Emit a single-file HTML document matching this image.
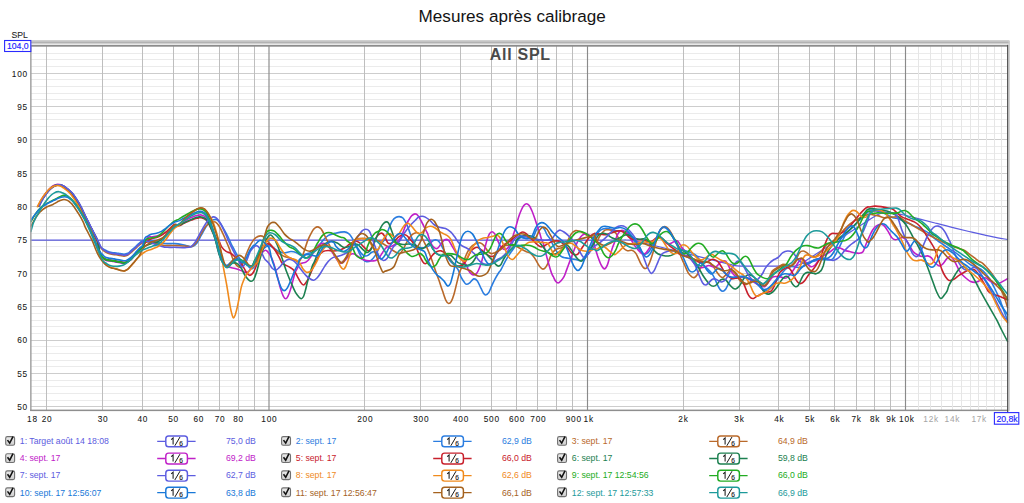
<!DOCTYPE html>
<html><head><meta charset="utf-8"><title>Mesures après calibrage</title>
<style>html,body{margin:0;padding:0;background:#fff;overflow:hidden}body{width:1024px;height:503px;position:relative;font-family:"Liberation Sans",sans-serif}</style></head><body>
<svg width="1024" height="503" viewBox="0 0 1024 503" style="position:absolute;left:0;top:0;font-family:'Liberation Sans',sans-serif">
<rect x="0" y="0" width="1024" height="503" fill="#ffffff"/>
<defs><linearGradient id="cbg" x1="0" y1="0" x2="0" y2="1"><stop offset="0" stop-color="#ececec"/><stop offset="1" stop-color="#cfcfcf"/></linearGradient></defs>
<g shape-rendering="auto" fill="none">
<line x1="30.7" y1="400.50" x2="1007.6" y2="400.50" stroke="#ebebeb" stroke-width="1"/>
<line x1="30.7" y1="393.50" x2="1007.6" y2="393.50" stroke="#ebebeb" stroke-width="1"/>
<line x1="30.7" y1="386.50" x2="1007.6" y2="386.50" stroke="#ebebeb" stroke-width="1"/>
<line x1="30.7" y1="380.50" x2="1007.6" y2="380.50" stroke="#ebebeb" stroke-width="1"/>
<line x1="30.7" y1="366.50" x2="1007.6" y2="366.50" stroke="#ebebeb" stroke-width="1"/>
<line x1="30.7" y1="360.50" x2="1007.6" y2="360.50" stroke="#ebebeb" stroke-width="1"/>
<line x1="30.7" y1="353.50" x2="1007.6" y2="353.50" stroke="#ebebeb" stroke-width="1"/>
<line x1="30.7" y1="346.50" x2="1007.6" y2="346.50" stroke="#ebebeb" stroke-width="1"/>
<line x1="30.7" y1="333.50" x2="1007.6" y2="333.50" stroke="#ebebeb" stroke-width="1"/>
<line x1="30.7" y1="326.50" x2="1007.6" y2="326.50" stroke="#ebebeb" stroke-width="1"/>
<line x1="30.7" y1="320.50" x2="1007.6" y2="320.50" stroke="#ebebeb" stroke-width="1"/>
<line x1="30.7" y1="313.50" x2="1007.6" y2="313.50" stroke="#ebebeb" stroke-width="1"/>
<line x1="30.7" y1="300.50" x2="1007.6" y2="300.50" stroke="#ebebeb" stroke-width="1"/>
<line x1="30.7" y1="293.50" x2="1007.6" y2="293.50" stroke="#ebebeb" stroke-width="1"/>
<line x1="30.7" y1="286.50" x2="1007.6" y2="286.50" stroke="#ebebeb" stroke-width="1"/>
<line x1="30.7" y1="280.50" x2="1007.6" y2="280.50" stroke="#ebebeb" stroke-width="1"/>
<line x1="30.7" y1="266.50" x2="1007.6" y2="266.50" stroke="#ebebeb" stroke-width="1"/>
<line x1="30.7" y1="260.50" x2="1007.6" y2="260.50" stroke="#ebebeb" stroke-width="1"/>
<line x1="30.7" y1="253.50" x2="1007.6" y2="253.50" stroke="#ebebeb" stroke-width="1"/>
<line x1="30.7" y1="246.50" x2="1007.6" y2="246.50" stroke="#ebebeb" stroke-width="1"/>
<line x1="30.7" y1="233.50" x2="1007.6" y2="233.50" stroke="#ebebeb" stroke-width="1"/>
<line x1="30.7" y1="226.50" x2="1007.6" y2="226.50" stroke="#ebebeb" stroke-width="1"/>
<line x1="30.7" y1="220.50" x2="1007.6" y2="220.50" stroke="#ebebeb" stroke-width="1"/>
<line x1="30.7" y1="213.50" x2="1007.6" y2="213.50" stroke="#ebebeb" stroke-width="1"/>
<line x1="30.7" y1="200.50" x2="1007.6" y2="200.50" stroke="#ebebeb" stroke-width="1"/>
<line x1="30.7" y1="193.50" x2="1007.6" y2="193.50" stroke="#ebebeb" stroke-width="1"/>
<line x1="30.7" y1="186.50" x2="1007.6" y2="186.50" stroke="#ebebeb" stroke-width="1"/>
<line x1="30.7" y1="180.50" x2="1007.6" y2="180.50" stroke="#ebebeb" stroke-width="1"/>
<line x1="30.7" y1="166.50" x2="1007.6" y2="166.50" stroke="#ebebeb" stroke-width="1"/>
<line x1="30.7" y1="159.50" x2="1007.6" y2="159.50" stroke="#ebebeb" stroke-width="1"/>
<line x1="30.7" y1="153.50" x2="1007.6" y2="153.50" stroke="#ebebeb" stroke-width="1"/>
<line x1="30.7" y1="146.50" x2="1007.6" y2="146.50" stroke="#ebebeb" stroke-width="1"/>
<line x1="30.7" y1="133.50" x2="1007.6" y2="133.50" stroke="#ebebeb" stroke-width="1"/>
<line x1="30.7" y1="126.50" x2="1007.6" y2="126.50" stroke="#ebebeb" stroke-width="1"/>
<line x1="30.7" y1="119.50" x2="1007.6" y2="119.50" stroke="#ebebeb" stroke-width="1"/>
<line x1="30.7" y1="113.50" x2="1007.6" y2="113.50" stroke="#ebebeb" stroke-width="1"/>
<line x1="30.7" y1="99.50" x2="1007.6" y2="99.50" stroke="#ebebeb" stroke-width="1"/>
<line x1="30.7" y1="93.50" x2="1007.6" y2="93.50" stroke="#ebebeb" stroke-width="1"/>
<line x1="30.7" y1="86.50" x2="1007.6" y2="86.50" stroke="#ebebeb" stroke-width="1"/>
<line x1="30.7" y1="79.50" x2="1007.6" y2="79.50" stroke="#ebebeb" stroke-width="1"/>
<line x1="30.7" y1="66.50" x2="1007.6" y2="66.50" stroke="#ebebeb" stroke-width="1"/>
<line x1="30.7" y1="59.50" x2="1007.6" y2="59.50" stroke="#ebebeb" stroke-width="1"/>
<line x1="30.7" y1="53.50" x2="1007.6" y2="53.50" stroke="#ebebeb" stroke-width="1"/>
<line x1="30.7" y1="406.50" x2="1007.6" y2="406.50" stroke="#cdcdcd" stroke-width="1"/>
<line x1="30.7" y1="373.50" x2="1007.6" y2="373.50" stroke="#cdcdcd" stroke-width="1"/>
<line x1="30.7" y1="340.50" x2="1007.6" y2="340.50" stroke="#cdcdcd" stroke-width="1"/>
<line x1="30.7" y1="306.50" x2="1007.6" y2="306.50" stroke="#cdcdcd" stroke-width="1"/>
<line x1="30.7" y1="273.50" x2="1007.6" y2="273.50" stroke="#cdcdcd" stroke-width="1"/>
<line x1="30.7" y1="240.50" x2="1007.6" y2="240.50" stroke="#cdcdcd" stroke-width="1"/>
<line x1="30.7" y1="206.50" x2="1007.6" y2="206.50" stroke="#cdcdcd" stroke-width="1"/>
<line x1="30.7" y1="173.50" x2="1007.6" y2="173.50" stroke="#cdcdcd" stroke-width="1"/>
<line x1="30.7" y1="139.50" x2="1007.6" y2="139.50" stroke="#cdcdcd" stroke-width="1"/>
<line x1="30.7" y1="106.50" x2="1007.6" y2="106.50" stroke="#cdcdcd" stroke-width="1"/>
<line x1="30.7" y1="73.50" x2="1007.6" y2="73.50" stroke="#cdcdcd" stroke-width="1"/>
<line x1="46.50" y1="45.7" x2="46.50" y2="410.2" stroke="#bebebe" stroke-width="1.00"/>
<line x1="102.50" y1="45.7" x2="102.50" y2="410.2" stroke="#bebebe" stroke-width="1.00"/>
<line x1="142.50" y1="45.7" x2="142.50" y2="410.2" stroke="#bebebe" stroke-width="1.00"/>
<line x1="173.50" y1="45.7" x2="173.50" y2="410.2" stroke="#bebebe" stroke-width="1.00"/>
<line x1="198.50" y1="45.7" x2="198.50" y2="410.2" stroke="#bebebe" stroke-width="1.00"/>
<line x1="219.50" y1="45.7" x2="219.50" y2="410.2" stroke="#bebebe" stroke-width="1.00"/>
<line x1="238.50" y1="45.7" x2="238.50" y2="410.2" stroke="#bebebe" stroke-width="1.00"/>
<line x1="254.50" y1="45.7" x2="254.50" y2="410.2" stroke="#bebebe" stroke-width="1.00"/>
<line x1="269.00" y1="45.7" x2="269.00" y2="410.2" stroke="#8a8a8a" stroke-width="1.15"/>
<line x1="364.50" y1="45.7" x2="364.50" y2="410.2" stroke="#bebebe" stroke-width="1.00"/>
<line x1="420.50" y1="45.7" x2="420.50" y2="410.2" stroke="#bebebe" stroke-width="1.00"/>
<line x1="460.50" y1="45.7" x2="460.50" y2="410.2" stroke="#bebebe" stroke-width="1.00"/>
<line x1="491.50" y1="45.7" x2="491.50" y2="410.2" stroke="#bebebe" stroke-width="1.00"/>
<line x1="516.50" y1="45.7" x2="516.50" y2="410.2" stroke="#bebebe" stroke-width="1.00"/>
<line x1="537.50" y1="45.7" x2="537.50" y2="410.2" stroke="#bebebe" stroke-width="1.00"/>
<line x1="556.50" y1="45.7" x2="556.50" y2="410.2" stroke="#bebebe" stroke-width="1.00"/>
<line x1="572.50" y1="45.7" x2="572.50" y2="410.2" stroke="#bebebe" stroke-width="1.00"/>
<line x1="587.50" y1="45.7" x2="587.50" y2="410.2" stroke="#8a8a8a" stroke-width="1.15"/>
<line x1="683.50" y1="45.7" x2="683.50" y2="410.2" stroke="#bebebe" stroke-width="1.00"/>
<line x1="739.50" y1="45.7" x2="739.50" y2="410.2" stroke="#bebebe" stroke-width="1.00"/>
<line x1="778.50" y1="45.7" x2="778.50" y2="410.2" stroke="#bebebe" stroke-width="1.00"/>
<line x1="809.50" y1="45.7" x2="809.50" y2="410.2" stroke="#bebebe" stroke-width="1.00"/>
<line x1="834.50" y1="45.7" x2="834.50" y2="410.2" stroke="#bebebe" stroke-width="1.00"/>
<line x1="856.50" y1="45.7" x2="856.50" y2="410.2" stroke="#bebebe" stroke-width="1.00"/>
<line x1="874.50" y1="45.7" x2="874.50" y2="410.2" stroke="#bebebe" stroke-width="1.00"/>
<line x1="890.50" y1="45.7" x2="890.50" y2="410.2" stroke="#bebebe" stroke-width="1.00"/>
<line x1="905.50" y1="45.7" x2="905.50" y2="410.2" stroke="#8a8a8a" stroke-width="1.15"/>
<line x1="918.50" y1="45.7" x2="918.50" y2="410.2" stroke="#e6e6e6" stroke-width="1.00"/>
<line x1="930.50" y1="45.7" x2="930.50" y2="410.2" stroke="#e6e6e6" stroke-width="1.00"/>
<line x1="941.50" y1="45.7" x2="941.50" y2="410.2" stroke="#e6e6e6" stroke-width="1.00"/>
<line x1="952.50" y1="45.7" x2="952.50" y2="410.2" stroke="#e6e6e6" stroke-width="1.00"/>
<line x1="961.50" y1="45.7" x2="961.50" y2="410.2" stroke="#e6e6e6" stroke-width="1.00"/>
<line x1="970.50" y1="45.7" x2="970.50" y2="410.2" stroke="#e6e6e6" stroke-width="1.00"/>
<line x1="978.50" y1="45.7" x2="978.50" y2="410.2" stroke="#e6e6e6" stroke-width="1.00"/>
<line x1="986.50" y1="45.7" x2="986.50" y2="410.2" stroke="#e6e6e6" stroke-width="1.00"/>
<line x1="994.50" y1="45.7" x2="994.50" y2="410.2" stroke="#e6e6e6" stroke-width="1.00"/>
<line x1="1001.50" y1="45.7" x2="1001.50" y2="410.2" stroke="#e6e6e6" stroke-width="1.00"/>
</g>
<g fill="none" stroke-linecap="round" stroke-linejoin="round" stroke-width="1.6">
<path d="M30.7 240.0C58.9 240.0 138.4 240.0 200.0 240.0C261.6 240.0 333.3 240.0 400.0 240.0C466.7 240.0 562.3 240.0 600.0 240.0C637.7 240.0 620.7 239.9 626.0 240.0C631.3 240.1 629.7 240.1 632.0 240.4C634.3 240.8 633.2 240.5 640.0 242.1C646.8 243.7 663.0 247.7 673.0 250.2C683.0 252.7 692.2 255.0 700.0 256.9C707.8 258.8 714.7 260.5 720.0 261.8C725.3 263.1 729.2 264.1 732.0 264.8C734.8 265.5 735.3 265.7 737.0 265.9C738.7 266.1 738.2 266.1 742.0 266.2C745.8 266.2 752.0 266.2 760.0 266.2C768.0 266.2 783.8 266.3 790.0 266.2C796.2 266.1 794.8 266.2 797.0 265.6C799.2 265.0 799.2 264.9 803.0 262.5C806.8 260.1 813.8 255.5 820.0 251.5C826.2 247.5 833.3 242.9 840.0 238.6C846.7 234.3 854.7 229.1 860.0 225.7C865.3 222.3 869.0 219.9 872.0 218.0C875.0 216.1 876.2 215.4 878.0 214.5C879.8 213.6 881.3 213.1 883.0 212.8C884.7 212.5 886.0 212.4 888.0 212.5C890.0 212.6 892.0 212.8 895.0 213.3C898.0 213.8 901.8 214.5 906.0 215.5C910.2 216.5 915.2 217.8 920.0 219.1C924.8 220.3 929.7 221.6 935.0 223.0C940.3 224.4 946.3 226.0 952.0 227.4C957.7 228.8 963.5 230.2 969.0 231.5C974.5 232.8 980.2 234.1 985.0 235.2C989.8 236.2 994.1 237.1 997.8 237.8C1001.5 238.5 1005.8 239.2 1007.4 239.5" stroke="#5c5ce0" stroke-width="1.25"/>
<path d="M39.0 206.1C39.5 205.2 40.8 202.2 41.8 200.5C42.8 198.8 43.8 197.2 44.8 195.8C45.8 194.3 46.8 193.0 47.8 191.8C48.8 190.6 49.8 189.5 50.8 188.6C51.8 187.7 52.8 187.0 53.8 186.4C54.8 185.8 56.0 185.4 56.8 185.2C57.6 184.9 58.0 184.8 58.8 184.9C59.6 184.9 60.8 185.1 61.8 185.5C62.8 185.9 63.8 186.4 64.8 187.1C65.8 187.8 66.5 188.3 67.8 189.4C69.1 190.5 71.0 192.0 72.5 193.8C74.0 195.6 75.3 197.7 76.8 200.0C78.3 202.3 79.9 205.0 81.3 207.7C82.7 210.4 83.9 213.3 85.3 216.2C86.7 219.1 88.4 222.4 89.8 225.2C91.2 228.0 92.5 230.4 93.8 233.1C95.1 235.8 96.6 238.8 97.8 241.2C99.0 243.6 99.8 246.0 100.9 247.4C102.0 248.8 103.4 249.0 104.5 249.6C105.6 250.2 106.2 250.7 107.4 251.2C108.6 251.7 110.3 252.2 111.8 252.5C113.3 252.8 114.9 252.8 116.3 253.0C117.7 253.2 118.7 253.4 120.0 253.6C121.3 253.8 122.7 254.3 124.0 254.3C125.3 254.2 126.7 253.9 127.9 253.3C129.1 252.7 129.8 251.7 131.0 250.7C132.2 249.7 133.8 248.2 135.1 247.1C136.3 246.0 137.3 244.9 138.5 243.9C139.7 242.9 140.8 241.7 142.2 241.1C143.6 240.5 145.5 240.4 147.0 240.3C148.5 240.2 149.6 240.3 151.2 240.6C152.8 240.8 154.8 241.4 156.6 241.8C158.4 242.2 160.1 242.7 161.9 243.0C163.7 243.3 165.2 243.5 167.3 243.6C169.4 243.7 172.6 243.5 174.4 243.6C176.2 243.7 176.4 243.7 178.0 243.9C179.6 244.1 182.2 244.6 184.0 245.0C185.8 245.4 187.6 246.0 189.0 246.3C190.4 246.6 191.1 247.1 192.4 246.6C193.7 246.1 195.3 245.1 196.8 243.2C198.3 241.3 199.8 237.9 201.3 235.2C202.8 232.5 204.5 229.3 205.8 227.1C207.2 224.9 208.2 223.4 209.4 222.2C210.6 221.0 211.7 220.4 212.9 220.0C214.1 219.6 215.3 219.0 216.5 219.5C217.7 220.0 218.9 221.5 220.1 223.1C221.3 224.7 222.4 226.6 223.7 228.9C225.0 231.2 226.9 234.6 228.1 237.0C229.3 239.4 230.0 241.4 231.0 243.5C232.0 245.6 233.1 247.5 234.2 249.6C235.3 251.7 236.4 253.9 237.7 255.9C239.0 257.9 240.5 259.7 242.2 261.3C243.8 262.9 246.0 264.4 247.6 265.7C249.2 266.9 250.7 269.1 252.0 268.8C253.3 268.5 254.6 265.7 255.6 264.0C256.6 262.3 257.2 260.2 258.0 258.5C258.8 256.8 259.4 255.5 260.4 253.8C261.4 252.1 262.6 249.8 263.9 248.4C265.2 247.1 266.9 245.8 268.4 245.7C269.9 245.5 271.2 246.6 272.9 247.5C274.5 248.4 276.5 250.2 278.3 251.1C280.1 252.0 281.5 252.8 283.6 252.9C285.7 253.0 288.7 251.6 290.8 251.5C292.9 251.4 294.3 251.7 296.1 252.4C297.9 253.1 299.7 255.4 301.5 255.6C303.3 255.8 305.1 254.4 306.9 253.8C308.7 253.2 310.4 253.1 312.2 252.0C314.0 250.9 315.8 249.4 317.6 247.5C319.4 245.6 321.2 242.4 323.0 240.4C324.8 238.4 326.3 236.6 328.4 235.4C330.5 234.2 332.8 233.8 335.5 233.2C338.2 232.6 342.2 231.8 344.4 231.9C346.6 232.0 347.4 232.6 348.7 233.6C350.0 234.6 351.0 236.1 352.2 238.1C353.4 240.1 354.6 242.8 355.8 245.3C357.0 247.8 358.2 250.9 359.4 253.3C360.6 255.7 361.8 258.2 363.0 259.6C364.2 261.0 365.3 261.7 366.6 261.8C367.9 261.9 369.5 261.6 371.0 260.5C372.5 259.4 374.1 257.2 375.5 255.1C376.9 253.0 378.1 249.8 379.1 247.9C380.1 246.0 380.5 245.0 381.5 243.5C382.5 242.0 383.8 241.4 385.0 239.0C386.2 236.6 387.4 232.2 388.6 229.2C389.8 226.2 391.0 223.0 392.2 221.1C393.4 219.2 394.5 218.2 395.7 217.5C396.9 216.8 398.1 216.5 399.3 216.6C400.5 216.7 401.7 216.8 402.9 218.0C404.1 219.2 405.4 221.7 406.5 223.8C407.6 226.0 408.3 228.5 409.2 230.9C410.1 233.3 410.9 236.0 411.8 238.1C412.7 240.2 413.4 242.0 414.5 243.5C415.6 245.0 416.9 246.3 418.1 247.0C419.3 247.7 420.6 247.8 421.7 247.9C422.8 248.0 423.8 247.8 425.0 247.5C426.2 247.2 427.6 247.0 428.8 246.0C430.0 245.0 430.9 242.5 432.0 241.5C433.1 240.5 434.5 239.7 435.7 239.8C436.9 239.9 438.1 240.6 439.3 242.0C440.5 243.4 441.7 246.1 442.9 248.3C444.1 250.5 445.3 253.3 446.5 255.4C447.7 257.5 448.7 259.2 450.0 260.8C451.3 262.4 453.1 263.8 454.5 265.3C455.9 266.8 457.0 267.7 458.1 269.7C459.2 271.7 460.2 275.2 461.1 277.2C462.1 279.2 462.9 280.4 463.8 281.6C464.7 282.8 465.4 284.2 466.5 284.3C467.6 284.4 468.9 283.4 470.1 282.5C471.3 281.6 472.5 279.2 473.7 278.9C474.9 278.6 476.0 279.2 477.2 280.7C478.4 282.2 479.8 285.8 480.8 287.9C481.9 290.0 482.7 292.1 483.5 293.3C484.3 294.5 484.8 295.1 485.7 295.0C486.6 294.9 487.9 293.9 488.9 292.4C489.9 290.9 490.6 288.4 491.6 286.1C492.6 283.9 493.9 281.1 495.1 278.9C496.3 276.7 497.7 274.2 498.7 272.7C499.7 271.2 499.9 271.7 501.0 269.7C502.1 267.7 504.0 263.5 505.5 260.8C507.0 258.1 508.5 255.8 510.0 253.6C511.5 251.4 513.2 249.3 514.4 247.4C515.6 245.5 516.2 243.5 517.0 242.0C517.8 240.5 518.5 239.2 519.3 238.5C520.1 237.8 520.9 237.5 522.0 237.5C523.1 237.5 524.8 238.3 526.0 238.5C527.2 238.7 528.4 238.5 529.5 238.5C530.6 238.5 531.6 239.7 532.7 238.3C533.8 236.9 535.3 232.0 536.3 230.2C537.3 228.4 537.8 227.9 538.5 227.3C539.2 226.7 539.8 226.3 540.8 226.6C541.8 226.9 543.4 228.0 544.4 229.3C545.4 230.7 546.1 233.2 547.0 234.7C547.9 236.2 548.8 236.8 549.7 238.3C550.6 239.8 551.5 241.8 552.4 243.6C553.3 245.4 554.0 247.2 555.1 249.0C556.2 250.8 557.5 253.1 558.7 254.4C559.9 255.7 561.0 256.4 562.2 257.0C563.4 257.6 564.3 257.6 565.8 257.9C567.3 258.2 569.4 258.5 571.2 258.8C573.0 259.1 575.0 259.4 576.6 259.7C578.2 260.0 579.8 260.9 581.0 260.6C582.2 260.3 582.8 258.9 583.7 257.9C584.6 256.9 585.4 255.9 586.4 254.4C587.4 252.9 589.0 250.8 590.0 249.0C591.0 247.2 592.0 245.2 592.7 243.6C593.4 241.9 593.8 240.4 594.4 239.1C595.0 237.8 595.1 237.1 596.1 235.6C597.1 234.1 598.9 231.4 600.5 230.2C602.1 229.0 604.1 228.6 605.9 228.4C607.7 228.2 609.5 228.9 611.3 229.3C613.1 229.7 614.8 230.4 616.6 230.7C618.4 231.0 620.2 230.7 622.0 231.1C623.8 231.5 625.6 231.7 627.4 232.9C629.2 234.1 631.2 236.4 632.7 238.3C634.2 240.2 635.1 242.6 636.3 244.5C637.5 246.4 638.9 248.6 639.9 250.0C640.9 251.4 641.6 252.1 642.5 252.8C643.4 253.5 644.2 254.3 645.2 254.2C646.2 254.0 647.8 253.0 648.8 251.9C649.8 250.8 650.6 249.0 651.5 247.5C652.4 246.0 653.2 244.2 654.0 243.0C654.8 241.8 655.2 241.7 656.0 240.0C656.8 238.3 657.8 234.8 658.7 232.9C659.6 231.0 660.4 229.7 661.3 228.8C662.2 227.9 663.1 227.4 664.0 227.4C664.9 227.4 665.7 227.7 666.7 228.6C667.8 229.5 669.1 231.1 670.3 232.9C671.5 234.7 672.7 237.1 673.9 239.2C675.1 241.3 676.2 243.8 677.4 245.4C678.6 247.0 679.6 248.1 681.0 249.0C682.4 249.9 684.4 250.4 686.0 251.0C687.6 251.6 689.3 251.8 690.9 252.5C692.5 253.2 694.2 254.1 695.4 255.0C696.6 255.9 696.8 256.2 698.0 257.7C699.2 259.2 701.0 262.1 702.5 263.9C704.0 265.7 705.5 266.9 707.0 268.4C708.5 269.9 710.2 271.1 711.5 272.9C712.8 274.7 714.0 277.1 715.0 279.2C716.0 281.3 716.8 283.6 717.7 285.4C718.6 287.2 719.5 288.9 720.4 289.9C721.3 290.9 722.2 291.3 723.1 291.2C724.0 291.1 724.9 290.3 725.8 289.0C726.7 287.7 727.6 285.2 728.5 283.6C729.4 282.0 730.1 280.2 731.1 279.2C732.1 278.2 733.4 277.7 734.7 277.4C736.0 277.1 737.5 277.2 739.0 277.2C740.5 277.2 742.4 277.2 744.0 277.5C745.6 277.8 746.9 278.3 748.5 279.0C750.1 279.7 751.9 280.5 753.5 281.5C755.1 282.5 756.5 283.7 758.0 285.0C759.5 286.3 761.5 288.5 762.4 289.5C763.3 290.5 762.3 290.7 763.4 290.8C764.5 290.9 767.1 290.8 768.7 289.9C770.3 289.0 771.7 287.2 773.2 285.4C774.7 283.6 776.2 281.3 777.7 279.2C779.2 277.1 780.7 274.7 782.2 272.9C783.7 271.1 785.1 269.4 786.6 268.4C788.1 267.3 789.6 266.8 791.1 266.6C792.6 266.4 794.1 267.0 795.6 267.1C797.1 267.2 798.5 267.7 800.0 267.5C801.5 267.3 803.0 266.4 804.5 265.7C806.0 264.9 807.5 263.7 809.0 263.0C810.5 262.3 811.9 261.8 813.5 261.3C815.1 260.8 817.0 260.1 818.8 259.8C820.6 259.5 822.7 259.6 824.2 259.6C825.8 259.6 826.7 260.0 828.1 259.9C829.5 259.8 831.3 260.3 832.9 258.7C834.5 257.1 836.3 253.0 837.7 250.4C839.1 247.8 840.1 245.6 841.3 243.2C842.5 240.8 843.4 238.2 844.8 236.0C846.2 233.8 848.0 231.9 849.6 230.1C851.2 228.3 852.8 226.9 854.4 225.3C856.0 223.7 857.6 222.1 859.2 220.5C860.8 218.9 862.4 217.1 863.9 215.7C865.4 214.3 867.0 213.0 868.0 212.2C869.0 211.4 869.0 211.2 870.0 210.8C871.0 210.4 872.1 209.9 873.7 209.9C875.3 209.9 877.5 210.3 879.7 211.1C881.9 211.9 884.7 213.6 886.9 214.7C889.1 215.8 890.8 217.0 892.8 217.7C894.8 218.4 896.8 218.2 898.8 218.9C900.8 219.6 902.8 221.0 904.8 221.9C906.8 222.8 908.8 223.5 910.7 224.3C912.6 225.1 914.0 225.9 916.0 226.8C918.0 227.7 920.4 228.4 922.7 229.6C925.0 230.8 927.8 232.3 929.8 233.8C931.8 235.3 932.6 236.8 934.8 238.6C937.0 240.4 940.5 242.7 943.1 244.5C945.7 246.3 947.9 247.7 950.3 249.3C952.7 250.9 955.1 252.3 957.5 254.1C959.9 255.9 962.4 258.3 964.6 260.1C966.8 261.9 968.6 263.6 970.6 264.8C972.6 266.0 974.5 266.2 976.6 267.2C978.7 268.2 980.9 269.0 983.0 270.8C985.1 272.6 987.0 275.0 989.0 278.0C991.0 281.0 993.2 285.3 995.0 289.0C996.8 292.7 998.5 296.3 1000.0 300.0C1001.5 303.7 1002.7 307.6 1004.0 311.0C1005.3 314.4 1007.0 319.1 1007.6 320.7" stroke="#2b7de0"/>
<path d="M38.8 206.3C39.3 205.4 40.6 202.4 41.6 200.7C42.6 199.0 43.6 197.4 44.6 196.0C45.6 194.6 46.6 193.2 47.6 192.0C48.6 190.8 49.6 189.7 50.6 188.8C51.6 187.9 52.6 187.2 53.6 186.6C54.6 186.0 55.8 185.7 56.6 185.4C57.4 185.2 57.8 185.0 58.6 185.1C59.4 185.2 60.6 185.3 61.6 185.7C62.6 186.1 63.6 186.7 64.6 187.3C65.6 188.0 66.3 188.5 67.6 189.6C68.9 190.7 70.8 192.2 72.3 194.0C73.8 195.8 75.1 197.9 76.6 200.2C78.1 202.5 79.7 205.2 81.1 207.9C82.5 210.6 83.7 213.5 85.1 216.4C86.5 219.3 88.2 222.6 89.6 225.4C91.0 228.2 92.3 230.6 93.6 233.3C94.9 236.0 96.4 239.0 97.6 241.4C98.8 243.8 99.5 245.9 100.7 247.6C101.8 249.3 103.4 250.5 104.5 251.4C105.6 252.3 106.2 252.5 107.4 253.0C108.6 253.5 110.3 254.0 111.8 254.3C113.3 254.6 114.9 254.6 116.3 254.8C117.7 255.0 118.7 255.2 120.0 255.4C121.3 255.6 122.7 256.1 124.0 256.1C125.3 256.0 126.7 255.7 127.9 255.1C129.1 254.5 129.8 253.5 131.0 252.5C132.2 251.5 133.8 250.0 135.1 248.9C136.3 247.8 137.3 246.7 138.5 245.7C139.7 244.7 140.8 243.5 142.2 242.9C143.6 242.3 145.5 242.3 147.0 242.1C148.5 241.9 149.6 241.7 151.2 241.9C152.8 242.1 154.8 243.0 156.6 243.5C158.4 244.0 160.1 244.7 161.9 245.0C163.7 245.3 165.2 245.5 167.3 245.6C169.4 245.7 172.6 245.5 174.4 245.5C176.2 245.5 176.2 245.5 178.0 245.6C179.8 245.7 182.8 245.8 185.0 246.0C187.2 246.2 189.5 247.3 191.5 246.6C193.5 245.8 195.2 243.7 196.8 241.5C198.4 239.3 199.8 235.9 201.3 233.4C202.8 230.9 204.5 228.0 205.8 226.3C207.2 224.6 208.2 223.8 209.4 223.1C210.6 222.3 211.9 222.0 212.9 221.8C213.9 221.7 214.6 221.4 215.6 222.2C216.6 222.9 218.0 224.4 219.2 226.3C220.4 228.2 221.6 230.9 222.8 233.4C224.0 235.9 225.2 238.8 226.3 241.5C227.5 244.2 228.7 246.9 229.7 249.6C230.7 252.3 231.4 255.2 232.4 257.7C233.4 260.2 234.7 262.9 235.9 264.5C237.1 266.1 238.5 267.2 239.5 267.3C240.5 267.4 241.2 266.1 242.0 265.0C242.8 263.9 243.2 262.6 244.0 260.5C244.8 258.4 245.9 255.1 247.0 252.5C248.1 249.9 249.3 247.1 250.3 245.2C251.3 243.2 252.1 242.1 253.0 240.8C253.9 239.5 254.7 238.4 255.9 237.6C257.1 236.8 259.1 236.0 260.4 235.9C261.7 235.8 262.6 236.2 263.9 237.2C265.2 238.2 266.9 240.4 268.4 242.1C269.9 243.8 271.2 245.7 272.9 247.5C274.5 249.3 276.4 251.4 278.3 252.9C280.2 254.4 282.4 255.6 284.5 256.5C286.6 257.4 288.9 257.5 290.8 258.2C292.7 258.9 294.8 260.2 296.1 260.9C297.4 261.6 298.0 262.7 298.8 262.3C299.6 261.9 300.2 259.9 301.0 258.5C301.8 257.1 302.2 256.8 303.3 253.8C304.4 250.8 306.3 244.1 307.8 240.4C309.3 236.7 311.0 233.5 312.2 231.4C313.4 229.3 314.1 228.8 315.0 228.0C315.9 227.2 316.8 226.9 317.6 226.9C318.4 226.9 319.2 227.4 320.0 228.0C320.8 228.6 321.0 228.6 322.1 230.5C323.2 232.4 325.1 236.5 326.6 239.5C328.1 242.5 329.5 245.4 331.0 248.4C332.5 251.4 334.1 255.2 335.5 257.4C336.9 259.6 338.1 260.9 339.1 261.8C340.1 262.7 340.4 263.4 341.5 262.8C342.6 262.2 344.4 259.9 345.6 258.0C346.8 256.1 347.6 254.1 348.7 251.5C349.8 248.9 351.0 244.6 352.2 242.6C353.4 240.6 354.3 240.1 355.8 239.4C357.3 238.7 359.4 238.7 361.2 238.5C363.0 238.3 365.1 238.3 366.6 238.5C368.1 238.7 369.0 239.7 370.1 239.9C371.2 240.1 371.7 239.4 373.1 239.6C374.5 239.8 376.9 240.4 378.5 241.1C380.1 241.8 381.3 242.9 382.9 243.8C384.5 244.8 386.6 245.7 388.3 246.8C390.0 247.9 391.5 249.5 393.0 250.5C394.5 251.5 396.0 252.4 397.2 252.8C398.4 253.2 399.2 253.7 400.2 253.2C401.1 252.7 402.0 251.2 402.9 249.8C403.8 248.4 404.6 246.4 405.6 244.5C406.7 242.6 408.0 239.8 409.2 238.1C410.4 236.4 411.5 235.0 412.7 234.1C413.9 233.2 415.2 232.8 416.3 232.7C417.4 232.6 418.1 232.8 419.0 233.6C419.9 234.3 420.8 235.7 421.7 237.2C422.6 238.7 423.5 240.8 424.4 242.6C425.3 244.4 426.1 245.9 427.0 247.9C427.9 249.9 428.6 251.6 429.7 254.3C430.8 257.0 432.4 261.6 433.3 264.2C434.2 266.8 434.3 267.4 435.2 270.0C436.1 272.6 437.6 276.4 438.8 279.8C440.0 283.2 441.2 287.2 442.4 290.6C443.6 294.0 444.9 298.2 445.9 300.4C446.9 302.5 447.7 303.4 448.6 303.5C449.5 303.6 450.4 302.9 451.3 301.3C452.2 299.8 453.1 297.2 454.0 294.2C454.9 291.2 455.8 287.0 456.7 283.4C457.6 279.8 458.5 275.5 459.4 272.7C460.3 269.9 460.9 269.4 461.9 266.8C462.9 264.2 464.1 259.8 465.3 257.0C466.5 254.2 467.6 251.7 468.8 249.8C470.0 247.9 471.0 246.7 472.4 245.6C473.8 244.5 475.5 243.8 476.9 243.3C478.2 242.9 479.3 242.5 480.5 242.9C481.7 243.3 482.8 244.3 484.0 245.6C485.2 246.9 486.4 249.6 487.6 250.9C488.8 252.2 490.0 253.3 491.2 253.6C492.4 253.9 493.6 253.1 494.8 252.7C496.0 252.2 497.3 251.6 498.4 250.9C499.5 250.2 500.4 249.4 501.5 248.5C502.6 247.6 503.5 246.0 505.0 245.5C506.5 245.0 508.6 245.3 510.4 245.4C512.2 245.5 513.9 245.7 515.7 246.3C517.5 246.9 519.3 248.1 521.1 249.0C522.9 249.9 524.9 250.9 526.5 251.7C528.1 252.4 529.6 252.5 530.9 253.5C532.2 254.5 533.3 256.1 534.5 257.9C535.7 259.7 537.1 262.5 538.1 264.2C539.1 265.9 540.0 267.0 540.8 267.8C541.6 268.6 542.2 269.1 543.0 269.1C543.8 269.1 544.5 268.8 545.3 267.8C546.1 266.8 547.0 265.2 547.9 263.3C548.8 261.4 549.7 258.1 550.6 256.2C551.5 254.3 552.2 252.9 553.3 251.7C554.3 250.5 555.7 249.6 556.9 249.0C558.1 248.4 559.3 248.5 560.5 248.1C561.7 247.7 562.8 247.5 564.0 246.3C565.2 245.1 566.6 242.7 567.6 240.9C568.6 239.1 569.5 237.0 570.3 235.6C571.1 234.2 571.6 233.3 572.5 232.5C573.4 231.7 574.4 230.8 575.7 230.6C577.0 230.4 578.6 231.0 580.1 231.5C581.6 232.0 583.1 233.0 584.6 233.8C586.1 234.6 587.5 235.8 589.1 236.5C590.7 237.2 593.1 237.5 594.4 238.3C595.7 239.1 596.1 241.6 596.9 241.5C597.7 241.4 598.2 238.8 599.0 237.5C599.8 236.2 600.4 235.0 601.4 233.8C602.4 232.6 604.0 230.9 605.0 230.2C606.0 229.5 606.7 229.8 607.7 229.8C608.8 229.8 610.0 229.7 611.3 230.2C612.6 230.7 614.5 231.6 615.7 232.9C616.9 234.2 617.5 236.4 618.4 238.3C619.3 240.2 620.2 242.8 621.1 244.5C622.0 246.2 622.8 247.5 623.8 248.5C624.8 249.5 626.1 250.4 627.4 250.7C628.7 251.0 630.5 250.0 631.8 250.3C633.1 250.6 634.3 251.4 635.4 252.7C636.5 253.9 637.2 256.0 638.1 257.8C639.0 259.6 639.9 262.0 640.8 263.6C641.7 265.2 642.7 266.8 643.5 267.6C644.3 268.4 645.0 268.7 645.7 268.5C646.4 268.3 647.1 267.7 647.9 266.3C648.7 264.9 649.7 262.5 650.6 260.0C651.5 257.5 652.4 254.5 653.3 251.5C654.2 248.5 655.1 245.0 656.0 242.0C656.9 239.0 657.8 235.7 658.7 233.5C659.6 231.3 660.3 229.8 661.3 228.6C662.3 227.4 663.5 226.7 664.5 226.6C665.5 226.5 666.5 226.9 667.6 228.0C668.7 229.1 670.0 230.9 671.2 232.9C672.4 234.9 673.8 237.9 674.8 240.0C675.8 242.1 676.7 243.7 677.4 245.4C678.1 247.2 678.4 248.6 679.0 250.5C679.6 252.4 680.1 254.4 681.0 256.8C681.9 259.2 683.4 262.1 684.6 264.8C685.8 267.5 687.0 270.9 688.2 272.9C689.4 274.9 690.8 276.1 691.8 276.9C692.8 277.6 693.6 277.8 694.5 277.4C695.4 277.0 696.3 276.0 697.2 274.7C698.1 273.4 698.9 270.9 699.8 269.3C700.7 267.7 701.5 266.0 702.5 264.8C703.5 263.6 704.9 262.5 706.1 262.2C707.3 261.9 708.5 262.3 709.7 263.0C710.9 263.7 712.1 265.1 713.3 266.6C714.5 268.1 715.6 270.4 716.8 272.0C718.0 273.6 719.3 275.6 720.4 276.5C721.5 277.4 722.2 277.7 723.1 277.4C724.0 277.1 724.9 275.6 725.8 274.7C726.7 273.8 727.6 272.8 728.5 272.0C729.4 271.2 730.1 270.1 731.1 270.2C732.1 270.3 733.5 271.5 734.7 272.9C735.9 274.2 737.1 276.7 738.3 278.3C739.5 279.9 740.7 281.7 741.9 282.7C743.1 283.7 744.3 284.5 745.5 284.5C746.7 284.5 747.7 283.4 749.0 282.7C750.3 281.9 752.0 280.3 753.5 280.0C755.0 279.7 756.5 280.3 758.0 280.9C759.5 281.5 761.4 282.9 762.4 283.6C763.4 284.4 763.5 285.5 764.3 285.4C765.0 285.2 766.0 284.2 766.9 282.7C767.8 281.2 768.7 278.4 769.6 276.5C770.5 274.6 771.2 272.5 772.3 271.1C773.3 269.8 774.7 269.2 775.9 268.4C777.1 267.6 778.3 266.9 779.5 266.2C780.7 265.5 781.8 264.6 783.0 264.4C784.2 264.2 785.4 264.6 786.6 264.8C787.8 265.0 789.0 266.0 790.2 265.7C791.4 265.4 792.8 264.2 793.8 263.0C794.8 261.8 795.5 260.3 796.5 258.6C797.5 256.9 798.4 254.0 799.5 252.7C800.6 251.4 801.9 251.0 803.1 251.0C804.3 251.0 805.2 251.8 806.6 252.7C808.0 253.6 809.8 255.7 811.4 256.3C813.0 256.9 814.6 257.1 816.2 256.3C817.8 255.5 819.4 253.3 821.0 251.5C822.6 249.7 824.3 247.0 825.7 245.6C827.1 244.2 827.9 244.0 829.3 243.2C830.7 242.4 832.5 242.0 834.1 240.8C835.7 239.6 837.3 237.8 838.9 236.0C840.5 234.2 842.0 231.9 843.6 230.1C845.2 228.3 846.8 226.7 848.4 225.3C850.0 223.9 851.6 222.8 853.2 221.7C854.8 220.6 856.4 219.9 858.0 219.0C859.6 218.1 861.3 217.2 863.0 216.5C864.7 215.8 866.4 214.8 868.0 214.5C869.6 214.2 870.8 214.5 872.5 214.7C874.2 214.9 876.5 215.4 878.5 215.9C880.5 216.4 882.3 217.5 884.5 217.7C886.7 217.9 889.2 217.2 891.6 217.1C894.0 217.0 896.6 216.5 898.8 217.1C901.0 217.7 902.8 219.5 904.8 220.7C906.8 221.9 908.7 223.1 910.7 224.3C912.7 225.5 914.7 226.6 916.7 227.8C918.7 229.0 920.7 230.2 922.7 231.4C924.7 232.6 926.2 233.6 928.8 235.0C931.4 236.4 935.2 238.2 938.4 239.8C941.6 241.4 944.7 243.1 947.9 244.5C951.1 245.9 954.7 247.1 957.5 248.1C960.3 249.1 962.6 249.5 964.6 250.5C966.6 251.5 967.8 252.9 969.4 254.1C971.0 255.3 972.6 256.5 974.2 257.7C975.8 258.9 977.4 260.3 978.9 261.3C980.4 262.3 981.0 261.8 983.0 263.6C985.0 265.4 988.4 269.3 990.6 272.0C992.8 274.7 994.4 277.2 996.0 280.0C997.6 282.8 999.1 285.5 1000.5 288.5C1001.9 291.5 1003.3 294.9 1004.5 298.0C1005.7 301.1 1007.1 305.8 1007.6 307.4" stroke="#b9692a"/>
<path d="M38.6 205.5C39.1 204.6 40.4 201.6 41.4 199.9C42.4 198.2 43.4 196.6 44.4 195.2C45.4 193.8 46.4 192.4 47.4 191.2C48.4 190.0 49.4 188.9 50.4 188.0C51.4 187.1 52.4 186.4 53.4 185.8C54.4 185.2 55.6 184.8 56.4 184.6C57.2 184.3 57.6 184.2 58.4 184.3C59.2 184.3 60.4 184.5 61.4 184.9C62.4 185.3 63.4 185.8 64.4 186.5C65.4 187.2 66.1 187.7 67.4 188.8C68.7 189.9 70.6 191.4 72.1 193.2C73.6 195.0 74.9 197.1 76.4 199.4C77.9 201.7 79.5 204.4 80.9 207.1C82.3 209.8 83.5 212.7 84.9 215.6C86.3 218.5 88.0 221.8 89.4 224.6C90.8 227.4 92.1 229.8 93.4 232.5C94.7 235.2 96.3 236.7 97.4 240.6C98.5 244.5 99.3 252.7 100.2 255.7C101.1 258.7 102.1 257.6 103.0 258.4C103.9 259.1 104.5 259.8 105.6 260.2C106.7 260.6 108.2 260.8 109.5 261.0C110.8 261.2 112.3 261.3 113.6 261.5C114.8 261.7 115.8 262.0 117.0 262.2C118.2 262.4 119.4 262.7 120.8 262.9C122.2 263.1 123.7 263.7 125.2 263.3C126.7 262.9 128.4 261.6 129.7 260.6C131.0 259.6 131.9 258.5 133.0 257.4C134.1 256.3 135.0 255.0 136.0 253.9C137.0 252.8 138.0 251.7 139.0 250.7C140.0 249.7 140.8 249.9 142.2 247.7C143.6 245.6 146.0 239.6 147.6 237.8C149.2 236.0 150.5 237.2 152.0 236.9C153.5 236.6 155.1 236.4 156.6 236.0C158.1 235.6 159.5 235.2 161.0 234.6C162.5 234.0 164.0 233.5 165.5 232.6C167.0 231.7 168.5 230.5 170.0 229.2C171.5 227.9 172.9 225.8 174.4 225.0C175.9 224.2 177.4 225.1 178.9 224.5C180.4 223.9 182.0 222.5 183.5 221.6C185.0 220.7 186.4 219.9 187.9 219.1C189.4 218.3 191.0 217.6 192.5 217.0C194.0 216.4 195.7 215.8 196.8 215.5C197.9 215.2 198.2 215.2 199.0 215.1C199.8 215.0 200.2 214.7 201.3 215.1C202.4 215.5 204.5 216.0 205.8 217.3C207.2 218.6 208.2 220.3 209.4 222.7C210.6 225.1 211.9 228.7 212.9 231.6C213.9 234.5 214.7 237.3 215.5 240.0C216.3 242.7 216.8 245.5 217.5 248.0C218.2 250.5 218.8 253.0 219.5 255.0C220.2 257.0 220.8 258.5 221.5 260.0C222.2 261.5 223.2 263.0 224.0 264.0C224.8 265.0 225.4 265.6 226.5 266.2C227.6 266.8 228.9 267.1 230.6 267.5C232.3 267.9 234.9 268.3 236.8 268.9C238.7 269.5 240.7 270.5 242.2 271.1C243.7 271.7 244.9 272.5 246.0 272.5C247.1 272.5 248.0 272.0 249.0 271.0C250.0 270.0 251.0 268.2 252.0 266.5C253.0 264.8 253.9 262.2 255.0 260.5C256.1 258.8 257.3 257.3 258.5 256.0C259.7 254.7 261.0 253.4 262.2 252.5C263.4 251.6 264.5 250.1 265.7 250.3C266.9 250.5 268.1 252.0 269.3 253.8C270.5 255.6 271.7 257.7 272.9 261.0C274.1 264.3 275.5 269.1 276.7 273.6C277.9 278.1 279.2 284.1 280.3 287.9C281.4 291.7 282.5 294.6 283.4 296.4C284.3 298.2 284.9 298.7 285.7 298.7C286.4 298.7 287.0 298.2 287.9 296.4C288.8 294.6 289.9 291.7 291.0 287.9C292.1 284.1 293.8 277.0 294.8 273.8C295.9 270.6 296.5 270.1 297.3 268.5C298.1 266.9 298.6 265.2 299.5 264.3C300.4 263.4 301.4 263.4 302.5 263.0C303.6 262.6 304.6 263.1 305.9 262.2C307.2 261.3 308.9 259.7 310.5 257.4C312.1 255.1 314.2 250.7 315.8 248.4C317.4 246.2 318.7 244.7 320.3 243.9C321.9 243.2 323.9 242.9 325.7 243.9C327.5 244.9 329.4 247.9 331.0 250.2C332.6 252.4 334.1 255.3 335.5 257.4C336.9 259.5 338.2 261.8 339.1 262.7C340.0 263.6 339.8 263.3 340.6 263.1C341.5 262.9 342.9 262.6 344.2 261.4C345.5 260.2 347.4 257.3 348.7 256.0C350.0 254.7 351.0 254.0 352.2 253.8C353.4 253.6 354.3 253.8 355.8 254.6C357.3 255.4 359.4 257.7 361.2 258.7C363.0 259.7 364.5 260.1 366.6 260.5C368.7 260.9 371.9 261.0 373.7 260.9C375.5 260.8 376.1 260.6 377.3 259.6C378.5 258.6 379.7 256.8 380.9 255.1C382.1 253.4 383.3 251.1 384.4 249.7C385.5 248.3 386.6 247.0 387.7 246.5C388.8 246.0 389.7 246.9 391.0 246.5C392.3 246.1 393.9 245.3 395.5 243.8C397.1 242.3 399.1 240.5 400.8 237.5C402.5 234.5 404.2 228.6 405.6 225.6C407.0 222.6 408.2 221.0 409.2 219.3C410.2 217.7 410.8 216.6 411.8 215.7C412.8 214.8 413.9 213.9 415.0 213.9C416.1 213.9 417.0 214.3 418.1 215.7C419.2 217.0 420.5 219.8 421.7 222.0C422.9 224.2 424.3 227.2 425.3 229.2C426.3 231.2 426.9 231.8 427.7 233.9C428.5 236.0 429.4 239.8 430.4 242.0C431.4 244.2 432.7 246.3 433.9 247.4C435.1 248.5 436.3 248.9 437.5 248.3C438.7 247.7 439.9 245.2 441.1 243.8C442.3 242.4 443.5 240.4 444.7 239.8C445.9 239.2 447.1 239.2 448.3 240.2C449.5 241.2 450.6 243.7 451.8 245.6C453.0 247.5 454.2 250.0 455.4 251.8C456.6 253.6 457.8 254.8 459.0 256.3C460.2 257.8 461.3 259.2 462.6 260.8C463.9 262.4 466.1 264.6 467.0 266.1C467.9 267.6 467.6 268.8 468.3 270.0C469.0 271.2 470.1 272.8 471.0 273.6C471.9 274.4 472.8 274.9 473.7 274.9C474.6 274.9 475.6 274.5 476.4 273.6C477.2 272.7 477.9 271.5 478.7 269.7C479.5 267.9 480.5 265.6 481.4 262.6C482.3 259.6 483.1 255.4 484.0 251.8C484.9 248.2 485.8 244.1 486.7 241.1C487.6 238.1 488.5 235.5 489.4 233.9C490.3 232.3 491.2 231.7 492.1 231.7C493.0 231.7 493.9 232.5 494.8 233.9C495.7 235.3 496.6 238.2 497.5 240.2C498.4 242.1 499.1 244.1 500.1 245.6C501.1 247.1 502.5 248.8 503.7 249.2C504.9 249.6 506.1 249.4 507.3 248.3C508.5 247.2 509.8 245.3 510.9 242.9C511.9 240.5 512.8 236.5 513.6 233.9C514.4 231.3 514.9 230.2 515.7 227.5C516.5 224.8 517.5 220.5 518.4 217.7C519.3 214.9 520.2 212.5 521.1 210.5C522.0 208.5 522.9 206.7 523.8 205.6C524.7 204.5 525.6 203.8 526.5 203.8C527.4 203.8 528.3 204.5 529.2 205.6C530.1 206.7 530.9 208.5 531.8 210.5C532.7 212.5 533.6 215.2 534.5 217.7C535.4 220.2 536.3 223.0 537.2 225.7C538.1 228.4 539.1 231.4 539.9 233.8C540.6 236.2 541.1 238.3 541.7 240.0C542.3 241.7 542.8 241.6 543.5 244.0C544.2 246.4 545.2 251.0 546.1 254.4C547.0 257.8 547.9 261.1 548.8 264.2C549.7 267.3 550.8 271.0 551.5 273.1C552.2 275.2 552.6 275.4 553.3 276.7C554.0 278.0 554.7 279.9 555.5 281.0C556.3 282.1 557.2 283.0 558.1 283.0C559.0 283.0 559.8 282.1 560.8 281.0C561.8 279.9 563.0 278.6 564.0 276.7C565.0 274.8 565.8 272.0 566.7 269.6C567.6 267.2 568.5 264.8 569.4 262.4C570.3 260.0 571.2 257.7 572.1 255.3C573.0 252.9 573.9 250.3 574.8 248.1C575.7 245.8 576.5 243.7 577.5 241.8C578.5 239.9 579.9 237.8 581.0 236.5C582.1 235.2 583.1 234.6 584.0 234.2C584.9 233.8 585.4 233.6 586.4 233.8C587.4 234.0 588.9 234.7 590.0 235.6C591.1 236.5 592.3 237.9 593.0 239.5C593.7 241.1 593.5 242.2 594.3 245.0C595.1 247.8 596.6 253.0 597.8 256.4C599.0 259.8 600.3 263.3 601.4 265.4C602.5 267.5 603.5 268.9 604.5 268.9C605.5 268.9 606.4 267.2 607.2 265.4C608.0 263.5 608.7 260.6 609.5 257.8C610.3 255.0 611.3 251.2 612.2 248.5C613.1 245.8 613.9 244.1 614.8 241.8C615.7 239.5 616.6 236.5 617.5 234.7C618.4 232.9 619.2 231.8 620.2 231.1C621.2 230.4 622.6 230.2 623.8 230.7C625.0 231.1 626.2 232.4 627.4 233.8C628.6 235.2 629.7 237.3 630.9 239.2C632.1 241.1 633.3 243.6 634.5 245.4C635.7 247.2 636.9 248.6 638.1 249.9C639.3 251.2 640.5 252.9 641.7 253.5C642.9 254.1 644.0 254.2 645.2 253.5C646.4 252.8 647.6 250.8 648.8 249.0C650.0 247.2 651.2 244.5 652.4 242.7C653.6 240.9 654.8 239.2 656.0 238.3C657.2 237.4 658.4 237.1 659.6 237.4C660.8 237.7 661.9 239.0 663.1 240.0C664.3 241.0 665.5 243.0 666.7 243.6C667.9 244.2 669.1 243.9 670.3 243.6C671.5 243.3 672.7 242.2 673.9 241.8C675.1 241.4 676.1 240.0 677.4 240.9C678.7 241.8 680.4 245.4 681.9 247.4C683.4 249.4 684.9 250.8 686.4 252.7C687.9 254.6 689.5 257.2 690.9 259.0C692.2 260.8 693.3 262.4 694.5 263.7C695.7 265.0 696.6 266.4 698.0 267.0C699.4 267.6 701.2 267.8 703.0 267.5C704.8 267.2 707.1 265.6 708.8 265.5C710.5 265.4 712.0 266.7 713.3 266.8C714.6 266.9 715.8 266.8 716.8 266.2C717.8 265.6 718.5 264.1 719.5 263.2C720.5 262.3 722.1 261.2 723.1 260.9C724.1 260.6 724.9 260.5 725.8 261.3C726.7 262.1 727.6 264.1 728.5 265.7C729.4 267.3 730.1 269.5 731.1 271.1C732.1 272.8 733.4 274.6 734.7 275.6C736.1 276.6 737.7 276.8 739.2 276.9C740.7 277.0 742.2 276.3 743.7 276.5C745.2 276.7 746.5 277.4 748.1 278.3C749.7 279.2 751.9 280.8 753.5 281.8C755.1 282.8 756.5 283.8 758.0 284.5C759.5 285.2 761.2 286.0 762.4 286.3C763.6 286.6 764.2 287.1 765.2 286.3C766.2 285.6 767.5 283.3 768.7 281.8C769.9 280.3 771.1 278.3 772.3 277.4C773.5 276.5 774.5 276.6 775.9 276.5C777.2 276.4 778.9 276.6 780.4 276.9C781.9 277.2 783.5 278.4 784.8 278.3C786.1 278.2 787.2 277.6 788.4 276.5C789.6 275.4 790.8 273.6 792.0 272.0C793.2 270.4 794.4 268.4 795.6 266.6C796.8 264.8 798.1 262.6 799.1 261.3C800.1 260.0 800.9 259.1 801.8 259.0C802.7 258.9 803.6 259.6 804.5 260.4C805.4 261.2 806.2 262.9 807.2 263.9C808.2 264.9 809.6 266.3 810.8 266.6C812.0 266.9 813.1 266.6 814.3 265.7C815.5 264.8 816.8 262.6 817.9 261.3C819.0 260.0 819.5 258.7 820.6 257.7C821.7 256.7 822.9 256.1 824.5 255.1C826.1 254.1 828.7 252.7 830.5 251.5C832.3 250.3 833.7 248.6 835.3 248.0C836.9 247.4 838.5 247.6 840.1 248.0C841.7 248.4 843.2 249.8 844.8 250.4C846.4 251.0 848.0 251.1 849.6 251.5C851.2 251.9 852.8 252.4 854.4 252.7C856.0 253.0 857.8 253.5 859.2 253.3C860.6 253.1 862.0 253.0 863.0 251.7C864.0 250.4 864.4 248.1 865.4 245.7C866.4 243.3 867.8 240.0 869.0 237.4C870.2 234.8 871.3 232.1 872.5 230.2C873.7 228.3 874.7 227.1 876.1 226.1C877.5 225.1 879.5 224.3 880.9 224.3C882.3 224.3 883.3 224.9 884.5 226.1C885.7 227.3 886.9 229.5 888.1 231.4C889.3 233.3 890.4 236.0 891.6 237.4C892.8 238.8 894.0 239.6 895.2 239.8C896.4 240.0 897.6 239.0 898.8 238.6C900.0 238.2 901.2 237.2 902.4 237.4C903.6 237.6 904.8 238.4 906.0 239.8C907.2 241.2 908.4 243.7 909.6 245.7C910.8 247.7 911.9 250.1 913.3 251.7C914.7 253.3 916.5 254.5 918.1 255.3C919.7 256.1 921.2 256.4 922.8 256.5C924.4 256.6 926.2 255.7 927.6 255.9C929.0 256.1 930.0 256.6 931.2 257.7C932.4 258.8 933.4 261.1 934.8 262.5C936.2 263.9 938.1 265.8 939.5 266.0C940.9 266.2 941.9 264.8 943.1 263.6C944.3 262.4 945.5 260.1 946.7 258.9C947.9 257.7 949.1 256.3 950.3 256.5C951.5 256.7 952.7 258.3 953.9 260.1C955.1 261.9 956.3 265.0 957.5 267.2C958.7 269.4 959.6 271.4 961.0 273.2C962.4 275.0 964.2 276.6 965.8 278.0C967.4 279.4 969.0 280.8 970.6 281.5C972.2 282.2 974.0 282.4 975.4 282.3C976.8 282.2 977.7 281.6 979.3 280.8C980.9 280.1 983.0 277.7 984.9 277.8C986.8 277.9 988.7 280.3 990.6 281.4C992.5 282.5 994.6 284.0 996.3 284.2C998.0 284.4 999.1 283.3 1001.0 282.4C1002.9 281.5 1006.5 279.3 1007.6 278.7" stroke="#c020c8"/>
<path d="M38.3 206.2C38.8 205.3 40.1 202.3 41.1 200.6C42.1 198.9 43.1 197.4 44.1 195.9C45.1 194.4 46.1 193.1 47.1 191.9C48.1 190.7 49.1 189.6 50.1 188.7C51.1 187.8 52.1 187.1 53.1 186.5C54.1 185.9 55.3 185.6 56.1 185.3C56.9 185.1 57.3 184.9 58.1 185.0C58.9 185.1 60.1 185.2 61.1 185.6C62.1 186.0 63.1 186.6 64.1 187.2C65.1 187.9 65.8 188.4 67.1 189.5C68.4 190.6 70.3 192.1 71.8 193.9C73.3 195.7 74.6 197.8 76.1 200.1C77.6 202.4 79.2 205.1 80.6 207.8C82.0 210.5 83.2 213.4 84.6 216.3C86.0 219.2 87.7 222.5 89.1 225.3C90.5 228.1 91.8 230.5 93.1 233.2C94.4 235.9 95.9 237.7 97.1 241.3C98.3 244.9 99.2 252.0 100.2 254.7C101.2 257.4 102.1 256.6 103.0 257.4C103.9 258.1 104.5 258.8 105.6 259.2C106.7 259.6 108.2 259.8 109.5 260.0C110.8 260.2 112.3 260.3 113.6 260.5C114.8 260.7 115.8 261.0 117.0 261.2C118.2 261.4 119.4 261.7 120.8 261.9C122.2 262.1 123.7 262.7 125.2 262.3C126.7 261.9 128.4 260.6 129.7 259.6C131.0 258.6 131.9 257.5 133.0 256.4C134.1 255.3 135.0 254.0 136.0 252.9C137.0 251.8 138.0 250.7 139.0 249.7C140.0 248.7 140.8 248.2 142.2 246.7C143.6 245.2 146.0 241.8 147.6 240.5C149.2 239.2 150.5 239.1 152.0 238.6C153.5 238.1 155.1 237.9 156.6 237.4C158.1 236.9 159.5 236.4 161.0 235.6C162.5 234.8 164.0 233.6 165.5 232.4C167.0 231.2 168.5 229.7 170.0 228.4C171.5 227.1 172.9 224.8 174.4 224.4C175.9 224.0 177.4 225.9 178.9 225.8C180.4 225.7 182.0 224.3 183.5 223.6C185.0 222.9 186.4 222.2 187.9 221.6C189.4 220.9 191.0 220.3 192.5 219.7C194.0 219.1 195.7 218.5 196.8 218.2C197.9 217.9 198.2 217.9 199.0 217.8C199.8 217.7 200.2 217.5 201.3 217.8C202.4 218.1 204.5 218.4 205.8 219.6C207.2 220.8 208.2 222.8 209.4 225.0C210.6 227.2 211.8 230.6 212.9 232.8C214.0 235.0 215.0 236.7 216.0 238.0C217.0 239.3 218.0 239.2 218.9 240.7C219.8 242.2 220.4 245.1 221.6 246.9C222.8 248.7 224.6 250.4 226.1 251.4C227.6 252.4 229.1 252.3 230.6 253.2C232.1 254.1 233.5 255.5 235.0 256.8C236.5 258.2 238.1 259.5 239.5 261.3C240.9 263.1 242.3 265.3 243.6 267.4C244.9 269.4 246.1 272.3 247.2 273.6C248.2 274.9 249.0 275.4 249.9 275.4C250.8 275.4 251.7 274.8 252.6 273.6C253.5 272.4 254.5 270.1 255.3 268.3C256.1 266.5 256.4 265.7 257.4 263.0C258.3 260.3 259.9 255.1 261.0 252.3C262.1 249.6 263.0 247.9 264.0 246.5C265.0 245.1 266.0 244.3 267.0 244.0C268.0 243.7 269.0 243.9 270.0 244.5C271.0 245.1 272.1 246.4 273.0 247.5C273.9 248.6 274.6 249.4 275.6 251.1C276.6 252.8 278.2 255.5 279.2 257.4C280.2 259.3 280.9 261.5 281.8 262.7C282.7 263.9 283.6 264.0 284.8 264.7C286.0 265.4 287.7 266.0 289.2 266.9C290.7 267.8 292.3 268.5 293.7 270.1C295.1 271.7 296.1 274.2 297.3 276.3C298.5 278.4 299.9 281.2 300.9 282.6C301.9 284.1 302.6 285.0 303.5 285.0C304.4 285.0 305.1 283.8 306.0 282.5C306.9 281.2 307.8 279.8 309.1 277.0C310.4 274.2 312.1 269.6 313.8 265.9C315.5 262.2 317.9 257.2 319.4 254.8C320.9 252.4 321.6 252.2 323.0 251.5C324.4 250.8 326.3 250.6 328.0 250.5C329.7 250.4 331.1 251.1 333.0 251.0C334.9 250.9 337.2 250.7 339.1 250.2C341.0 249.7 342.5 249.1 344.4 248.0C346.3 246.9 348.6 244.6 350.5 243.5C352.4 242.4 354.3 241.3 355.8 241.2C357.3 241.0 358.2 241.8 359.4 242.6C360.6 243.4 361.8 244.9 363.0 246.1C364.2 247.3 365.6 248.9 366.6 249.7C367.6 250.4 368.2 251.3 369.2 250.6C370.2 249.9 371.6 247.5 372.8 245.3C374.0 243.1 375.2 239.1 376.4 237.2C377.6 235.2 379.0 234.2 380.0 233.6C381.0 233.0 381.7 233.0 382.5 233.5C383.3 234.0 383.8 235.1 384.7 236.6C385.6 238.1 386.8 241.5 387.7 242.7C388.6 243.9 389.4 243.8 390.4 243.6C391.4 243.4 392.6 242.8 393.9 241.7C395.2 240.6 396.9 238.4 398.4 237.2C399.9 236.0 401.5 234.8 402.9 234.5C404.2 234.2 405.3 234.7 406.5 235.4C407.7 236.2 408.8 237.7 410.0 239.0C411.2 240.3 412.7 242.4 413.6 243.5C414.5 244.6 414.5 243.6 415.4 245.4C416.3 247.2 417.8 251.6 419.0 254.3C420.2 257.0 421.6 259.9 422.6 261.5C423.7 263.1 424.3 263.8 425.3 263.7C426.3 263.6 427.5 262.2 428.6 260.8C429.8 259.4 430.9 256.9 432.2 255.4C433.5 253.9 435.1 252.6 436.6 251.8C438.1 251.1 439.6 250.6 441.1 250.9C442.6 251.2 444.1 252.2 445.6 253.6C447.1 254.9 448.5 257.2 450.0 259.0C451.5 260.8 453.0 263.2 454.5 264.4C456.0 265.6 457.5 266.1 459.0 266.1C460.5 266.1 462.2 265.6 463.5 264.4C464.8 263.2 465.8 261.1 467.0 259.0C468.2 256.9 469.4 253.6 470.6 251.8C471.8 250.0 473.0 249.0 474.2 248.3C475.4 247.6 476.6 247.1 477.8 247.4C479.0 247.7 480.1 249.0 481.4 250.0C482.7 251.0 484.3 252.5 485.8 253.6C487.3 254.7 488.8 256.0 490.3 256.3C491.8 256.6 493.5 256.3 494.8 255.4C496.1 254.5 497.2 252.4 498.4 250.9C499.6 249.4 500.7 247.7 501.9 246.5C503.1 245.3 504.1 244.7 505.5 243.8C506.9 242.9 508.5 242.2 510.0 241.1C511.5 240.0 512.9 238.7 514.4 237.5C515.9 236.3 517.9 234.7 519.3 233.8C520.7 232.9 521.7 232.0 522.9 232.0C524.1 232.0 525.3 232.9 526.5 233.8C527.7 234.7 528.8 236.2 530.0 237.4C531.2 238.6 532.4 239.7 533.6 240.9C534.8 242.1 536.0 243.5 537.2 244.5C538.4 245.5 539.6 246.6 540.8 246.8C542.0 247.0 543.2 246.4 544.4 245.9C545.6 245.4 546.6 244.3 547.9 243.6C549.2 242.8 550.9 241.8 552.4 241.4C553.9 241.0 555.5 240.8 556.9 240.9C558.2 241.0 559.3 241.2 560.5 241.8C561.7 242.4 562.8 243.4 564.0 244.5C565.2 245.6 566.4 246.8 567.6 248.1C568.8 249.4 570.0 251.5 571.2 252.6C572.4 253.7 573.8 254.5 574.8 254.8C575.8 255.1 576.6 255.1 577.5 254.4C578.4 253.7 579.1 252.3 580.1 250.8C581.1 249.3 582.5 247.2 583.7 245.4C584.9 243.6 586.1 241.6 587.3 240.0C588.5 238.4 589.7 236.7 590.9 235.6C592.1 234.5 593.5 233.8 594.4 233.5C595.3 233.2 595.1 233.7 596.1 233.8C597.1 233.9 598.9 234.0 600.5 234.2C602.1 234.3 604.1 234.9 605.9 234.7C607.7 234.5 609.5 233.5 611.3 232.9C613.1 232.3 615.0 231.4 616.6 231.1C618.2 230.8 619.6 230.6 621.1 231.1C622.6 231.6 624.3 232.8 625.6 233.8C626.9 234.9 627.9 236.5 629.1 237.4C630.3 238.3 631.2 238.8 632.7 239.2C634.2 239.6 636.3 239.5 638.1 239.6C639.9 239.7 641.7 239.6 643.5 240.0C645.3 240.4 647.3 241.7 648.8 241.8C650.3 242.0 651.2 241.5 652.4 240.9C653.6 240.3 654.8 238.9 656.0 238.3C657.2 237.7 658.4 237.2 659.6 237.4C660.8 237.6 661.9 238.3 663.1 239.2C664.3 240.1 665.5 241.5 666.7 242.7C667.9 243.9 669.1 245.2 670.3 246.3C671.5 247.4 672.7 248.1 673.9 249.0C675.1 249.9 676.6 250.9 677.4 251.7C678.1 252.5 677.3 253.0 678.4 253.6C679.5 254.2 681.9 254.9 683.7 255.4C685.5 255.9 687.5 255.7 689.1 256.3C690.8 256.9 692.1 258.1 693.6 259.0C695.1 259.9 696.7 261.1 698.0 261.7C699.3 262.3 700.1 262.6 701.6 262.6C703.1 262.6 705.5 262.1 707.0 261.7C708.5 261.2 709.6 260.3 710.6 259.9C711.6 259.5 712.1 259.0 713.3 259.3C714.5 259.6 716.4 260.3 717.7 261.5C719.0 262.7 720.1 264.6 721.3 266.5C722.5 268.4 723.7 271.2 724.9 272.9C726.1 274.6 727.3 275.5 728.5 276.5C729.7 277.5 730.8 278.4 732.0 278.7C733.2 279.0 734.4 278.4 735.6 278.3C736.8 278.2 738.0 277.7 739.2 278.3C740.4 278.9 741.8 280.2 742.8 281.8C743.8 283.4 744.6 286.0 745.5 288.1C746.4 290.2 747.2 292.8 748.1 294.4C749.0 296.0 749.9 297.2 750.8 297.9C751.7 298.6 752.5 298.7 753.5 298.4C754.5 298.1 755.6 296.9 757.1 296.1C758.6 295.3 760.6 294.2 762.4 293.5C764.2 292.8 766.3 292.6 767.8 292.1C769.3 291.7 770.3 291.8 771.4 290.8C772.5 289.8 773.2 288.2 774.1 286.3C775.0 284.4 775.9 281.4 776.8 279.2C777.7 277.0 778.6 274.4 779.5 272.9C780.4 271.4 781.3 270.9 782.2 270.2C783.1 269.4 783.9 268.8 784.8 268.4C785.7 267.9 786.6 267.4 787.5 267.5C788.4 267.6 789.3 268.2 790.2 269.3C791.1 270.4 792.0 272.2 792.9 273.8C793.8 275.4 794.7 277.7 795.6 279.2C796.5 280.7 797.3 282.0 798.2 282.7C799.1 283.4 799.9 283.9 800.9 283.6C801.9 283.3 803.3 282.2 804.5 280.9C805.7 279.6 806.9 277.2 808.1 275.6C809.3 274.0 810.5 272.6 811.7 271.1C812.9 269.6 814.2 268.1 815.2 266.6C816.2 265.1 816.9 263.9 817.9 262.2C818.9 260.5 819.9 259.1 821.0 256.3C822.1 253.5 823.3 248.8 824.5 245.6C825.7 242.4 826.9 239.2 828.1 237.2C829.3 235.2 830.3 234.2 831.7 233.6C833.1 233.0 834.9 233.7 836.5 233.6C838.1 233.5 839.7 233.6 841.3 233.0C842.9 232.4 844.4 231.4 846.0 230.1C847.6 228.8 849.2 227.1 850.8 225.3C852.4 223.5 854.0 221.3 855.6 219.3C857.2 217.3 858.8 215.2 860.4 213.4C862.0 211.6 863.8 209.7 865.1 208.6C866.4 207.5 867.4 207.1 868.0 206.8C868.6 206.5 867.9 207.1 869.0 207.0C870.1 206.9 872.9 206.2 874.9 206.1C876.9 206.0 878.9 206.3 880.9 206.6C882.9 206.9 884.9 207.4 886.9 207.8C888.9 208.2 891.0 208.4 892.8 209.3C894.6 210.2 896.0 212.2 897.6 213.5C899.2 214.8 900.6 216.1 902.4 217.1C904.2 218.1 906.4 218.7 908.4 219.5C910.4 220.3 912.5 220.9 914.3 221.9C916.1 222.9 917.5 223.9 919.1 225.5C920.7 227.1 922.5 229.4 923.9 231.4C925.3 233.4 926.5 235.8 927.5 237.4C928.5 239.0 928.8 239.0 930.0 241.0C931.2 243.0 933.4 246.3 934.8 249.3C936.2 252.3 937.2 255.5 938.4 258.9C939.6 262.3 940.7 266.6 941.9 269.6C943.1 272.6 944.3 275.0 945.5 276.8C946.7 278.6 947.7 280.0 949.1 280.4C950.5 280.8 952.3 280.0 953.9 279.2C955.5 278.4 956.8 276.8 958.6 275.6C960.4 274.4 962.8 273.0 964.6 272.0C966.4 271.0 967.8 270.0 969.4 269.6C971.0 269.2 972.8 269.0 974.2 269.6C975.6 270.2 976.5 271.6 977.7 273.2C978.9 274.8 980.2 277.5 981.3 279.2C982.3 280.9 982.8 281.2 984.0 283.3C985.2 285.4 987.0 289.9 988.7 291.8C990.4 293.7 992.5 293.8 994.4 294.6C996.3 295.4 997.8 295.6 1000.0 296.5C1002.2 297.4 1006.3 299.4 1007.6 300.0" stroke="#c8202c"/>
<path d="M38.9 205.9C39.4 205.0 40.7 202.0 41.7 200.3C42.7 198.6 43.7 197.1 44.7 195.6C45.7 194.1 46.7 192.8 47.7 191.6C48.7 190.4 49.7 189.3 50.7 188.4C51.7 187.5 52.7 186.8 53.7 186.2C54.7 185.6 55.9 185.2 56.7 185.0C57.5 184.8 57.9 184.6 58.7 184.7C59.5 184.8 60.7 184.9 61.7 185.3C62.7 185.7 63.7 186.2 64.7 186.9C65.7 187.6 66.4 188.1 67.7 189.2C69.0 190.3 70.9 191.8 72.4 193.6C73.9 195.4 75.2 197.5 76.7 199.8C78.2 202.1 79.8 204.8 81.2 207.5C82.6 210.2 83.8 213.1 85.2 216.0C86.6 218.9 88.3 222.2 89.7 225.0C91.1 227.8 92.4 230.2 93.7 232.9C95.0 235.6 96.6 237.3 97.7 241.0C98.8 244.7 99.6 252.4 100.5 255.2C101.4 258.0 102.4 257.1 103.3 257.9C104.2 258.6 104.8 259.3 105.9 259.7C107.0 260.1 108.5 260.3 109.8 260.5C111.1 260.7 112.6 260.8 113.9 261.0C115.1 261.2 116.1 261.5 117.3 261.7C118.5 261.9 119.7 262.2 121.1 262.4C122.5 262.6 124.0 263.2 125.5 262.8C127.0 262.4 128.7 261.1 130.0 260.1C131.3 259.1 132.2 258.0 133.3 256.9C134.4 255.8 135.3 254.5 136.3 253.4C137.3 252.3 138.3 251.2 139.3 250.2C140.3 249.2 141.1 248.1 142.5 247.2C143.9 246.3 146.0 245.6 147.6 245.0C149.2 244.4 150.5 244.0 152.0 243.6C153.5 243.2 154.9 243.2 156.6 242.4C158.2 241.7 160.4 240.2 161.9 239.1C163.4 238.0 164.3 237.0 165.5 235.8C166.7 234.6 167.6 233.5 169.1 232.0C170.6 230.5 172.8 227.7 174.4 226.6C176.0 225.5 177.4 226.0 178.9 225.4C180.4 224.8 182.0 223.8 183.5 223.0C185.0 222.2 186.4 221.6 187.9 220.9C189.4 220.2 191.0 219.5 192.5 218.9C194.0 218.3 195.7 217.6 196.8 217.3C197.9 217.0 198.2 217.0 199.0 216.9C199.8 216.8 200.2 216.5 201.3 216.9C202.4 217.3 204.5 217.8 205.8 219.1C207.2 220.4 208.2 222.3 209.4 224.5C210.6 226.7 211.9 229.8 212.9 232.5C213.9 235.2 214.7 237.8 215.5 240.5C216.3 243.2 216.8 246.0 217.5 248.5C218.2 251.0 218.8 253.5 219.5 255.5C220.2 257.5 220.8 259.0 221.5 260.5C222.2 262.0 223.1 263.6 224.0 264.5C224.9 265.4 226.0 266.0 227.0 266.0C228.0 266.0 228.9 265.0 230.0 264.5C231.1 264.0 232.3 263.2 233.3 263.0C234.3 262.8 235.1 262.7 236.0 263.0C236.9 263.3 237.7 263.9 238.6 264.8C239.5 265.7 240.5 266.9 241.5 268.5C242.5 270.1 243.4 272.7 244.5 274.5C245.6 276.3 247.0 278.3 248.1 279.4C249.2 280.5 249.9 281.1 250.8 281.2C251.7 281.3 252.6 281.2 253.5 279.9C254.4 278.6 255.2 276.3 256.1 273.6C257.0 270.9 258.1 266.5 258.8 263.8C259.5 261.1 259.4 260.7 260.4 257.4C261.4 254.1 263.6 247.2 264.8 243.9C266.0 240.6 266.5 239.0 267.5 237.5C268.5 236.0 269.5 234.7 270.7 235.0C271.9 235.3 273.4 237.4 274.7 239.5C276.0 241.6 277.1 244.5 278.3 247.5C279.5 250.5 280.9 254.7 281.8 257.4C282.7 260.1 283.1 261.4 283.9 263.8C284.7 266.2 285.4 268.7 286.6 271.8C287.8 274.9 289.5 279.2 291.0 282.6C292.5 286.0 294.1 289.9 295.5 292.4C296.9 294.8 298.1 296.2 299.1 297.3C300.1 298.4 300.6 298.8 301.3 298.7C302.0 298.6 302.8 297.9 303.5 296.5C304.2 295.1 304.8 292.4 305.5 290.0C306.2 287.6 306.4 285.8 307.5 281.8C308.6 277.8 311.2 269.1 312.3 265.9C313.4 262.7 313.1 264.7 314.0 262.7C314.9 260.7 316.4 256.5 317.6 253.8C318.8 251.1 319.7 248.4 321.2 246.6C322.7 244.8 324.8 243.9 326.6 243.0C328.4 242.1 330.1 241.3 331.9 241.3C333.7 241.3 335.8 242.3 337.3 243.0C338.8 243.7 339.7 244.9 340.9 245.7C342.1 246.4 343.0 247.4 344.4 247.5C345.8 247.6 347.6 247.0 349.0 246.5C350.4 246.0 351.6 244.8 353.0 244.5C354.4 244.2 355.9 243.5 357.6 244.4C359.3 245.3 361.5 248.4 363.0 249.7C364.5 251.0 365.4 252.2 366.6 252.4C367.8 252.6 368.9 251.9 370.1 250.6C371.3 249.3 372.5 246.9 373.7 244.4C374.9 241.9 376.1 238.2 377.3 235.4C378.5 232.6 379.9 229.4 380.9 227.4C381.9 225.4 382.6 224.4 383.5 223.5C384.4 222.6 385.3 222.0 386.1 221.9C386.9 221.8 387.8 222.0 388.5 222.9C389.2 223.8 389.6 225.5 390.4 227.4C391.1 229.3 392.3 232.4 393.0 234.5C393.7 236.6 394.2 238.5 394.8 239.9C395.4 241.3 395.2 241.9 396.6 242.7C398.0 243.5 400.9 244.3 402.9 244.5C404.8 244.7 406.5 244.0 408.3 244.0C410.1 244.0 412.0 244.0 413.6 244.5C415.2 245.0 416.8 246.5 418.1 247.2C419.5 247.9 420.5 249.0 421.7 248.9C422.9 248.8 424.1 247.7 425.3 246.8C426.5 246.0 427.7 244.2 428.6 243.8C429.5 243.4 429.9 243.6 430.6 244.5C431.3 245.4 432.0 247.7 433.0 249.2C434.0 250.7 435.1 252.5 436.6 253.6C438.1 254.7 440.4 255.6 442.0 255.9C443.6 256.2 444.5 255.3 446.0 255.2C447.5 255.1 449.5 254.8 450.9 255.4C452.3 256.0 453.3 257.8 454.5 259.0C455.7 260.2 456.8 261.7 458.1 262.6C459.5 263.5 461.0 263.9 462.6 264.4C464.2 264.8 466.3 265.6 467.9 265.3C469.5 265.0 471.0 264.0 472.4 262.6C473.8 261.2 474.8 258.9 476.0 257.2C477.2 255.5 478.4 253.6 479.6 252.7C480.8 251.8 481.9 251.5 483.1 251.8C484.3 252.1 485.5 253.4 486.7 254.5C487.9 255.6 489.2 257.1 490.3 258.1C491.4 259.2 492.1 259.8 493.0 260.8C493.9 261.9 494.8 263.5 495.7 264.4C496.6 265.3 497.5 266.1 498.4 266.1C499.3 266.1 500.1 265.6 501.0 264.4C501.9 263.2 502.6 260.8 503.7 259.0C504.8 257.2 506.1 255.2 507.3 253.6C508.5 252.0 509.7 250.5 510.9 249.2C512.1 247.9 513.4 247.1 514.4 245.6C515.4 244.1 515.5 241.5 516.6 240.0C517.7 238.5 519.5 237.2 521.1 236.5C522.8 235.8 524.9 235.7 526.5 235.6C528.1 235.5 529.4 235.6 530.9 236.0C532.4 236.4 534.0 237.3 535.4 238.3C536.8 239.3 537.8 240.5 539.0 241.8C540.2 243.1 541.4 244.8 542.6 246.3C543.8 247.8 544.9 249.6 546.1 250.8C547.3 252.0 548.5 252.9 549.7 253.5C550.9 254.1 552.1 254.4 553.3 254.4C554.5 254.4 555.7 254.1 556.9 253.5C558.1 252.9 559.3 251.9 560.5 250.8C561.7 249.8 562.8 248.1 564.0 247.2C565.2 246.3 566.4 244.9 567.6 245.4C568.8 245.9 570.0 248.2 571.2 249.9C572.4 251.6 573.8 253.8 574.8 255.3C575.8 256.8 576.5 257.8 577.5 258.8C578.5 259.8 580.0 261.0 581.0 261.1C582.0 261.2 582.8 260.5 583.7 259.7C584.6 258.9 585.5 257.5 586.4 256.2C587.3 254.9 588.2 253.2 589.1 251.7C590.0 250.2 590.9 248.7 591.8 247.2C592.7 245.7 593.4 244.6 594.4 242.7C595.4 240.8 596.5 237.6 597.8 236.0C599.1 234.4 600.8 233.6 602.3 233.3C603.8 233.0 605.3 233.5 606.8 234.2C608.3 234.9 609.7 236.6 611.3 237.4C612.9 238.2 614.8 239.3 616.6 239.2C618.4 239.0 620.4 237.2 622.0 236.5C623.6 235.8 625.2 234.8 626.5 234.7C627.8 234.5 628.7 235.0 630.0 235.6C631.3 236.2 633.0 237.7 634.5 238.3C636.0 238.9 637.5 239.1 639.0 239.2C640.5 239.3 642.2 238.6 643.5 238.7C644.8 238.8 645.8 239.0 647.0 240.0C648.2 241.0 649.6 242.9 650.6 244.5C651.6 246.1 652.1 248.0 653.3 249.5C654.5 251.0 656.2 252.7 657.8 253.7C659.4 254.7 661.3 255.1 663.1 255.5C664.9 255.9 666.9 256.1 668.5 256.0C670.1 255.8 671.5 255.3 673.0 254.6C674.5 253.8 675.9 252.2 677.4 251.5C678.9 250.8 680.5 250.3 681.9 250.5C683.3 250.7 684.5 251.4 686.0 252.5C687.5 253.6 689.3 255.5 690.9 257.2C692.5 258.8 694.1 260.5 695.4 262.4C696.7 264.3 697.7 266.3 698.9 268.4C700.1 270.4 701.3 272.8 702.5 274.7C703.7 276.6 704.9 278.4 706.1 280.0C707.3 281.6 708.5 283.4 709.7 284.5C710.9 285.6 712.1 286.3 713.3 286.3C714.5 286.3 715.8 285.4 716.8 284.5C717.8 283.6 718.6 281.8 719.5 280.9C720.4 280.0 721.2 279.3 722.2 279.2C723.2 279.1 724.6 279.1 725.8 280.0C727.0 280.9 728.2 283.1 729.4 284.5C730.6 285.9 732.0 287.4 733.0 288.1C734.0 288.9 734.6 289.3 735.6 289.0C736.6 288.7 738.2 287.5 739.2 286.3C740.2 285.1 741.0 283.3 741.9 281.8C742.8 280.3 743.6 278.6 744.6 277.4C745.6 276.2 746.9 275.0 748.1 274.7C749.3 274.4 750.4 274.9 751.7 275.6C753.1 276.4 754.9 277.9 756.2 279.2C757.6 280.5 758.8 282.0 759.8 283.6C760.8 285.2 761.4 287.4 762.4 289.0C763.4 290.6 764.8 292.7 766.0 293.5C767.2 294.3 768.4 294.2 769.6 293.9C770.8 293.6 772.0 292.8 773.2 291.7C774.4 290.6 775.6 288.8 776.8 287.2C778.0 285.6 779.2 283.4 780.4 281.8C781.6 280.2 782.7 278.3 783.9 277.4C785.1 276.5 786.5 276.1 787.5 276.5C788.5 276.9 789.3 278.7 790.2 280.0C791.1 281.3 792.0 283.4 792.9 284.5C793.8 285.6 794.7 286.7 795.6 286.8C796.5 286.9 797.3 286.5 798.2 285.4C799.1 284.3 800.0 281.8 800.9 280.0C801.8 278.2 802.5 276.0 803.6 274.7C804.7 273.4 805.9 272.7 807.2 272.4C808.6 272.1 810.2 272.7 811.7 272.9C813.2 273.1 814.6 274.1 816.1 273.8C817.6 273.5 819.4 272.5 820.6 271.1C821.8 269.8 822.4 268.2 823.3 265.7C824.1 263.2 824.7 259.1 825.7 256.3C826.7 253.6 827.9 251.4 829.3 249.2C830.7 247.0 832.5 245.0 834.1 243.2C835.7 241.4 837.1 240.0 838.9 238.4C840.7 236.8 842.8 235.2 844.8 233.6C846.8 232.0 849.0 230.5 850.8 228.9C852.6 227.3 854.0 225.9 855.6 224.1C857.2 222.3 858.8 220.1 860.4 218.1C862.0 216.1 863.8 213.7 865.1 212.2C866.4 210.7 866.6 209.8 868.0 209.2C869.4 208.6 871.6 208.6 873.7 208.7C875.9 208.8 878.7 209.5 880.9 209.9C883.1 210.3 884.9 210.5 886.9 211.1C888.9 211.7 890.8 212.5 892.8 213.5C894.8 214.5 897.0 215.7 898.8 217.1C900.6 218.5 902.2 220.3 903.6 221.9C905.0 223.5 906.0 224.8 907.2 226.6C908.4 228.4 909.5 230.4 910.7 232.6C911.9 234.8 913.1 237.6 914.3 239.8C915.5 242.0 916.7 243.4 918.1 246.0C919.5 248.6 921.2 251.8 922.8 255.3C924.4 258.8 926.0 263.0 927.6 267.2C929.2 271.4 930.9 276.3 932.4 280.4C933.9 284.4 935.1 288.5 936.5 291.5C937.9 294.5 939.3 297.8 940.6 298.4C941.9 299.0 943.2 296.3 944.3 295.0C945.4 293.7 946.4 292.4 947.2 290.8C948.0 289.2 948.0 287.4 949.1 285.1C950.2 282.8 952.3 279.4 953.9 276.8C955.5 274.2 957.2 271.3 958.6 269.6C960.0 267.9 961.0 267.1 962.2 266.8C963.4 266.5 964.4 266.7 965.8 267.8C967.2 268.9 969.0 270.9 970.6 273.2C972.2 275.5 973.6 278.2 975.4 281.5C977.2 284.8 979.0 288.6 981.2 292.7C983.4 296.8 986.2 301.5 988.7 305.9C991.2 310.3 994.1 315.1 996.3 319.2C998.5 323.3 1000.0 326.8 1001.9 330.5C1003.8 334.2 1006.6 339.6 1007.6 341.4" stroke="#1c8050"/>
<path d="M39.2 205.9C39.7 205.0 41.0 202.0 42.0 200.3C43.0 198.6 44.0 197.1 45.0 195.6C46.0 194.1 47.0 192.8 48.0 191.6C49.0 190.4 50.0 189.3 51.0 188.4C52.0 187.5 53.0 186.8 54.0 186.2C55.0 185.6 56.2 185.2 57.0 185.0C57.8 184.8 58.2 184.6 59.0 184.7C59.8 184.8 61.0 184.9 62.0 185.3C63.0 185.7 64.0 186.2 65.0 186.9C66.0 187.6 66.7 188.1 68.0 189.2C69.3 190.3 71.2 191.8 72.7 193.6C74.2 195.4 75.5 197.5 77.0 199.8C78.5 202.1 80.1 204.8 81.5 207.5C82.9 210.2 84.1 213.1 85.5 216.0C86.9 218.9 88.6 222.2 90.0 225.0C91.4 227.8 92.7 230.2 94.0 232.9C95.3 235.6 96.8 238.6 98.0 241.0C99.2 243.4 100.0 245.6 101.1 247.2C102.2 248.8 103.5 249.7 104.5 250.5C105.5 251.3 106.2 251.6 107.4 252.1C108.6 252.6 110.3 253.1 111.8 253.4C113.3 253.7 114.9 253.7 116.3 253.9C117.7 254.1 118.7 254.3 120.0 254.5C121.3 254.7 122.7 255.2 124.0 255.2C125.3 255.1 126.7 254.8 127.9 254.2C129.1 253.6 129.8 252.6 131.0 251.6C132.2 250.6 133.8 249.1 135.1 248.0C136.3 246.9 137.3 245.8 138.5 244.8C139.7 243.8 140.8 242.6 142.2 242.0C143.6 241.4 145.5 241.1 147.0 241.2C148.5 241.3 149.6 242.0 151.2 242.6C152.8 243.2 154.8 244.0 156.6 244.6C158.4 245.2 160.1 245.9 161.9 246.4C163.7 246.9 165.2 247.2 167.3 247.3C169.4 247.5 172.6 247.3 174.4 247.3C176.2 247.3 176.2 247.4 178.0 247.5C179.8 247.6 182.9 247.7 185.0 247.6C187.1 247.5 188.9 247.7 190.6 246.8C192.3 245.9 193.5 244.5 195.0 242.4C196.5 240.3 198.0 237.0 199.5 234.3C201.0 231.6 202.7 228.5 204.0 226.3C205.3 224.1 206.4 222.3 207.6 220.9C208.8 219.5 210.1 218.5 211.1 217.8C212.1 217.1 212.9 216.8 213.8 216.9C214.7 217.0 215.4 217.2 216.5 218.2C217.6 219.2 218.9 220.8 220.1 222.7C221.3 224.6 222.5 227.3 223.7 229.8C224.9 232.3 226.0 235.2 227.2 237.9C228.4 240.6 229.5 243.2 230.8 245.9C232.1 248.6 233.7 251.7 235.0 254.1C236.3 256.5 237.5 258.4 238.6 260.5C239.7 262.6 240.5 265.6 241.3 266.5C242.1 267.4 242.6 267.0 243.5 266.0C244.4 265.0 245.6 262.8 246.7 260.4C247.8 258.0 249.0 253.8 250.3 251.4C251.6 249.1 253.5 247.2 254.7 246.3C255.9 245.4 256.5 245.6 257.4 246.0C258.3 246.4 259.2 247.7 260.0 249.0C260.8 250.3 261.4 252.1 262.2 253.8C263.0 255.5 263.7 257.6 264.8 259.1C265.9 260.6 267.5 261.4 268.7 262.9C269.9 264.4 271.0 267.1 272.2 268.3C273.4 269.5 274.6 270.2 275.8 270.1C277.0 270.0 278.0 268.7 279.4 267.4C280.8 266.1 282.3 263.6 283.9 262.2C285.5 260.8 287.4 259.3 289.0 259.1C290.6 258.9 292.2 260.2 293.5 260.9C294.8 261.6 295.5 262.4 296.5 263.5C297.5 264.6 297.9 265.5 299.5 267.5C301.1 269.5 304.1 273.5 305.9 275.4C307.6 277.3 308.7 278.0 310.0 278.8C311.3 279.6 312.6 280.3 313.8 280.2C315.0 280.1 315.9 279.1 317.0 278.0C318.1 276.9 318.9 275.8 320.2 273.8C321.5 271.8 323.6 268.0 325.0 265.9C326.4 263.8 327.1 262.6 328.4 261.2C329.7 259.8 331.2 258.4 332.8 257.6C334.4 256.8 336.3 256.9 338.2 256.3C340.1 255.7 342.6 254.8 344.4 254.0C346.1 253.2 347.2 252.9 348.7 251.5C350.1 250.1 351.6 247.7 353.1 245.3C354.6 242.9 356.1 239.6 357.6 237.2C359.1 234.8 360.8 232.2 362.1 230.9C363.5 229.6 364.5 229.2 365.7 229.2C366.9 229.2 368.2 229.6 369.2 230.9C370.2 232.2 371.0 234.8 371.9 237.2C372.8 239.6 373.7 242.8 374.6 245.3C375.5 247.8 376.4 250.3 377.3 252.4C378.2 254.5 379.0 256.4 380.0 257.8C381.0 259.2 382.3 260.4 383.5 260.5C384.7 260.6 385.8 259.9 387.0 258.5C388.2 257.1 389.4 254.0 390.5 252.0C391.6 250.0 392.3 248.2 393.7 246.5C395.1 244.8 397.2 244.2 399.0 242.0C400.8 239.8 402.6 235.7 404.4 233.0C406.2 230.3 408.0 228.0 409.8 225.9C411.6 223.8 413.6 222.0 415.1 220.5C416.6 219.0 417.5 217.6 418.7 216.9C419.9 216.2 421.0 216.2 422.1 216.2C423.2 216.2 424.0 216.4 425.3 217.1C426.6 217.8 428.3 219.0 429.7 220.2C431.1 221.4 432.3 223.3 433.9 224.5C435.5 225.7 437.4 226.5 439.3 227.2C441.2 227.9 443.7 227.8 445.6 228.6C447.5 229.4 449.4 230.9 450.9 232.2C452.4 233.5 453.3 235.0 454.5 236.6C455.7 238.2 456.9 240.5 458.1 242.0C459.3 243.5 460.4 244.6 461.7 245.6C463.0 246.6 464.6 247.0 466.1 247.8C467.6 248.6 469.2 249.5 470.6 250.5C472.0 251.5 473.0 252.2 474.2 253.6C475.4 255.0 476.6 257.5 477.8 259.0C479.0 260.5 480.1 261.7 481.4 262.6C482.7 263.5 484.2 264.2 485.8 264.4C487.4 264.5 489.4 264.2 491.2 263.5C493.0 262.8 494.8 260.9 496.6 259.9C498.4 258.8 500.1 258.5 501.9 257.2C503.7 255.8 505.8 253.7 507.3 251.8C508.8 249.9 509.7 247.7 510.9 245.6C512.1 243.5 513.2 240.8 514.4 239.3C515.6 237.8 516.6 237.3 518.0 236.8C519.4 236.3 521.0 236.0 523.0 236.2C525.0 236.4 527.5 237.2 530.0 237.8C532.5 238.4 535.5 239.2 538.0 239.6C540.5 240.0 543.1 240.3 545.0 240.3C546.9 240.3 548.3 240.1 549.5 239.8C550.7 239.5 551.3 239.5 552.4 238.3C553.5 237.2 555.0 234.2 556.0 232.9C557.0 231.6 557.8 231.1 558.5 230.7C559.2 230.2 559.6 230.0 560.5 230.2C561.4 230.4 562.8 231.2 564.0 232.0C565.2 232.8 566.4 233.8 567.6 234.9C568.8 236.0 570.0 237.3 571.2 238.6C572.4 239.9 573.6 241.0 574.8 242.7C576.0 244.4 577.1 246.9 578.3 249.0C579.5 251.1 580.8 253.8 581.9 255.3C583.0 256.8 583.7 257.9 584.6 257.9C585.5 257.9 586.4 256.3 587.3 255.3C588.2 254.3 589.1 252.9 590.0 251.7C590.9 250.5 592.0 249.0 592.7 248.1C593.4 247.2 593.4 246.8 594.4 246.0C595.4 245.2 597.1 244.7 598.7 243.6C600.3 242.5 602.3 240.8 604.1 239.2C605.9 237.6 607.7 235.6 609.5 233.8C611.3 232.0 613.3 229.7 614.8 228.4C616.3 227.1 617.3 226.6 618.4 226.2C619.5 225.8 620.0 225.6 621.1 225.7C622.2 225.8 623.4 225.8 624.7 226.6C626.0 227.3 627.6 228.7 629.1 230.2C630.6 231.7 632.2 233.7 633.6 235.6C635.0 237.5 636.2 239.8 637.2 241.8C638.2 243.8 638.8 245.8 639.5 247.5C640.2 249.2 640.9 250.0 641.7 251.9C642.5 253.8 643.4 256.7 644.3 259.1C645.2 261.5 646.1 264.2 647.0 266.3C647.9 268.4 649.0 270.4 649.7 271.6C650.5 272.8 650.8 273.5 651.5 273.4C652.2 273.2 653.3 272.2 654.2 270.7C655.1 269.2 656.0 266.6 656.9 264.5C657.8 262.4 658.7 260.0 659.6 258.2C660.5 256.4 661.2 254.8 662.2 253.7C663.2 252.6 664.4 252.3 665.8 251.9C667.1 251.5 668.4 251.2 670.3 251.0C672.2 250.8 675.4 250.6 677.4 251.0C679.4 251.4 680.4 252.6 682.0 253.5C683.6 254.4 685.4 255.4 687.0 256.5C688.6 257.6 690.1 258.5 691.5 260.0C692.9 261.5 694.2 263.2 695.4 265.7C696.6 268.1 697.7 271.9 698.9 274.7C700.1 277.5 701.4 281.0 702.5 282.7C703.6 284.4 704.6 285.0 705.6 285.0C706.6 285.0 707.7 283.7 708.8 282.7C709.9 281.7 711.2 279.8 712.4 279.2C713.6 278.6 714.7 278.8 715.9 279.2C717.1 279.6 718.5 281.0 719.5 281.4C720.5 281.8 721.2 282.2 722.2 281.8C723.2 281.4 724.8 280.4 725.8 279.2C726.8 278.0 727.6 276.3 728.5 274.7C729.4 273.1 730.1 271.1 731.1 269.3C732.1 267.5 733.7 265.2 734.7 263.9C735.8 262.6 736.5 261.7 737.4 261.3C738.3 260.9 739.0 260.8 740.1 261.7C741.2 262.6 742.5 264.7 743.7 266.6C744.9 268.5 746.0 270.9 747.2 272.9C748.4 274.8 749.6 277.0 750.8 278.3C752.0 279.6 753.2 280.8 754.4 280.9C755.6 281.0 756.7 280.4 758.0 279.2C759.3 278.0 761.2 275.6 762.4 273.8C763.6 272.0 764.0 270.2 765.2 268.4C766.4 266.6 768.1 264.5 769.6 263.0C771.1 261.5 772.7 260.4 774.1 259.5C775.5 258.6 776.5 258.6 778.0 257.5C779.5 256.4 781.2 253.8 782.8 252.7C784.4 251.6 785.9 251.1 787.5 251.0C789.1 250.9 790.9 251.2 792.3 252.1C793.7 253.0 795.0 255.2 795.9 256.3C796.8 257.4 796.6 257.6 797.4 258.6C798.2 259.6 799.7 261.3 800.9 262.2C802.1 263.1 803.3 263.8 804.5 263.9C805.7 264.0 806.6 263.2 808.1 262.6C809.6 262.0 811.7 261.1 813.5 260.4C815.3 259.7 817.0 259.0 818.8 258.6C820.6 258.2 822.4 258.0 824.2 258.1C826.0 258.2 828.1 259.1 829.6 259.5C831.1 259.9 831.9 260.5 833.1 260.4C834.3 260.3 835.5 259.7 836.7 259.0C837.9 258.3 838.8 257.7 840.1 256.3C841.5 254.9 843.2 252.2 844.8 250.4C846.4 248.6 848.0 247.0 849.6 245.6C851.2 244.2 852.8 243.2 854.4 242.0C856.0 240.8 857.8 240.0 859.2 238.4C860.6 236.8 861.5 234.9 862.7 232.5C863.9 230.1 865.4 226.2 866.3 224.1C867.2 222.0 867.4 221.8 868.0 220.0C868.6 218.2 869.1 214.5 870.2 213.0C871.4 211.5 872.9 211.3 874.9 211.1C876.9 210.9 879.7 211.4 882.1 211.7C884.5 212.0 887.3 212.6 889.3 212.9C891.3 213.2 892.6 212.8 894.0 213.5C895.4 214.2 896.6 215.3 897.6 217.1C898.6 218.9 899.2 221.9 900.0 224.3C900.8 226.7 901.4 228.8 902.4 231.4C903.4 234.0 905.0 237.6 906.0 239.8C907.0 242.0 907.5 242.3 908.5 244.5C909.5 246.7 910.9 250.9 912.1 252.9C913.3 254.9 914.6 256.1 915.7 256.5C916.8 256.9 917.7 256.5 918.7 255.3C919.7 254.1 920.5 251.7 921.6 249.3C922.7 246.9 924.2 243.2 925.2 241.0C926.2 238.8 926.5 238.0 927.5 236.2C928.5 234.4 929.8 231.8 931.0 230.2C932.2 228.6 933.4 227.3 934.6 226.6C935.8 225.9 937.0 225.9 938.2 226.1C939.4 226.3 940.6 226.7 941.8 227.8C943.0 228.9 944.2 230.6 945.4 232.6C946.6 234.6 948.1 238.2 948.9 239.8C949.7 241.4 949.5 240.2 950.3 242.2C951.1 244.2 952.7 248.7 953.9 251.7C955.1 254.7 956.3 257.7 957.5 260.1C958.7 262.5 959.8 264.4 961.0 266.0C962.2 267.6 963.2 269.0 964.6 269.6C966.0 270.2 967.8 270.0 969.4 269.6C971.0 269.2 972.8 267.2 974.2 267.2C975.6 267.2 976.5 268.4 977.7 269.6C978.9 270.8 979.9 272.3 981.3 274.4C982.7 276.5 984.2 278.9 986.0 282.0C987.8 285.1 990.0 289.2 992.0 293.0C994.0 296.8 996.2 301.3 998.0 305.0C999.8 308.7 1001.4 312.1 1003.0 315.0C1004.6 317.9 1006.8 320.9 1007.6 322.1" stroke="#5c5ce0"/>
<path d="M37.4 206.7C37.9 205.8 39.2 202.8 40.2 201.1C41.2 199.4 42.2 197.9 43.2 196.4C44.2 194.9 45.2 193.6 46.2 192.4C47.2 191.2 48.2 190.1 49.2 189.2C50.2 188.3 51.2 187.6 52.2 187.0C53.2 186.4 54.4 186.1 55.2 185.8C56.0 185.6 56.4 185.4 57.2 185.5C58.0 185.6 59.2 185.7 60.2 186.1C61.2 186.5 62.2 187.1 63.2 187.7C64.2 188.4 64.9 188.9 66.2 190.0C67.5 191.1 69.4 192.6 70.9 194.4C72.4 196.2 73.7 198.3 75.2 200.6C76.7 202.9 78.3 205.6 79.7 208.3C81.1 211.0 82.3 213.9 83.7 216.8C85.1 219.7 86.8 223.0 88.2 225.8C89.6 228.6 90.8 230.3 92.2 233.7C93.6 237.2 95.5 243.2 96.6 246.5C97.7 249.8 98.1 251.2 99.0 253.4C99.9 255.6 101.0 257.8 102.0 259.5C103.0 261.2 104.0 262.4 105.0 263.5C106.0 264.6 107.2 265.7 108.3 266.4C109.4 267.1 110.3 267.3 111.5 267.7C112.7 268.1 113.9 268.2 115.4 268.6C117.0 269.1 119.3 270.0 120.8 270.4C122.3 270.8 123.2 271.1 124.4 270.9C125.6 270.7 126.9 269.9 127.9 269.1C128.9 268.4 129.6 267.4 130.5 266.4C131.4 265.4 132.4 264.4 133.3 263.3C134.2 262.2 135.1 261.2 136.0 260.1C136.9 259.1 137.8 257.9 138.7 257.0C139.6 256.1 140.3 255.3 141.2 254.6C142.1 253.8 142.9 253.2 144.0 252.5C145.1 251.8 146.4 251.1 147.6 250.6C148.8 250.1 149.7 250.0 151.2 249.4C152.7 248.8 155.2 247.8 156.6 247.2C158.0 246.5 158.6 246.1 159.5 245.5C160.4 244.9 160.9 244.5 161.9 243.6C162.9 242.7 164.6 241.0 165.5 240.0C166.4 239.0 166.5 238.7 167.3 237.5C168.1 236.3 169.3 234.5 170.5 233.0C171.7 231.5 173.0 229.7 174.4 228.4C175.8 227.1 177.4 226.7 178.9 225.4C180.4 224.1 182.0 222.1 183.5 220.6C185.0 219.1 186.6 217.6 187.9 216.4C189.2 215.2 190.3 214.2 191.5 213.2C192.7 212.2 193.9 211.3 195.0 210.6C196.1 209.9 197.0 209.2 198.0 208.8C199.0 208.4 200.0 208.0 200.9 208.0C201.8 208.0 202.7 208.2 203.5 208.6C204.3 209.0 205.1 209.6 205.8 210.4C206.6 211.2 207.2 212.2 208.0 213.4C208.8 214.6 209.6 216.3 210.3 217.3C211.0 218.3 211.3 218.1 212.0 219.5C212.7 220.9 213.8 223.8 214.5 226.0C215.2 228.2 215.7 229.8 216.5 232.5C217.3 235.2 218.4 239.2 219.2 242.4C219.9 245.7 220.3 248.1 221.0 252.0C221.7 255.9 222.2 260.2 223.1 265.6C224.0 271.0 225.4 277.5 226.6 284.4C227.8 291.2 229.3 301.7 230.2 306.7C231.1 311.7 231.4 312.6 232.0 314.5C232.6 316.4 233.0 317.9 233.5 318.0C234.0 318.1 234.5 316.9 235.2 315.0C235.8 313.1 236.4 311.1 237.4 306.7C238.4 302.3 240.0 292.9 240.9 288.8C241.8 284.7 242.2 284.1 243.0 282.0C243.8 279.9 244.5 278.0 245.4 276.3C246.3 274.6 247.6 273.2 248.5 272.0C249.4 270.8 249.8 270.4 250.8 269.2C251.8 268.0 253.5 266.0 254.7 264.8C255.8 263.6 256.8 263.7 257.7 262.0C258.6 260.3 259.4 256.6 260.1 254.5C260.9 252.4 261.3 251.2 262.2 249.3C263.1 247.4 264.5 244.6 265.5 243.0C266.5 241.4 267.1 240.3 268.0 239.5C268.9 238.7 269.8 237.9 271.1 238.1C272.4 238.2 274.1 238.8 275.6 240.4C277.1 242.0 278.4 245.1 280.0 247.5C281.6 249.9 283.6 252.9 285.4 254.7C287.2 256.5 289.0 257.3 290.8 258.2C292.6 259.1 294.6 259.2 296.1 260.0C297.6 260.8 298.6 261.6 299.7 263.0C300.8 264.4 301.7 267.1 302.7 268.5C303.7 269.9 304.7 271.0 305.5 271.6C306.3 272.2 306.8 272.3 307.5 272.3C308.2 272.3 309.2 272.0 310.0 271.5C310.8 271.0 311.1 270.8 312.3 269.1C313.5 267.4 315.6 263.9 317.0 261.1C318.4 258.3 319.7 254.8 321.0 252.5C322.3 250.2 323.7 248.6 324.8 247.5C325.9 246.4 326.5 245.5 327.5 245.7C328.5 245.8 329.8 246.9 331.0 248.4C332.2 249.9 333.5 252.8 334.6 254.7C335.7 256.6 336.5 258.0 337.5 260.0C338.5 262.0 339.5 265.0 340.5 266.5C341.5 268.0 342.5 269.1 343.3 269.2C344.1 269.3 344.9 268.1 345.5 267.0C346.1 265.9 346.4 265.0 347.2 262.7C348.0 260.4 349.4 256.7 350.4 253.2C351.4 249.7 351.9 244.1 353.1 241.7C354.3 239.3 356.0 239.5 357.6 239.0C359.2 238.5 361.2 238.3 363.0 238.6C364.8 238.8 367.1 239.2 368.6 240.5C370.1 241.8 371.0 244.8 372.2 246.3C373.4 247.9 374.8 249.4 375.8 249.8C376.9 250.2 377.8 249.6 378.5 248.9C379.2 248.2 379.7 246.6 380.3 245.4C380.9 244.2 381.0 243.3 382.0 241.5C383.0 239.7 385.1 236.1 386.5 234.8C387.9 233.5 388.9 233.6 390.1 233.9C391.3 234.2 392.5 236.7 393.9 236.8C395.3 236.9 396.9 236.1 398.4 234.5C399.9 232.9 401.7 229.1 402.9 227.4C404.1 225.7 404.7 224.9 405.6 224.2C406.5 223.5 407.3 222.9 408.3 223.3C409.3 223.7 410.6 225.2 411.8 226.5C413.0 227.8 414.2 229.7 415.4 230.9C416.6 232.1 417.8 233.4 419.0 233.6C420.2 233.8 421.4 232.8 422.6 231.8C423.8 230.8 424.8 228.7 426.1 227.8C427.4 226.9 428.9 226.3 430.4 226.3C431.8 226.3 433.3 226.9 434.8 227.7C436.3 228.5 437.8 230.3 439.3 231.3C440.8 232.3 442.5 233.2 443.8 233.9C445.1 234.6 446.2 234.8 447.4 235.7C448.6 236.6 449.9 237.7 450.9 239.3C451.9 241.0 452.7 243.5 453.6 245.6C454.5 247.7 455.4 249.9 456.3 251.8C457.2 253.7 457.9 255.7 459.0 257.2C460.1 258.7 461.6 260.2 462.6 260.8C463.7 261.4 464.4 261.6 465.3 260.8C466.2 260.1 466.9 258.2 467.9 256.3C468.9 254.4 470.3 251.3 471.5 249.2C472.7 247.1 473.9 245.3 475.1 243.8C476.3 242.3 477.5 241.1 478.7 240.2C479.9 239.3 480.7 238.8 482.2 238.4C483.7 238.0 486.0 237.8 487.6 237.5C489.2 237.2 490.6 237.0 492.1 236.6C493.6 236.2 495.4 235.3 496.6 235.3C497.8 235.3 498.3 235.6 499.2 236.6C500.1 237.6 501.0 239.3 501.9 241.1C502.8 242.9 503.7 245.2 504.6 247.4C505.5 249.6 506.4 252.7 507.3 254.5C508.2 256.4 509.1 257.7 510.0 258.5C510.9 259.3 512.0 259.5 512.7 259.4C513.4 259.3 513.5 259.1 514.4 258.1C515.3 257.1 517.1 255.0 518.4 253.5C519.7 252.0 520.8 250.5 522.0 249.0C523.2 247.5 524.4 245.6 525.6 244.5C526.8 243.4 527.7 242.8 529.2 242.3C530.7 241.9 532.6 241.8 534.5 241.8C536.4 241.8 539.0 242.2 540.8 242.3C542.6 242.5 544.1 242.5 545.3 242.7C546.5 242.9 547.0 242.7 547.9 243.6C548.8 244.5 549.7 246.4 550.6 248.1C551.5 249.8 552.5 252.3 553.3 253.5C554.0 254.7 554.4 255.3 555.1 255.3C555.9 255.3 556.8 254.4 557.8 253.5C558.8 252.6 560.2 251.1 561.4 249.9C562.6 248.7 563.7 247.4 564.9 246.3C566.1 245.2 567.3 244.1 568.5 243.6C569.7 243.1 570.9 243.1 572.1 243.6C573.3 244.1 574.5 245.4 575.7 246.3C576.9 247.2 578.0 248.2 579.2 249.0C580.4 249.8 581.6 250.4 582.8 250.8C584.0 251.2 585.2 251.2 586.4 251.2C587.6 251.2 588.7 251.2 590.0 250.8C591.3 250.4 593.2 249.3 594.4 249.0C595.5 248.7 595.7 249.4 596.9 249.0C598.1 248.6 600.0 246.6 601.4 246.3C602.8 246.0 603.8 246.5 605.0 247.2C606.2 247.9 607.5 249.4 608.6 250.3C609.7 251.2 610.5 252.1 611.5 252.8C612.5 253.5 613.6 254.8 614.8 254.6C615.9 254.4 617.2 252.9 618.4 251.9C619.6 250.9 621.0 249.4 622.0 248.4C623.0 247.4 623.8 246.6 624.7 245.9C625.6 245.2 626.1 244.9 627.4 244.5C628.7 244.1 630.9 243.9 632.7 243.6C634.5 243.3 636.3 243.0 638.1 242.7C639.9 242.4 641.7 241.8 643.5 241.8C645.3 241.8 647.3 242.7 648.8 242.7C650.3 242.7 651.2 242.4 652.4 241.8C653.6 241.2 654.8 239.8 656.0 239.2C657.2 238.6 658.6 238.2 659.6 238.3C660.6 238.4 661.2 238.8 662.2 240.0C663.2 241.2 664.6 243.6 665.8 245.4C667.0 247.2 668.2 249.5 669.4 250.8C670.6 252.2 671.7 253.2 673.0 253.5C674.3 253.8 676.2 253.8 677.4 252.6C678.6 251.4 679.2 247.8 680.2 246.5C681.2 245.2 682.5 244.7 683.7 244.7C684.9 244.7 686.1 245.5 687.3 246.5C688.5 247.5 689.7 249.4 690.9 250.9C692.1 252.4 693.3 254.1 694.5 255.4C695.7 256.8 696.8 258.2 698.0 259.0C699.2 259.8 700.4 260.0 701.6 259.9C702.8 259.8 704.0 258.9 705.2 258.1C706.4 257.4 707.6 256.0 708.8 255.4C710.0 254.8 711.2 254.2 712.4 254.5C713.6 254.8 714.6 256.3 715.9 257.2C717.2 258.1 718.9 259.1 720.4 259.9C721.9 260.7 723.4 260.9 724.9 261.8C726.4 262.7 727.9 263.9 729.4 265.0C730.9 266.1 732.3 267.0 733.8 268.2C735.3 269.4 736.8 270.9 738.3 272.0C739.8 273.1 741.5 273.6 742.8 274.7C744.1 275.8 745.1 276.7 746.3 278.3C747.5 279.9 748.8 282.4 749.9 284.5C751.0 286.6 751.7 289.0 752.6 290.8C753.5 292.6 754.4 294.4 755.3 295.3C756.2 296.2 756.8 296.4 758.0 296.1C759.2 295.8 760.9 294.2 762.4 293.5C763.9 292.8 765.4 292.8 766.9 291.7C768.4 290.6 769.9 288.5 771.4 287.2C772.9 285.9 774.4 284.4 775.9 283.6C777.4 282.9 778.9 282.8 780.4 282.7C781.9 282.6 783.3 283.4 784.8 283.2C786.3 283.0 787.8 282.4 789.3 281.4C790.8 280.4 792.4 279.1 793.8 277.4C795.1 275.7 796.2 273.2 797.4 271.1C798.6 269.0 799.9 266.9 800.9 264.8C801.9 262.7 802.3 260.1 803.1 258.5C803.9 256.9 804.5 255.9 805.5 255.3C806.5 254.8 807.6 254.8 809.0 255.2C810.4 255.6 812.0 257.5 813.8 257.5C815.6 257.5 817.8 256.1 819.8 255.1C821.8 254.1 823.7 253.1 825.7 251.5C827.7 249.9 829.9 247.6 831.7 245.6C833.5 243.6 835.1 241.8 836.5 239.6C837.9 237.4 838.9 235.3 840.1 232.5C841.3 229.7 842.4 225.7 843.6 222.9C844.8 220.1 846.0 217.6 847.2 215.7C848.4 213.8 849.8 212.5 850.8 211.6C851.8 210.7 852.2 210.4 853.2 210.4C854.2 210.4 855.6 210.7 856.8 211.6C858.0 212.5 859.2 214.7 860.4 215.7C861.6 216.7 862.7 217.4 864.0 217.5C865.3 217.6 867.0 216.8 868.0 216.0C869.0 215.2 868.9 213.9 870.0 213.0C871.1 212.1 873.1 210.9 874.9 210.5C876.7 210.1 879.1 210.0 880.9 210.5C882.7 211.0 884.3 212.2 885.7 213.5C887.1 214.8 888.1 216.5 889.3 218.3C890.5 220.1 891.6 222.3 892.8 224.3C894.0 226.3 895.4 228.4 896.4 230.2C897.4 232.0 898.0 233.0 899.0 235.0C900.0 237.0 901.3 239.6 902.5 242.2C903.7 244.8 904.9 248.1 906.1 250.5C907.3 252.9 908.5 254.9 909.7 256.5C910.9 258.1 912.1 259.4 913.3 260.1C914.5 260.8 915.5 260.7 916.9 260.7C918.3 260.7 920.0 259.8 921.6 260.1C923.2 260.4 925.0 261.8 926.4 262.5C927.8 263.2 928.9 264.2 930.0 264.2C931.1 264.2 932.0 264.0 933.0 262.5C934.0 261.0 935.1 257.7 936.0 255.3C936.9 252.9 937.6 249.7 938.4 248.1C939.2 246.5 939.7 245.7 940.7 245.7C941.7 245.7 943.1 246.9 944.3 248.1C945.5 249.3 946.5 251.3 947.9 252.9C949.3 254.5 951.1 256.5 952.7 257.7C954.3 258.9 955.9 259.1 957.5 260.1C959.1 261.1 960.6 262.0 962.2 263.6C963.8 265.2 965.4 268.0 967.0 269.6C968.6 271.2 969.8 271.4 971.8 273.0C973.8 274.6 977.1 277.5 979.3 279.5C981.5 281.5 983.0 283.0 984.9 285.2C986.8 287.4 988.7 289.5 990.6 292.7C992.5 295.9 994.4 300.3 996.3 304.1C998.2 307.9 1000.0 312.3 1001.9 315.4C1003.8 318.5 1006.6 321.5 1007.6 322.7" stroke="#f08a1c"/>
<path d="M30.9 221.6C31.2 221.0 32.0 219.6 33.0 218.0C34.0 216.4 35.7 213.6 36.9 212.0C38.1 210.4 39.0 209.5 40.0 208.4C41.0 207.3 42.0 206.5 43.2 205.7C44.4 204.9 45.8 204.1 47.0 203.4C48.2 202.7 49.2 202.2 50.4 201.6C51.6 201.0 52.8 200.4 54.0 199.8C55.2 199.2 56.3 198.5 57.5 197.9C58.7 197.3 60.0 196.6 61.0 196.2C62.0 195.8 62.9 195.5 63.8 195.4C64.7 195.3 65.6 195.4 66.5 195.7C67.4 196.0 68.1 196.5 69.0 197.2C69.9 197.8 70.8 198.6 71.8 199.6C72.8 200.6 74.0 202.0 75.0 203.3C76.0 204.6 77.0 206.0 78.1 207.6C79.1 209.2 80.2 211.0 81.3 212.8C82.3 214.6 83.3 216.3 84.4 218.4C85.5 220.5 86.7 222.9 88.0 225.5C89.3 228.1 90.8 231.2 92.0 234.0C93.2 236.8 94.4 239.4 95.5 242.0C96.6 244.6 97.2 247.0 98.5 249.6C99.8 252.2 102.1 256.1 103.3 257.8C104.5 259.5 104.8 259.2 105.9 259.6C107.0 260.0 108.5 260.2 109.8 260.4C111.1 260.6 112.6 260.7 113.9 260.9C115.1 261.1 116.1 261.4 117.3 261.6C118.5 261.8 119.7 262.1 121.1 262.3C122.5 262.5 124.0 263.1 125.5 262.7C127.0 262.3 128.7 261.0 130.0 260.0C131.3 259.0 132.2 257.9 133.3 256.8C134.4 255.7 135.3 254.4 136.3 253.3C137.3 252.2 138.3 251.1 139.3 250.1C140.3 249.1 141.6 248.6 142.5 247.1C143.4 245.6 144.2 242.4 145.0 241.0C145.8 239.6 146.4 239.2 147.6 238.7C148.8 238.2 150.5 238.1 152.0 237.8C153.5 237.5 155.1 237.6 156.6 236.9C158.1 236.2 159.8 234.8 161.0 233.8C162.2 232.8 162.9 232.1 164.0 231.0C165.1 229.9 166.1 228.7 167.3 227.5C168.5 226.3 169.8 225.0 171.0 224.0C172.2 223.0 173.1 222.1 174.4 221.3C175.7 220.5 177.4 219.9 178.9 219.1C180.4 218.2 182.0 217.1 183.5 216.2C185.0 215.3 186.4 214.5 187.9 213.7C189.4 212.9 191.0 212.0 192.5 211.3C194.0 210.6 195.6 209.7 196.8 209.3C198.0 208.9 198.6 208.9 199.5 208.9C200.4 208.9 201.1 208.8 202.2 209.3C203.2 209.8 204.9 211.0 205.8 211.9C206.7 212.8 207.0 213.8 207.6 215.0C208.2 216.2 208.5 216.8 209.4 219.1C210.3 221.4 211.7 225.3 212.9 228.9C214.1 232.5 215.6 237.4 216.5 240.6C217.4 243.8 217.8 245.6 218.5 248.0C219.2 250.4 219.8 252.9 220.5 255.0C221.2 257.1 221.8 258.9 222.5 260.5C223.2 262.1 223.8 263.4 224.5 264.5C225.2 265.6 226.2 267.1 227.0 267.3C227.8 267.5 228.6 266.3 229.5 265.5C230.4 264.7 231.5 263.1 232.4 262.3C233.3 261.5 234.1 261.0 235.0 260.5C235.9 260.0 236.9 259.6 237.7 259.5C238.5 259.4 239.2 259.5 240.0 259.6C240.8 259.8 241.4 259.9 242.2 260.4C243.0 260.9 244.1 261.8 245.0 262.5C245.9 263.2 246.6 264.2 247.6 264.8C248.6 265.4 250.2 266.4 251.1 266.4C252.0 266.3 252.4 265.5 253.0 264.5C253.6 263.5 253.8 262.2 254.7 260.4C255.6 258.6 257.2 257.1 258.6 253.8C260.0 250.5 261.7 244.0 263.0 240.4C264.3 236.8 265.6 234.0 266.6 232.3C267.6 230.7 268.2 230.8 269.0 230.5C269.8 230.2 270.2 230.2 271.1 230.3C272.1 230.5 273.4 230.5 274.7 231.4C276.0 232.3 277.7 234.2 279.2 235.9C280.7 237.6 282.0 239.5 283.6 241.3C285.2 243.1 287.2 245.3 289.0 246.6C290.8 247.9 292.6 248.1 294.4 249.3C296.2 250.5 297.9 252.5 299.7 253.8C301.5 255.2 303.6 256.8 305.1 257.4C306.6 258.0 307.4 258.4 308.7 257.4C310.0 256.3 311.6 253.5 313.1 251.1C314.6 248.7 316.1 245.5 317.6 243.0C319.1 240.5 320.6 237.6 322.1 235.9C323.6 234.2 325.1 233.3 326.6 232.8C328.1 232.3 329.5 232.4 331.0 232.8C332.5 233.2 333.9 234.3 335.5 235.0C337.1 235.7 339.4 236.7 340.9 237.2C342.4 237.7 343.4 237.5 344.4 238.1C345.4 238.7 345.9 239.9 346.9 240.8C347.9 241.7 349.5 242.2 350.5 243.5C351.5 244.8 352.2 246.9 353.1 248.8C354.0 250.7 354.8 253.6 355.8 255.1C356.9 256.6 358.2 257.4 359.4 257.8C360.6 258.2 361.9 258.9 363.0 257.8C364.1 256.8 364.8 253.7 365.7 251.5C366.6 249.3 367.3 246.8 368.3 244.4C369.3 242.0 370.7 239.1 371.9 237.2C373.1 235.2 374.1 233.8 375.5 232.7C376.9 231.6 378.9 231.0 380.0 230.5C381.1 230.0 380.9 229.4 382.0 229.5C383.1 229.6 385.1 230.3 386.5 231.3C387.9 232.3 388.9 234.1 390.1 235.7C391.3 237.3 392.3 239.6 393.7 241.1C395.1 242.6 396.9 243.3 398.4 244.5C399.9 245.7 401.4 246.5 402.9 248.0C404.4 249.5 405.9 252.0 407.4 253.4C408.9 254.8 410.3 256.2 411.8 256.5C413.3 256.8 415.0 255.7 416.3 255.2C417.6 254.7 418.7 253.2 419.9 253.4C421.1 253.6 422.6 255.2 423.5 256.1C424.4 257.0 424.1 257.6 425.0 259.0C425.9 260.4 427.4 263.1 428.6 264.4C429.8 265.7 431.0 266.9 432.2 267.0C433.4 267.1 434.5 266.6 435.7 265.3C436.9 264.0 438.1 260.8 439.3 259.0C440.5 257.2 441.4 255.4 442.9 254.5C444.4 253.6 446.2 253.6 448.3 253.6C450.4 253.6 453.3 253.9 455.4 254.5C457.5 255.1 459.1 256.4 460.8 257.2C462.5 258.0 463.8 259.1 465.3 259.4C466.8 259.7 468.4 259.5 469.7 259.0C471.0 258.5 472.1 257.1 473.3 256.3C474.5 255.6 475.4 254.9 476.9 254.5C478.4 254.1 480.6 254.4 482.2 254.1C483.8 253.8 485.3 253.7 486.7 252.7C488.1 251.7 489.1 250.4 490.3 248.3C491.5 246.2 492.8 242.4 493.9 240.2C494.9 237.9 495.6 235.9 496.6 234.8C497.6 233.7 499.1 233.3 500.1 233.5C501.1 233.7 501.9 234.6 502.8 235.7C503.7 236.8 504.6 238.8 505.5 240.2C506.4 241.5 507.3 243.0 508.2 243.8C509.1 244.6 509.9 244.9 510.9 245.1C511.9 245.2 513.4 244.5 514.4 244.7C515.4 244.9 515.5 246.2 516.6 246.3C517.7 246.4 519.6 245.6 521.1 245.4C522.6 245.2 524.1 245.0 525.6 245.0C527.1 245.0 528.5 245.0 530.0 245.4C531.5 245.8 533.0 246.4 534.5 247.2C536.0 247.9 537.5 249.2 539.0 249.9C540.5 250.6 542.2 250.9 543.5 251.2C544.8 251.5 545.8 251.2 547.0 251.7C548.2 252.2 549.6 253.7 550.6 254.4C551.6 255.2 552.4 255.8 553.3 256.2C554.2 256.6 555.1 257.1 556.0 257.0C556.9 256.9 557.7 256.7 558.7 255.7C559.7 254.7 561.0 252.5 562.2 250.8C563.4 249.1 564.6 247.2 565.8 245.4C567.0 243.6 568.2 241.6 569.4 240.0C570.6 238.4 571.9 236.8 573.0 235.6C574.1 234.4 574.7 233.5 576.0 232.8C577.3 232.1 579.4 231.4 581.0 231.5C582.6 231.6 584.0 232.5 585.5 233.3C587.0 234.1 588.5 235.3 590.0 236.5C591.5 237.7 593.2 239.5 594.4 240.5C595.5 241.5 596.0 241.8 596.9 242.7C597.8 243.6 598.5 244.0 599.6 245.7C600.7 247.4 602.2 251.0 603.2 252.8C604.2 254.6 605.0 255.6 605.9 256.4C606.8 257.2 607.5 257.9 608.6 257.8C609.7 257.7 611.0 256.8 612.2 255.5C613.4 254.2 614.7 252.2 615.7 250.2C616.7 248.2 617.2 246.1 618.4 243.7C619.6 241.3 621.4 238.0 622.9 235.6C624.4 233.2 626.1 231.0 627.4 229.3C628.7 227.6 629.6 226.2 630.9 225.3C632.2 224.4 633.6 223.9 635.0 223.9C636.4 223.9 637.7 224.2 639.0 225.3C640.3 226.4 641.4 228.3 642.6 230.2C643.8 232.1 644.9 234.6 646.1 236.5C647.3 238.4 648.7 240.6 649.7 241.8C650.8 243.0 651.4 243.8 652.4 243.6C653.4 243.4 654.8 242.2 656.0 240.9C657.2 239.6 658.4 237.0 659.6 235.6C660.8 234.2 661.9 233.1 663.1 232.4C664.3 231.7 665.5 231.3 666.7 231.5C667.9 231.7 669.1 232.7 670.3 233.8C671.5 234.9 672.7 236.7 673.9 238.3C675.1 239.9 676.3 241.5 677.4 243.6C678.5 245.7 679.2 249.2 680.2 250.9C681.2 252.6 682.5 253.3 683.7 253.6C684.9 253.9 686.1 253.6 687.3 252.7C688.5 251.8 689.5 249.7 690.9 248.3C692.2 246.9 694.1 245.0 695.4 244.2C696.7 243.4 697.7 243.2 698.9 243.3C700.1 243.4 701.3 243.7 702.5 244.7C703.7 245.7 704.9 247.6 706.1 249.2C707.3 250.8 708.5 253.2 709.7 254.5C710.9 255.8 712.1 257.2 713.3 257.2C714.5 257.2 715.6 255.5 716.8 254.5C718.0 253.5 719.3 252.0 720.4 251.4C721.5 250.8 722.2 250.5 723.1 250.9C724.0 251.3 724.9 252.4 725.8 253.6C726.7 254.8 727.5 256.6 728.5 258.1C729.5 259.6 730.8 261.6 732.0 262.6C733.2 263.6 734.4 264.0 735.6 263.9C736.8 263.8 738.0 262.8 739.2 261.7C740.4 260.6 741.8 258.5 742.8 257.6C743.8 256.7 744.6 256.3 745.5 256.3C746.4 256.3 747.2 256.8 748.1 257.8C749.0 258.9 749.9 260.8 750.8 262.6C751.7 264.4 752.6 266.8 753.5 268.4C754.4 270.0 755.2 271.4 756.0 272.5C756.8 273.6 756.9 273.9 758.0 274.7C759.1 275.5 760.9 276.7 762.4 277.4C763.9 278.1 765.5 278.7 766.9 278.7C768.2 278.7 769.3 278.2 770.5 277.4C771.7 276.6 772.8 275.0 774.1 273.8C775.5 272.6 777.1 271.4 778.6 270.2C780.1 269.0 781.7 267.6 783.0 266.6C784.3 265.6 785.0 266.0 786.4 264.3C787.8 262.6 789.5 258.6 791.1 256.3C792.7 254.0 794.1 252.1 795.9 250.4C797.7 248.7 799.9 247.0 801.9 246.2C803.9 245.4 805.8 245.4 807.8 245.6C809.8 245.8 812.0 247.0 813.8 247.4C815.6 247.8 817.0 248.3 818.6 248.0C820.2 247.7 821.8 246.4 823.4 245.6C825.0 244.8 826.3 243.7 828.1 243.2C829.9 242.7 832.1 242.9 834.1 242.6C836.1 242.3 838.1 241.8 840.1 241.4C842.1 241.0 844.2 240.9 846.0 240.2C847.8 239.5 849.2 238.7 850.8 237.2C852.4 235.7 854.0 233.7 855.6 231.3C857.2 228.9 859.0 225.5 860.4 222.9C861.8 220.3 862.6 217.7 863.9 215.7C865.2 213.7 866.6 211.4 868.0 211.0C869.4 210.6 871.0 213.2 872.5 213.5C874.0 213.8 875.4 213.0 877.3 212.9C879.2 212.8 881.9 213.1 884.0 213.2C886.1 213.3 887.7 213.4 890.0 213.4C892.3 213.4 895.7 213.3 897.6 212.9C899.5 212.5 900.0 211.5 901.2 211.1C902.4 210.7 903.6 210.3 904.8 210.5C906.0 210.7 907.0 211.2 908.4 212.3C909.8 213.4 911.5 215.7 913.1 217.1C914.7 218.5 916.3 219.5 917.9 220.7C919.5 221.9 921.1 222.9 922.7 224.3C924.3 225.7 925.9 227.4 927.5 229.0C929.1 230.6 930.6 232.5 932.2 233.8C933.8 235.1 934.8 235.6 937.0 237.0C939.2 238.4 942.9 240.8 945.5 242.2C948.1 243.6 950.5 244.7 952.7 245.7C954.9 246.7 956.8 247.3 958.6 248.1C960.4 248.9 961.8 249.3 963.4 250.5C965.0 251.7 966.6 253.7 968.2 255.3C969.8 256.9 971.4 258.7 973.0 260.1C974.6 261.5 976.0 262.4 977.7 263.6C979.4 264.8 980.9 265.4 983.0 267.2C985.1 269.0 988.1 271.7 990.6 274.5C993.1 277.3 996.0 280.9 998.2 284.0C1000.4 287.1 1002.2 290.3 1003.8 293.0C1005.4 295.7 1007.0 298.8 1007.6 300.0" stroke="#22ac22"/>
<path d="M30.9 220.6C31.2 220.0 32.0 218.6 33.0 217.2C34.0 215.8 35.7 213.6 36.9 212.2C38.1 210.8 39.0 209.9 40.0 208.9C41.0 207.9 42.0 207.0 43.2 206.2C44.4 205.3 45.8 204.5 47.0 203.8C48.2 203.1 49.2 202.6 50.4 202.0C51.6 201.4 52.8 201.0 54.0 200.4C55.2 199.8 56.3 199.1 57.5 198.6C58.7 198.1 59.8 197.6 61.0 197.3C62.2 197.0 63.6 196.8 64.7 196.8C65.8 196.8 66.6 197.0 67.4 197.3C68.2 197.6 68.8 198.1 69.5 198.6C70.2 199.1 70.9 199.4 71.8 200.3C72.7 201.2 74.0 202.6 75.0 203.9C76.0 205.2 77.0 206.7 78.1 208.3C79.1 209.9 80.2 211.7 81.3 213.5C82.3 215.3 83.3 216.9 84.4 219.0C85.5 221.1 86.7 223.4 88.0 226.0C89.3 228.6 90.8 231.8 92.0 234.5C93.2 237.2 94.4 239.9 95.5 242.5C96.6 245.1 97.2 247.8 98.5 250.0C99.8 252.2 102.3 254.5 103.6 255.8C104.9 257.1 105.1 257.2 106.2 257.6C107.3 258.0 108.8 258.2 110.1 258.4C111.4 258.6 112.9 258.7 114.2 258.9C115.4 259.1 116.4 259.4 117.6 259.6C118.8 259.8 120.0 260.1 121.4 260.3C122.8 260.5 124.3 261.1 125.8 260.7C127.3 260.3 129.0 259.0 130.3 258.0C131.6 257.0 132.5 255.9 133.6 254.8C134.7 253.7 135.6 252.4 136.6 251.3C137.6 250.2 138.6 249.1 139.6 248.1C140.6 247.1 141.9 246.8 142.8 245.1C143.7 243.5 144.2 239.7 145.0 238.2C145.8 236.7 146.6 236.8 147.6 236.2C148.6 235.5 149.7 234.8 151.2 234.3C152.7 233.8 154.8 233.8 156.6 233.3C158.4 232.8 160.4 231.9 161.9 231.1C163.4 230.3 164.3 229.5 165.5 228.6C166.7 227.7 167.6 226.8 169.1 225.7C170.6 224.6 172.8 223.0 174.4 222.2C176.0 221.4 177.4 221.6 178.9 220.9C180.4 220.2 182.0 219.1 183.5 218.3C185.0 217.5 186.4 216.8 187.9 216.0C189.4 215.2 191.0 214.5 192.5 213.8C194.0 213.1 195.6 212.3 196.8 211.9C198.0 211.5 198.6 211.4 199.5 211.3C200.4 211.2 201.1 211.0 202.2 211.5C203.2 212.0 204.6 212.6 205.8 214.2C207.0 215.8 208.2 218.3 209.4 220.9C210.6 223.5 211.7 226.4 212.9 229.8C214.1 233.2 215.6 238.3 216.5 241.5C217.4 244.7 217.8 246.6 218.5 249.0C219.2 251.4 219.8 254.0 220.5 256.0C221.2 258.0 221.8 259.6 222.5 261.0C223.2 262.4 224.2 263.8 225.0 264.5C225.8 265.2 226.5 265.7 227.5 265.3C228.5 264.9 229.8 263.0 231.0 262.0C232.2 261.0 233.7 259.9 235.0 259.5C236.3 259.1 237.5 259.0 238.6 259.5C239.7 260.0 240.6 262.1 241.5 262.5C242.4 262.9 243.1 263.0 244.0 262.0C244.9 261.0 246.0 258.5 247.0 256.5C248.0 254.5 249.0 251.8 250.0 250.0C251.0 248.2 252.2 246.9 253.0 246.0C253.8 245.1 253.9 245.7 255.0 244.8C256.1 243.9 258.0 240.9 259.5 240.4C261.0 239.9 262.9 241.5 263.9 242.1C264.9 242.7 264.8 242.8 265.7 243.9C266.6 245.0 268.4 246.3 269.3 248.4C270.2 250.5 270.5 254.1 271.1 256.5C271.7 258.9 272.4 261.2 272.9 262.7C273.4 264.2 273.2 263.0 274.0 265.6C274.8 268.2 276.4 274.4 277.6 278.1C278.8 281.8 280.1 285.8 281.2 287.9C282.3 290.0 283.3 290.6 284.3 290.6C285.3 290.6 286.3 289.7 287.4 287.9C288.5 286.1 289.8 282.7 291.0 279.9C292.2 277.1 293.4 273.6 294.6 270.9C295.8 268.2 297.4 265.7 298.2 263.8C299.0 261.9 298.6 260.7 299.5 259.5C300.4 258.3 302.2 257.3 303.3 256.5C304.4 255.7 304.8 255.1 305.9 254.8C307.0 254.5 308.8 254.4 310.0 254.5C311.2 254.6 311.7 255.3 313.0 255.5C314.3 255.7 315.9 256.9 317.6 255.6C319.3 254.3 321.4 249.5 323.0 247.5C324.6 245.5 325.8 244.4 327.0 243.5C328.2 242.6 328.9 242.0 330.0 241.8C331.1 241.6 332.7 241.7 333.7 242.5C334.7 243.3 335.1 245.4 336.1 246.6C337.1 247.8 338.5 248.9 339.7 249.7C340.9 250.5 342.1 251.4 343.3 251.5C344.5 251.6 345.8 250.8 347.0 250.0C348.2 249.2 349.3 247.4 350.5 246.5C351.7 245.6 352.8 244.2 354.0 244.4C355.2 244.6 356.4 246.4 357.6 247.9C358.8 249.4 360.0 252.0 361.2 253.3C362.4 254.7 363.6 255.7 364.8 256.0C366.0 256.3 367.1 255.8 368.3 255.1C369.5 254.4 370.9 252.4 372.2 252.0C373.4 251.6 374.6 251.5 375.8 252.5C377.0 253.5 378.4 256.8 379.4 257.9C380.4 258.9 381.0 259.4 382.0 258.8C383.0 258.2 384.4 256.2 385.6 254.3C386.8 252.4 388.1 249.1 389.2 247.2C390.2 245.3 391.1 244.4 391.9 243.0C392.7 241.6 393.0 240.4 393.9 239.0C394.8 237.6 396.3 235.4 397.5 234.5C398.7 233.6 399.9 233.2 401.1 233.6C402.3 234.0 403.5 235.8 404.7 237.2C405.9 238.5 407.1 240.3 408.3 241.7C409.5 243.0 410.5 244.2 411.8 245.3C413.1 246.4 414.6 247.3 416.0 248.0C417.4 248.7 418.6 248.9 420.0 249.5C421.4 250.1 423.2 250.2 424.4 251.6C425.6 253.0 426.1 255.8 427.0 257.9C427.9 260.0 428.6 262.1 429.7 264.2C430.8 266.3 432.1 268.6 433.3 270.4C434.5 272.2 435.7 273.7 436.9 274.9C438.1 276.1 439.3 276.6 440.5 277.6C441.7 278.6 442.8 279.7 444.0 281.1C445.2 282.5 446.6 285.7 447.7 286.1C448.8 286.5 449.6 284.9 450.4 283.4C451.1 281.9 451.6 279.4 452.2 277.2C452.8 275.0 453.4 272.8 454.0 270.0C454.6 267.2 455.3 263.5 456.0 260.5C456.7 257.5 457.3 255.2 458.1 251.8C458.9 248.4 459.9 243.2 460.8 240.2C461.7 237.2 462.3 235.4 463.5 233.9C464.7 232.4 466.4 231.3 467.9 231.3C469.4 231.3 471.0 232.4 472.4 233.9C473.8 235.4 474.9 238.1 476.0 240.2C477.1 242.3 477.7 244.3 478.7 246.5C479.7 248.7 481.0 251.2 482.2 253.6C483.4 256.0 484.6 259.0 485.8 260.8C487.0 262.6 488.2 264.4 489.4 264.4C490.6 264.4 491.8 262.9 493.0 261.0C494.2 259.1 495.4 255.7 496.6 252.7C497.8 249.7 498.9 246.2 500.1 242.9C501.3 239.6 502.6 235.4 503.7 233.0C504.8 230.6 505.3 229.6 506.4 228.6C507.4 227.6 508.7 226.8 510.0 226.8C511.3 226.8 513.1 227.6 514.4 228.6C515.6 229.6 516.4 231.6 517.5 232.9C518.6 234.2 519.9 235.6 521.1 236.5C522.3 237.4 523.6 238.0 524.7 238.3C525.9 238.6 526.8 238.5 528.0 238.2C529.2 237.9 530.6 238.1 531.8 236.5C533.0 234.9 534.3 230.4 535.4 228.4C536.5 226.4 537.0 225.4 538.1 224.4C539.2 223.4 540.5 222.7 541.7 222.6C542.9 222.5 544.1 223.1 545.3 223.9C546.5 224.7 547.6 226.2 548.8 227.5C550.0 228.8 551.2 230.7 552.4 232.0C553.6 233.3 554.8 234.4 556.0 235.5C557.2 236.6 558.3 237.5 559.5 238.5C560.7 239.5 561.9 239.9 563.1 241.5C564.3 243.1 565.7 245.8 566.7 248.1C567.8 250.4 568.5 252.9 569.4 255.3C570.3 257.7 571.2 260.3 572.1 262.4C573.0 264.5 573.8 266.4 574.8 267.8C575.8 269.2 576.9 270.5 577.9 270.5C578.9 270.5 580.0 269.3 581.0 267.8C582.0 266.3 583.0 263.4 583.7 261.5C584.5 259.6 584.8 258.1 585.5 256.2C586.2 254.3 587.3 252.0 588.2 249.9C589.1 247.8 590.0 245.7 590.9 243.6C591.8 241.5 592.7 239.2 593.6 237.4C594.5 235.6 595.6 234.2 596.5 233.0C597.4 231.8 597.9 231.2 598.7 230.2C599.5 229.2 600.4 227.8 601.4 227.1C602.4 226.4 603.6 226.2 605.0 226.2C606.4 226.2 607.9 226.7 609.5 227.1C611.1 227.5 613.0 228.3 614.8 228.4C616.6 228.5 618.4 227.3 620.2 227.5C622.0 227.7 624.0 228.2 625.6 229.3C627.2 230.4 628.5 232.2 630.0 233.8C631.5 235.5 633.1 237.3 634.5 239.2C635.9 241.1 637.2 244.0 638.1 245.4C639.0 246.8 639.1 246.3 639.9 247.5C640.6 248.7 641.6 251.2 642.6 252.8C643.6 254.4 644.9 256.6 646.1 256.9C647.3 257.2 648.7 255.9 649.7 254.6C650.8 253.3 651.6 251.2 652.4 249.3C653.2 247.5 653.8 245.5 654.5 243.5C655.2 241.5 655.8 239.3 656.5 237.5C657.2 235.7 657.9 234.1 658.7 232.5C659.5 230.9 660.4 229.1 661.3 228.2C662.2 227.2 663.1 226.8 664.0 226.8C664.9 226.8 665.7 227.2 666.7 228.2C667.8 229.1 669.1 230.7 670.3 232.5C671.5 234.3 672.7 236.7 673.9 238.8C675.1 240.9 676.6 243.6 677.4 245.0C678.1 246.4 677.8 246.1 678.4 247.4C679.0 248.7 680.2 250.8 681.1 252.7C682.0 254.5 682.8 256.5 683.7 258.5C684.6 260.5 685.5 262.7 686.4 264.6C687.3 266.6 688.1 269.0 689.1 270.2C690.1 271.4 691.2 272.0 692.2 272.0C693.2 272.0 694.4 271.2 695.4 270.2C696.4 269.1 697.1 266.9 698.0 265.7C698.9 264.5 699.8 263.1 700.7 263.0C701.6 262.9 702.4 263.6 703.4 264.8C704.4 266.0 705.8 268.7 707.0 270.2C708.2 271.7 709.6 273.4 710.6 273.8C711.6 274.2 712.4 273.5 713.3 272.9C714.2 272.3 715.0 270.9 715.9 270.2C716.8 269.4 717.5 268.4 718.6 268.4C719.7 268.4 721.0 269.3 722.2 270.2C723.4 271.1 724.6 272.8 725.8 273.8C727.0 274.9 728.1 275.9 729.4 276.5C730.7 277.1 732.3 277.4 733.8 277.4C735.3 277.4 736.6 276.6 738.3 276.5C739.9 276.4 742.1 276.2 743.7 276.5C745.3 276.8 746.5 277.6 748.1 278.3C749.7 279.0 751.9 279.9 753.5 280.9C755.1 281.9 756.5 283.1 758.0 284.5C759.5 285.9 760.9 288.2 762.4 289.0C763.9 289.8 765.4 289.6 766.9 289.0C768.4 288.4 769.9 286.9 771.4 285.4C772.9 283.9 774.4 281.6 775.9 280.0C777.4 278.4 778.9 276.6 780.4 275.6C781.9 274.6 783.3 274.0 784.8 273.8C786.3 273.6 787.8 273.9 789.3 274.2C790.8 274.5 792.4 275.8 793.8 275.6C795.1 275.4 796.2 274.1 797.4 272.9C798.6 271.7 799.6 269.8 800.9 268.4C802.2 267.0 803.9 265.7 805.4 264.8C806.9 263.9 808.5 263.8 809.9 263.0C811.3 262.2 812.1 260.6 813.8 259.9C815.4 259.2 817.8 258.9 819.8 258.7C821.8 258.5 823.9 259.1 825.7 258.7C827.5 258.3 829.1 257.5 830.5 256.3C831.9 255.1 832.9 253.5 834.1 251.5C835.3 249.5 836.5 246.6 837.7 244.4C838.9 242.2 840.1 240.4 841.3 238.4C842.5 236.4 843.6 234.3 844.8 232.5C846.0 230.7 847.2 228.8 848.4 227.7C849.6 226.6 851.0 225.9 852.0 225.9C853.0 225.9 853.6 226.6 854.4 227.7C855.2 228.8 856.0 230.7 856.8 232.5C857.6 234.3 858.4 236.4 859.2 238.4C860.0 240.4 860.6 242.8 861.6 244.4C862.6 246.0 864.0 247.8 865.1 248.0C866.2 248.2 867.0 247.4 868.0 245.6C869.0 243.8 870.2 240.0 871.4 237.4C872.5 234.8 873.7 232.2 874.9 230.2C876.1 228.2 877.3 226.6 878.5 225.5C879.7 224.4 880.9 223.8 882.1 223.7C883.3 223.6 884.5 224.0 885.7 224.9C886.9 225.8 887.9 227.5 889.3 229.0C890.7 230.5 892.6 232.4 894.0 233.8C895.4 235.2 896.4 235.8 897.6 237.4C898.8 239.0 900.1 241.6 901.2 243.4C902.3 245.2 903.1 247.2 904.0 248.5C904.9 249.8 905.8 251.4 906.7 251.3C907.7 251.2 908.6 249.6 909.7 248.1C910.8 246.6 912.3 243.4 913.3 242.2C914.3 241.0 914.7 240.6 915.7 241.0C916.7 241.4 918.1 242.5 919.3 244.5C920.5 246.5 921.6 249.9 922.8 252.9C924.0 255.9 925.2 260.2 926.4 262.5C927.6 264.8 928.8 265.9 930.0 266.6C931.2 267.3 932.4 267.5 933.6 266.6C934.8 265.7 936.0 263.4 937.2 261.3C938.4 259.2 939.5 255.9 940.7 254.1C941.9 252.3 943.1 251.2 944.3 250.5C945.5 249.8 946.5 249.5 947.9 249.9C949.3 250.3 951.1 251.6 952.7 252.9C954.3 254.2 955.9 256.1 957.5 257.7C959.1 259.3 960.6 261.1 962.2 262.5C963.8 263.9 965.4 264.8 967.0 266.0C968.6 267.2 970.2 268.4 971.8 269.6C973.4 270.8 975.0 272.2 976.6 273.2C978.2 274.2 979.7 274.3 981.3 275.6C982.9 276.9 984.2 278.6 986.0 281.0C987.8 283.4 990.0 286.8 992.0 290.0C994.0 293.2 996.2 297.0 998.0 300.0C999.8 303.0 1001.4 305.6 1003.0 308.0C1004.6 310.4 1006.8 313.6 1007.6 314.7" stroke="#1878d8"/>
<path d="M30.9 226.5C31.3 225.7 32.6 223.2 33.4 221.8C34.2 220.4 34.9 219.1 35.6 217.9C36.3 216.7 37.1 215.7 37.8 214.7C38.5 213.7 39.2 212.8 40.0 212.0C40.8 211.2 41.5 210.5 42.3 209.8C43.1 209.1 44.1 208.5 45.0 208.0C45.9 207.5 46.8 207.0 47.7 206.6C48.6 206.2 49.5 205.9 50.4 205.5C51.3 205.1 52.1 204.8 53.0 204.4C53.9 204.0 54.8 203.4 55.7 202.9C56.6 202.4 57.5 201.8 58.4 201.3C59.3 200.9 60.1 200.5 61.0 200.2C61.9 199.9 63.0 199.6 63.8 199.5C64.6 199.4 65.0 199.5 65.6 199.7C66.2 199.8 66.7 200.0 67.4 200.4C68.1 200.8 68.9 201.3 69.6 201.9C70.3 202.5 71.1 203.1 71.8 203.9C72.5 204.7 73.2 205.8 74.0 206.8C74.8 207.9 75.5 209.1 76.3 210.2C77.0 211.3 77.8 212.4 78.5 213.6C79.2 214.8 80.0 215.9 80.8 217.4C81.6 218.9 82.8 221.2 83.5 222.7C84.2 224.2 84.2 224.8 85.0 226.6C85.8 228.4 87.3 231.2 88.5 233.5C89.7 235.8 91.2 238.5 92.2 240.6C93.2 242.7 93.7 244.2 94.4 246.0C95.1 247.8 95.8 249.8 96.6 251.5C97.4 253.2 98.1 254.8 99.0 256.4C99.9 257.9 101.0 259.5 102.0 260.8C103.0 262.1 104.0 263.2 105.0 264.2C106.0 265.2 107.2 266.0 108.3 266.6C109.4 267.2 110.3 267.5 111.5 267.9C112.7 268.3 113.9 268.4 115.4 268.9C117.0 269.3 119.3 270.2 120.8 270.6C122.3 271.0 123.2 271.2 124.4 271.0C125.6 270.8 126.9 270.0 127.9 269.2C128.9 268.4 129.6 267.2 130.5 266.2C131.4 265.2 132.4 264.1 133.3 263.0C134.2 261.9 135.1 260.9 136.0 259.8C136.9 258.7 137.9 257.7 138.7 256.6C139.4 255.6 139.9 254.6 140.5 253.5C141.1 252.4 141.4 251.0 142.2 249.8C142.9 248.6 144.1 247.4 145.0 246.5C145.9 245.6 146.8 245.1 147.6 244.5C148.4 243.9 149.2 243.1 150.0 242.7C150.8 242.2 151.0 242.2 152.1 241.8C153.2 241.4 155.0 241.1 156.6 240.5C158.2 239.9 160.4 239.2 161.9 238.3C163.4 237.4 164.3 236.2 165.5 235.0C166.7 233.8 167.6 232.8 169.1 231.1C170.6 229.4 172.8 225.9 174.4 224.8C176.0 223.8 177.4 225.6 178.9 224.8C180.4 224.0 182.0 221.3 183.5 219.8C185.0 218.3 186.6 216.8 187.9 215.6C189.2 214.4 190.3 213.5 191.5 212.6C192.7 211.7 193.9 210.9 195.0 210.2C196.1 209.5 197.0 209.0 198.0 208.6C199.0 208.2 200.0 207.9 200.9 207.9C201.8 207.9 202.7 208.0 203.5 208.4C204.3 208.8 205.1 209.4 205.8 210.2C206.6 211.0 207.2 212.0 208.0 213.2C208.8 214.4 209.6 215.8 210.3 217.3C211.1 218.9 211.8 220.6 212.5 222.5C213.2 224.4 214.0 226.9 214.7 228.9C215.4 230.9 215.9 232.6 216.5 234.5C217.1 236.4 217.7 238.4 218.3 240.6C218.9 242.8 219.5 245.3 220.1 247.7C220.7 250.1 221.3 252.6 222.0 255.0C222.7 257.4 223.3 260.1 224.0 262.0C224.7 263.9 225.2 265.8 226.0 266.5C226.8 267.2 227.7 266.7 228.5 266.0C229.3 265.3 230.2 263.6 231.0 262.5C231.8 261.4 232.4 260.4 233.3 259.5C234.2 258.6 235.5 257.5 236.5 256.8C237.5 256.1 238.6 255.4 239.5 255.4C240.4 255.4 241.2 256.1 242.0 256.6C242.8 257.1 243.3 257.7 244.0 258.6C244.7 259.5 245.6 260.8 246.3 261.8C247.1 262.8 247.6 264.1 248.5 264.8C249.4 265.5 250.5 266.2 251.5 266.0C252.5 265.8 253.5 264.8 254.5 263.5C255.5 262.2 256.5 259.9 257.5 258.0C258.5 256.1 259.3 255.2 260.4 252.0C261.5 248.8 262.7 242.8 263.9 238.6C265.1 234.4 266.3 229.5 267.5 226.9C268.7 224.3 270.1 223.7 271.1 222.9C272.1 222.2 272.6 222.4 273.3 222.4C274.1 222.4 274.5 222.0 275.6 222.9C276.7 223.8 278.5 225.9 280.0 227.8C281.5 229.7 283.0 232.4 284.5 234.1C286.0 235.8 287.4 236.9 289.0 238.1C290.6 239.3 292.6 240.0 294.4 241.3C296.2 242.6 297.9 244.3 299.7 245.7C301.5 247.1 303.3 248.9 305.1 249.8C306.9 250.7 308.4 251.5 310.5 251.1C312.6 250.7 315.8 248.5 317.6 247.5C319.4 246.5 320.3 245.8 321.5 245.3C322.7 244.9 323.7 244.6 324.8 244.8C325.9 245.0 327.0 245.6 328.0 246.3C329.0 247.1 329.4 247.3 331.0 249.3C332.6 251.3 335.7 256.0 337.3 258.2C338.9 260.4 339.9 261.8 340.9 262.5C341.8 263.2 342.1 263.2 343.0 262.5C343.9 261.8 345.4 258.9 346.0 258.0C346.6 257.1 346.1 258.4 346.9 256.9C347.6 255.4 349.3 251.3 350.5 248.8C351.7 246.3 352.8 243.8 354.0 241.7C355.2 239.6 356.4 237.7 357.6 236.3C358.8 235.0 360.0 233.9 361.2 233.6C362.4 233.3 363.6 233.8 364.8 234.5C366.0 235.2 367.1 236.4 368.3 238.1C369.5 239.8 370.7 241.9 371.9 244.4C373.1 246.9 374.4 250.5 375.5 253.3C376.6 256.1 377.4 259.0 378.2 261.4C379.0 263.8 379.7 265.7 380.5 267.5C381.3 269.3 382.1 271.6 382.9 272.2C383.6 272.8 383.8 271.8 385.0 271.3C386.2 270.9 388.9 270.2 390.4 269.5C391.9 268.8 392.9 268.3 393.9 266.8C394.9 265.3 395.7 262.7 396.6 260.6C397.5 258.5 398.2 255.7 399.3 254.3C400.4 253.0 401.4 253.0 402.9 252.5C404.4 252.0 406.5 251.6 408.3 251.2C410.1 250.8 412.1 250.5 413.6 249.8C415.1 249.1 416.1 248.4 417.2 247.2C418.2 246.0 419.1 244.1 419.9 242.7C420.6 241.3 420.9 241.1 421.7 239.0C422.4 236.9 423.5 232.7 424.4 230.0C425.3 227.3 425.9 224.7 427.0 222.9C428.1 221.1 429.9 219.6 431.1 219.3C432.3 219.0 433.2 220.1 434.2 221.1C435.2 222.1 436.0 223.9 436.9 225.6C437.8 227.3 438.4 228.7 439.3 231.3C440.2 233.9 441.1 237.5 442.0 241.1C442.9 244.7 443.8 249.4 444.7 252.7C445.6 256.0 446.5 258.7 447.4 260.8C448.3 262.9 449.1 264.4 450.0 265.3C450.9 266.2 451.7 266.1 452.7 266.3C453.7 266.5 454.8 266.1 456.0 266.3C457.2 266.5 458.5 266.9 460.0 267.3C461.5 267.7 463.3 268.3 465.0 268.8C466.7 269.3 468.7 269.7 470.1 270.5C471.6 271.3 472.2 272.6 473.7 273.6C475.2 274.6 477.2 276.1 479.0 276.3C480.8 276.5 482.9 275.6 484.4 274.9C485.9 274.1 486.9 273.6 488.0 271.8C489.1 270.1 490.2 266.9 491.2 264.4C492.2 261.9 493.1 259.1 494.0 257.0C494.9 254.9 495.4 253.1 496.6 251.8C497.8 250.5 499.5 250.4 501.0 249.2C502.5 248.0 504.0 246.3 505.5 244.7C507.0 243.0 508.5 240.8 510.0 239.3C511.5 237.8 513.1 236.4 514.4 235.7C515.6 234.9 516.4 235.1 517.5 234.8C518.6 234.5 519.8 233.8 521.1 233.8C522.5 233.8 524.2 234.1 525.6 234.7C527.0 235.3 528.1 236.7 529.2 237.4C530.4 238.1 531.5 238.7 532.5 238.8C533.5 239.0 534.3 239.6 535.4 238.3C536.5 237.0 538.0 232.8 539.0 231.1C540.0 229.4 540.8 228.7 541.5 228.0C542.2 227.3 542.6 226.9 543.5 227.1C544.4 227.3 546.0 228.2 547.0 229.3C548.0 230.4 548.8 232.3 549.7 233.8C550.6 235.3 551.7 236.9 552.4 238.3C553.1 239.7 553.1 240.6 554.0 242.0C554.9 243.4 556.4 245.9 557.8 246.5C559.2 247.1 560.8 245.9 562.2 245.4C563.6 244.9 564.5 244.2 566.0 243.5C567.5 242.8 569.0 242.2 571.0 241.5C573.0 240.8 575.9 240.2 578.3 239.5C580.7 238.8 583.4 238.1 585.5 237.6C587.6 237.1 589.4 236.9 590.9 236.5C592.4 236.1 593.4 234.2 594.4 235.0C595.4 235.8 595.7 239.6 596.9 241.2C598.1 242.8 599.9 243.8 601.4 244.5C602.9 245.2 604.2 245.7 605.9 245.4C607.5 245.1 609.5 243.5 611.3 242.7C613.1 241.9 614.8 240.7 616.6 240.5C618.4 240.3 620.2 240.9 622.0 241.4C623.8 241.9 625.6 243.1 627.4 243.6C629.2 244.1 630.9 244.4 632.7 244.5C634.5 244.6 636.3 244.2 638.1 244.1C639.9 243.9 641.7 243.4 643.5 243.6C645.3 243.8 647.0 244.8 648.8 245.4C650.6 246.0 652.4 246.7 654.2 247.2C656.0 247.7 657.8 248.1 659.6 248.5C661.4 248.9 663.1 249.1 664.9 249.4C666.7 249.7 668.2 249.9 670.3 250.3C672.4 250.7 675.5 250.8 677.4 251.7C679.3 252.5 679.6 254.3 681.9 255.4C684.1 256.5 688.2 257.2 690.9 258.1C693.6 259.0 695.9 260.0 698.0 260.6C700.1 261.2 701.6 261.3 703.4 261.5C705.2 261.7 707.3 261.4 708.8 262.0C710.3 262.6 711.0 263.8 712.4 264.8C713.8 265.8 715.4 267.1 717.0 268.0C718.6 268.9 720.3 270.1 722.0 270.5C723.7 270.9 725.5 270.7 727.0 270.5C728.5 270.3 729.7 269.1 731.0 269.3C732.3 269.6 733.8 270.8 735.0 272.0C736.2 273.2 737.1 274.9 738.3 276.5C739.5 278.1 740.7 280.1 742.0 281.3C743.3 282.5 744.7 283.3 746.0 283.6C747.3 283.9 748.7 283.4 750.0 283.0C751.3 282.6 752.7 281.5 754.0 281.3C755.3 281.1 756.6 281.4 758.0 282.0C759.4 282.6 761.4 284.1 762.4 284.8C763.4 285.5 763.4 286.2 764.3 286.0C765.1 285.8 766.5 284.9 767.5 283.5C768.5 282.1 769.3 279.4 770.2 277.5C771.1 275.6 772.0 273.4 773.0 272.0C774.0 270.6 775.3 270.1 776.5 269.3C777.7 268.5 778.8 267.7 780.0 267.0C781.2 266.3 782.3 265.5 783.5 265.3C784.7 265.1 785.8 265.4 787.0 265.6C788.2 265.8 789.3 266.6 790.5 266.3C791.7 266.0 792.9 265.1 794.0 264.0C795.1 262.9 796.0 260.9 797.0 260.0C798.0 259.1 799.0 258.7 800.0 258.5C801.0 258.3 801.7 257.6 802.7 258.8C803.8 260.0 805.2 263.9 806.3 265.7C807.3 267.4 808.1 268.5 809.0 269.3C809.9 270.1 810.7 270.3 811.7 270.7C812.7 271.1 814.2 271.9 815.2 271.5C816.2 271.1 817.0 269.9 817.9 268.4C818.8 266.8 819.8 264.3 820.6 262.2C821.5 260.1 822.1 258.1 823.0 256.0C823.9 253.9 824.8 251.5 826.0 249.5C827.2 247.5 828.6 245.7 830.0 244.0C831.4 242.3 833.2 241.1 834.5 239.5C835.8 237.9 837.1 235.9 838.0 234.5C838.9 233.1 839.0 233.4 840.1 231.3C841.2 229.2 843.4 224.3 844.8 221.7C846.2 219.1 847.2 217.0 848.4 215.7C849.6 214.4 850.6 213.4 852.0 214.0C853.4 214.6 855.4 216.8 856.8 219.3C858.2 221.8 859.2 225.9 860.4 228.9C861.6 231.9 862.6 235.0 863.9 237.2C865.2 239.4 867.1 241.3 868.0 242.0C868.9 242.7 868.2 242.2 869.0 241.6C869.8 241.0 871.3 240.1 872.5 238.6C873.7 237.1 874.9 234.8 876.1 232.6C877.3 230.4 878.5 227.7 879.7 225.5C880.9 223.3 882.1 220.9 883.3 219.5C884.5 218.1 885.8 217.3 886.9 217.1C888.0 216.9 889.0 217.6 890.0 218.5C891.0 219.4 891.9 220.9 893.0 222.5C894.1 224.1 895.2 226.0 896.4 227.8C897.6 229.6 898.9 232.0 900.0 233.5C901.1 235.0 901.8 236.3 903.0 237.0C904.2 237.7 905.6 237.4 907.3 237.6C909.0 237.8 911.7 237.4 913.3 238.0C914.9 238.6 915.5 239.7 916.9 241.0C918.3 242.3 920.0 244.4 921.6 245.7C923.2 247.0 924.6 248.0 926.4 248.7C928.2 249.4 930.4 249.7 932.4 249.9C934.4 250.1 936.6 249.5 938.4 249.9C940.2 250.3 941.5 251.0 943.1 252.3C944.7 253.6 946.3 256.2 947.9 257.7C949.5 259.2 951.1 260.7 952.7 261.3C954.3 261.9 956.0 261.6 957.5 261.3C959.0 261.0 960.4 259.7 962.0 259.5C963.6 259.3 965.3 259.4 967.0 260.0C968.7 260.6 970.2 261.7 972.0 263.0C973.8 264.3 976.0 266.2 978.0 268.0C980.0 269.8 981.9 272.0 984.0 274.0C986.1 276.0 988.6 278.2 990.6 280.0C992.6 281.8 994.3 283.3 996.0 285.0C997.7 286.7 999.6 288.4 1001.0 290.0C1002.4 291.6 1003.4 292.9 1004.5 294.5C1005.6 296.1 1007.1 298.6 1007.6 299.4" stroke="#a5621e"/>
<path d="M30.9 231.5C31.3 230.0 32.5 225.2 33.4 222.7C34.3 220.2 35.5 218.3 36.5 216.4C37.5 214.5 38.6 212.9 39.6 211.1C40.6 209.3 41.8 207.4 42.8 205.8C43.8 204.2 44.9 202.6 45.9 201.3C46.9 200.0 47.7 198.9 48.6 197.8C49.5 196.8 50.4 195.8 51.3 195.0C52.2 194.2 53.1 193.6 54.0 193.1C54.9 192.6 55.8 192.1 56.6 191.9C57.4 191.7 58.2 191.6 59.0 191.7C59.8 191.8 60.4 192.1 61.1 192.3C61.8 192.6 62.6 192.8 63.4 193.2C64.1 193.6 64.9 194.0 65.6 194.5C66.3 195.0 67.1 195.5 67.8 196.1C68.5 196.7 69.1 197.2 70.0 198.1C70.9 199.0 72.0 200.2 73.0 201.5C74.0 202.8 75.1 204.1 76.3 205.7C77.5 207.3 78.8 209.4 80.0 211.3C81.2 213.2 82.3 215.2 83.5 217.4C84.7 219.6 85.8 221.8 87.0 224.5C88.2 227.2 89.7 230.4 91.0 233.5C92.3 236.6 93.7 239.8 95.0 243.0C96.3 246.2 97.7 249.6 99.0 252.5C100.3 255.4 101.7 258.8 102.9 260.6C104.2 262.4 105.3 262.7 106.5 263.5C107.7 264.3 108.8 265.1 110.0 265.5C111.2 265.9 112.3 266.1 113.5 266.2C114.7 266.3 116.0 266.5 117.2 266.4C118.5 266.3 119.8 266.1 121.0 265.8C122.2 265.5 123.2 265.2 124.4 264.6C125.6 264.0 126.8 263.0 128.0 262.0C129.2 261.0 130.3 259.9 131.5 258.8C132.7 257.7 133.8 256.6 135.0 255.6C136.2 254.5 137.4 253.4 138.7 252.5C140.0 251.6 141.5 250.7 143.0 249.9C144.5 249.2 146.1 248.6 147.6 248.0C149.1 247.4 150.5 246.9 152.0 246.4C153.5 245.9 155.4 245.4 156.6 244.9C157.8 244.4 158.1 244.2 159.0 243.5C159.9 242.8 160.8 242.1 161.9 241.0C163.0 239.9 164.3 238.2 165.5 236.8C166.7 235.4 167.6 234.2 169.1 232.6C170.6 230.9 172.8 228.3 174.4 226.9C176.0 225.5 177.4 225.0 178.9 224.0C180.4 223.0 182.0 221.8 183.5 220.8C185.0 219.8 186.4 218.7 187.9 217.8C189.4 216.9 191.0 215.9 192.5 215.2C194.0 214.4 195.6 213.7 196.8 213.3C198.0 212.9 198.6 212.8 199.5 212.7C200.4 212.6 201.1 212.3 202.2 212.8C203.2 213.3 204.6 214.0 205.8 215.5C207.0 217.0 208.2 219.1 209.4 221.8C210.6 224.5 211.8 228.3 212.9 231.6C214.0 234.9 215.2 238.6 216.1 241.5C216.9 244.4 217.3 246.6 218.0 249.0C218.7 251.4 219.3 253.9 220.0 256.0C220.7 258.1 221.2 259.9 222.0 261.5C222.8 263.1 223.7 264.4 224.5 265.5C225.3 266.6 226.2 267.7 227.0 267.8C227.8 267.9 228.6 267.0 229.5 266.2C230.4 265.4 231.5 263.7 232.4 262.8C233.3 261.9 234.1 261.5 235.0 261.0C235.9 260.5 236.9 260.1 237.7 260.0C238.5 259.9 239.2 260.0 240.0 260.2C240.8 260.4 241.4 260.5 242.2 261.0C243.0 261.5 244.1 262.3 245.0 263.0C245.9 263.7 246.6 264.6 247.6 265.2C248.6 265.8 250.2 266.8 251.1 266.8C252.0 266.8 252.3 266.1 253.0 265.0C253.7 263.9 254.2 262.5 255.0 260.5C255.8 258.5 257.0 255.4 258.0 253.0C259.0 250.6 260.0 248.2 261.0 246.0C262.0 243.8 263.0 241.4 264.0 239.5C265.0 237.6 266.0 235.6 267.0 234.5C268.0 233.4 268.8 232.7 270.2 232.8C271.6 232.9 273.7 233.6 275.6 235.0C277.5 236.4 279.6 239.7 281.8 241.3C284.0 242.9 286.9 243.8 289.0 244.8C291.1 245.8 292.6 246.2 294.4 247.5C296.2 248.8 297.9 251.1 299.7 252.9C301.5 254.7 303.6 257.6 305.1 258.2C306.6 258.8 307.2 257.5 308.7 256.5C310.2 255.5 312.2 253.3 314.0 252.0C315.8 250.7 317.6 249.3 319.4 248.4C321.2 247.5 322.9 246.8 324.8 246.6C326.7 246.4 328.9 246.9 331.0 247.5C333.1 248.1 335.1 249.4 337.3 250.2C339.5 250.9 342.5 251.8 344.4 252.0C346.3 252.2 347.1 252.2 348.7 251.5C350.3 250.8 352.2 249.1 354.0 247.9C355.8 246.7 357.6 245.6 359.4 244.4C361.2 243.2 363.2 241.9 364.8 240.8C366.4 239.8 367.9 238.6 369.2 238.1C370.5 237.6 371.6 237.6 372.8 238.1C374.0 238.6 375.0 239.6 376.4 240.8C377.8 242.0 379.6 243.7 380.9 245.3C382.2 246.9 383.1 248.6 384.4 250.5C385.7 252.4 387.3 255.8 388.6 257.0C389.9 258.2 391.0 258.2 392.2 257.9C393.4 257.6 394.5 256.4 395.7 255.2C396.9 254.0 398.1 251.8 399.3 250.7C400.5 249.6 401.4 248.9 402.9 248.5C404.4 248.1 406.7 248.3 408.3 248.0C409.9 247.7 411.7 247.4 412.7 246.5C413.7 245.6 413.6 244.3 414.5 242.6C415.4 240.9 416.9 237.7 418.1 236.3C419.3 235.0 420.5 234.5 421.7 234.5C422.9 234.5 424.1 235.2 425.3 236.3C426.5 237.4 427.5 239.2 428.6 241.1C429.8 242.9 431.0 245.5 432.2 247.4C433.4 249.3 434.4 251.4 435.7 252.7C437.0 254.0 438.7 254.9 440.2 255.4C441.7 255.9 443.2 254.9 444.7 255.4C446.2 255.9 447.9 256.9 449.2 258.1C450.5 259.3 451.4 261.3 452.7 262.6C454.0 263.9 455.5 265.4 457.2 266.1C458.9 266.8 460.8 267.0 462.6 267.0C464.4 267.0 466.3 266.5 467.9 266.1C469.5 265.7 470.9 264.8 472.4 264.4C473.9 264.0 475.3 263.5 476.9 263.5C478.5 263.5 480.4 264.1 482.2 264.4C484.0 264.7 485.8 265.4 487.6 265.3C489.4 265.2 491.4 264.2 493.0 263.5C494.6 262.8 495.9 261.7 497.4 260.8C498.9 259.9 500.4 259.2 501.9 258.1C503.4 257.1 504.9 255.8 506.4 254.5C507.9 253.2 509.6 251.3 510.9 250.0C512.2 248.7 513.1 247.3 514.4 246.5C515.6 245.7 517.0 245.3 518.4 245.4C519.8 245.5 521.4 246.4 522.9 247.2C524.4 247.9 525.9 248.8 527.4 249.9C528.9 251.0 530.3 252.5 531.8 253.5C533.3 254.5 534.8 255.2 536.3 255.7C537.8 256.1 539.4 256.4 540.8 256.2C542.1 256.0 543.2 255.3 544.4 254.4C545.6 253.5 546.7 252.0 547.9 250.8C549.1 249.6 550.1 248.4 551.5 247.2C552.9 246.0 554.5 244.4 556.0 243.6C557.5 242.8 558.9 242.6 560.5 242.3C562.1 242.0 564.0 242.0 565.8 241.8C567.6 241.6 569.4 241.1 571.2 240.9C573.0 240.7 575.0 240.3 576.6 240.5C578.2 240.7 579.7 241.1 581.0 241.8C582.3 242.5 583.4 243.6 584.6 244.5C585.8 245.4 587.0 246.4 588.2 247.2C589.4 247.9 590.8 248.6 591.8 249.0C592.8 249.4 593.5 249.1 594.4 249.4C595.2 249.7 595.7 251.0 596.9 250.8C598.1 250.6 599.9 249.2 601.4 248.1C602.9 247.0 604.2 245.6 605.9 244.5C607.5 243.4 609.5 242.4 611.3 241.8C613.1 241.2 614.8 240.8 616.6 240.9C618.4 241.1 620.4 241.9 622.0 242.7C623.6 243.4 625.0 244.6 626.5 245.4C628.0 246.2 629.4 247.1 630.9 247.6C632.4 248.1 634.0 248.7 635.4 248.5C636.8 248.3 637.8 247.4 639.0 246.3C640.2 245.2 641.4 243.4 642.6 241.8C643.8 240.2 644.9 237.9 646.1 236.5C647.3 235.1 648.5 234.0 649.7 233.3C650.9 232.6 651.9 232.2 653.3 232.4C654.6 232.6 656.5 233.4 657.8 234.2C659.1 235.0 660.1 236.3 661.3 237.4C662.5 238.5 663.7 239.9 664.9 240.9C666.1 241.9 667.1 242.7 668.5 243.6C669.9 244.5 671.5 245.4 673.0 246.3C674.5 247.2 675.9 248.4 677.4 249.0C678.9 249.6 680.4 249.5 681.9 250.0C683.4 250.5 684.9 250.8 686.4 251.8C687.9 252.9 689.5 254.7 690.9 256.3C692.2 257.9 693.3 260.2 694.5 261.7C695.7 263.2 696.8 264.7 698.0 265.3C699.2 265.9 700.4 266.1 701.6 265.3C702.8 264.6 704.0 262.4 705.2 260.8C706.4 259.2 707.6 256.8 708.8 255.4C710.0 254.0 711.2 253.0 712.4 252.3C713.6 251.6 714.7 251.3 715.9 251.4C717.1 251.5 718.1 252.3 719.5 252.7C720.9 253.1 722.5 253.5 724.0 253.6C725.5 253.7 727.2 253.2 728.5 253.2C729.8 253.2 730.8 253.3 732.0 253.6C733.2 253.9 734.4 254.3 735.6 255.2C736.8 256.1 738.0 257.7 739.2 259.2C740.4 260.7 741.6 262.7 742.8 264.3C744.0 265.9 745.0 267.2 746.3 268.8C747.6 270.4 749.3 272.2 750.8 273.8C752.3 275.4 754.0 277.1 755.3 278.3C756.6 279.5 757.5 280.2 758.5 281.0C759.5 281.8 760.7 282.7 761.5 283.2C762.3 283.7 762.5 284.2 763.4 283.8C764.3 283.4 765.7 282.1 766.9 280.9C768.1 279.7 769.1 277.8 770.5 276.5C771.9 275.2 773.5 273.9 775.0 272.9C776.5 271.8 778.0 271.1 779.5 270.2C781.0 269.3 782.4 268.4 783.9 267.5C785.4 266.6 787.0 265.7 788.4 264.8C789.8 263.9 790.8 263.6 792.3 262.0C793.8 260.4 795.5 258.0 797.1 255.1C798.7 252.2 800.3 247.6 801.9 244.4C803.5 241.2 805.0 238.1 806.6 236.0C808.2 233.9 809.8 232.8 811.4 231.9C813.0 231.0 814.4 230.7 816.2 230.7C818.0 230.7 820.4 231.0 822.2 231.9C824.0 232.8 825.3 234.3 826.9 236.0C828.5 237.7 830.1 239.8 831.7 242.0C833.3 244.2 834.9 247.0 836.5 249.2C838.1 251.4 839.7 253.5 841.3 255.1C842.9 256.7 844.4 258.0 846.0 258.7C847.6 259.4 849.4 259.9 850.8 259.3C852.2 258.7 853.2 257.4 854.4 255.1C855.6 252.8 856.8 249.2 858.0 245.6C859.2 242.0 860.4 237.4 861.6 233.6C862.8 229.8 864.0 225.7 865.1 222.9C866.2 220.1 867.4 218.3 868.0 216.9C868.6 215.5 868.0 215.8 869.0 214.7C870.0 213.6 871.7 211.4 873.7 210.5C875.7 209.6 878.3 209.6 880.9 209.3C883.5 209.0 886.7 208.7 889.3 208.5C891.9 208.3 894.6 207.9 896.4 208.1C898.2 208.3 898.8 209.0 900.0 209.9C901.2 210.8 902.2 212.3 903.6 213.5C905.0 214.7 906.8 216.2 908.4 217.1C910.0 218.0 911.3 218.4 913.1 218.9C914.9 219.4 917.3 219.4 919.1 220.1C920.9 220.8 922.5 222.0 923.9 223.1C925.3 224.2 926.3 225.2 927.5 226.6C928.7 228.0 929.6 230.0 931.0 231.4C932.4 232.8 934.0 233.6 935.8 235.0C937.6 236.4 939.8 238.2 941.8 239.8C943.8 241.4 945.9 243.2 947.7 244.6C949.5 246.0 950.7 246.7 952.7 248.1C954.7 249.5 957.4 251.3 959.8 252.9C962.2 254.5 964.6 256.1 967.0 257.7C969.4 259.3 971.5 260.9 974.2 262.5C976.9 264.1 980.3 265.4 983.0 267.2C985.7 269.0 988.1 271.0 990.6 273.5C993.1 276.0 996.0 279.3 998.2 282.0C1000.4 284.7 1002.2 287.5 1003.8 289.5C1005.4 291.5 1007.0 293.2 1007.6 294.0" stroke="#1c9a9a"/>
</g>
<rect x="30.7" y="40.2" width="978.5" height="3.2" fill="#c4c4c4"/>
<rect x="30.7" y="42.0" width="978.5" height="1.4" fill="#b2b2b2"/>
<rect x="30.7" y="44.8" width="976.9" height="1.9" fill="#8c8c8c"/>
<rect x="30.1" y="44.8" width="1.5" height="366.1" fill="#a2a2a2"/>
<rect x="30.1" y="409.6" width="978.1" height="1.5" fill="#8e8e8e"/>
<rect x="1008.4" y="40.6" width="1.5" height="370.2" fill="#cdcdcd"/>
<rect x="1007.1" y="44.8" width="1.15" height="368.0" fill="#484848"/>
<text x="512.2" y="22.0" font-size="17.1" text-anchor="middle" fill="#141414">Mesures après calibrage</text>
<text x="520.3" y="59.7" font-size="16" font-weight="bold" letter-spacing="0.72" text-anchor="middle" fill="#4a4a4a">All SPL</text>
<text transform="translate(19.7 38.4) scale(0.945 1)" font-size="9.2" text-anchor="middle" fill="#1e1e1e" stroke="#1e1e1e" stroke-width="0.08">SPL</text>
<text transform="translate(27.9 410.1) scale(0.900 1)" font-size="9.2" text-anchor="end" fill="#161616" letter-spacing="0.85" stroke="#161616" stroke-width="0.08">50</text>
<text transform="translate(27.9 376.7) scale(0.900 1)" font-size="9.2" text-anchor="end" fill="#161616" letter-spacing="0.85" stroke="#161616" stroke-width="0.08">55</text>
<text transform="translate(27.9 343.4) scale(0.900 1)" font-size="9.2" text-anchor="end" fill="#161616" letter-spacing="0.85" stroke="#161616" stroke-width="0.08">60</text>
<text transform="translate(27.9 310.0) scale(0.900 1)" font-size="9.2" text-anchor="end" fill="#161616" letter-spacing="0.85" stroke="#161616" stroke-width="0.08">65</text>
<text transform="translate(27.9 276.7) scale(0.900 1)" font-size="9.2" text-anchor="end" fill="#161616" letter-spacing="0.85" stroke="#161616" stroke-width="0.08">70</text>
<text transform="translate(27.9 243.3) scale(0.900 1)" font-size="9.2" text-anchor="end" fill="#161616" letter-spacing="0.85" stroke="#161616" stroke-width="0.08">75</text>
<text transform="translate(27.9 210.0) scale(0.900 1)" font-size="9.2" text-anchor="end" fill="#161616" letter-spacing="0.85" stroke="#161616" stroke-width="0.08">80</text>
<text transform="translate(27.9 176.6) scale(0.900 1)" font-size="9.2" text-anchor="end" fill="#161616" letter-spacing="0.85" stroke="#161616" stroke-width="0.08">85</text>
<text transform="translate(27.9 143.3) scale(0.900 1)" font-size="9.2" text-anchor="end" fill="#161616" letter-spacing="0.85" stroke="#161616" stroke-width="0.08">90</text>
<text transform="translate(27.9 109.9) scale(0.900 1)" font-size="9.2" text-anchor="end" fill="#161616" letter-spacing="0.85" stroke="#161616" stroke-width="0.08">95</text>
<text transform="translate(27.9 76.6) scale(0.900 1)" font-size="9.2" text-anchor="end" fill="#161616" letter-spacing="0.85" stroke="#161616" stroke-width="0.08">100</text>
<rect x="4.6" y="40.5" width="26.2" height="11.0" fill="#ffffff" stroke="#2a2aff" stroke-width="1.1"/>
<text transform="translate(17.8 49.4) scale(0.945 1)" font-size="9.2" text-anchor="middle" fill="#2222ff" stroke="#2222ff" stroke-width="0.15">104,0</text>
<text transform="translate(32.4 422.2) scale(0.900 1)" font-size="9.2" text-anchor="middle" fill="#161616" letter-spacing="0.85" stroke="#161616" stroke-width="0.08">18</text>
<text transform="translate(47.0 422.2) scale(0.900 1)" font-size="9.2" text-anchor="middle" fill="#161616" letter-spacing="0.85" stroke="#161616" stroke-width="0.08">20</text>
<text transform="translate(103.0 422.2) scale(0.900 1)" font-size="9.2" text-anchor="middle" fill="#161616" letter-spacing="0.85" stroke="#161616" stroke-width="0.08">30</text>
<text transform="translate(142.8 422.2) scale(0.900 1)" font-size="9.2" text-anchor="middle" fill="#161616" letter-spacing="0.85" stroke="#161616" stroke-width="0.08">40</text>
<text transform="translate(173.6 422.2) scale(0.900 1)" font-size="9.2" text-anchor="middle" fill="#161616" letter-spacing="0.85" stroke="#161616" stroke-width="0.08">50</text>
<text transform="translate(198.8 422.2) scale(0.900 1)" font-size="9.2" text-anchor="middle" fill="#161616" letter-spacing="0.85" stroke="#161616" stroke-width="0.08">60</text>
<text transform="translate(220.1 422.2) scale(0.900 1)" font-size="9.2" text-anchor="middle" fill="#161616" letter-spacing="0.85" stroke="#161616" stroke-width="0.08">70</text>
<text transform="translate(238.6 422.2) scale(0.900 1)" font-size="9.2" text-anchor="middle" fill="#161616" letter-spacing="0.85" stroke="#161616" stroke-width="0.08">80</text>
<text transform="translate(269.4 422.2) scale(0.900 1)" font-size="9.2" text-anchor="middle" fill="#161616" letter-spacing="0.85" stroke="#161616" stroke-width="0.08">100</text>
<text transform="translate(365.2 422.2) scale(0.900 1)" font-size="9.2" text-anchor="middle" fill="#161616" letter-spacing="0.85" stroke="#161616" stroke-width="0.08">200</text>
<text transform="translate(421.2 422.2) scale(0.900 1)" font-size="9.2" text-anchor="middle" fill="#161616" letter-spacing="0.85" stroke="#161616" stroke-width="0.08">300</text>
<text transform="translate(461.0 422.2) scale(0.900 1)" font-size="9.2" text-anchor="middle" fill="#161616" letter-spacing="0.85" stroke="#161616" stroke-width="0.08">400</text>
<text transform="translate(491.8 422.2) scale(0.900 1)" font-size="9.2" text-anchor="middle" fill="#161616" letter-spacing="0.85" stroke="#161616" stroke-width="0.08">500</text>
<text transform="translate(517.0 422.2) scale(0.900 1)" font-size="9.2" text-anchor="middle" fill="#161616" letter-spacing="0.85" stroke="#161616" stroke-width="0.08">600</text>
<text transform="translate(538.4 422.2) scale(0.900 1)" font-size="9.2" text-anchor="middle" fill="#161616" letter-spacing="0.85" stroke="#161616" stroke-width="0.08">700</text>
<text transform="translate(573.8 422.2) scale(0.900 1)" font-size="9.2" text-anchor="middle" fill="#161616" letter-spacing="0.85" stroke="#161616" stroke-width="0.08">900</text>
<text transform="translate(588.7 422.2) scale(0.900 1)" font-size="9.2" text-anchor="middle" fill="#161616" letter-spacing="0.85" stroke="#161616" stroke-width="0.08">1k</text>
<text transform="translate(683.5 422.2) scale(0.900 1)" font-size="9.2" text-anchor="middle" fill="#161616" letter-spacing="0.85" stroke="#161616" stroke-width="0.08">2k</text>
<text transform="translate(739.5 422.2) scale(0.900 1)" font-size="9.2" text-anchor="middle" fill="#161616" letter-spacing="0.85" stroke="#161616" stroke-width="0.08">3k</text>
<text transform="translate(779.3 422.2) scale(0.900 1)" font-size="9.2" text-anchor="middle" fill="#161616" letter-spacing="0.85" stroke="#161616" stroke-width="0.08">4k</text>
<text transform="translate(810.1 422.2) scale(0.900 1)" font-size="9.2" text-anchor="middle" fill="#161616" letter-spacing="0.85" stroke="#161616" stroke-width="0.08">5k</text>
<text transform="translate(835.3 422.2) scale(0.900 1)" font-size="9.2" text-anchor="middle" fill="#161616" letter-spacing="0.85" stroke="#161616" stroke-width="0.08">6k</text>
<text transform="translate(856.6 422.2) scale(0.900 1)" font-size="9.2" text-anchor="middle" fill="#161616" letter-spacing="0.85" stroke="#161616" stroke-width="0.08">7k</text>
<text transform="translate(875.1 422.2) scale(0.900 1)" font-size="9.2" text-anchor="middle" fill="#161616" letter-spacing="0.85" stroke="#161616" stroke-width="0.08">8k</text>
<text transform="translate(891.3 422.2) scale(0.900 1)" font-size="9.2" text-anchor="middle" fill="#161616" letter-spacing="0.85" stroke="#161616" stroke-width="0.08">9k</text>
<text transform="translate(906.9 422.2) scale(0.900 1)" font-size="9.2" text-anchor="middle" fill="#161616" letter-spacing="0.85" stroke="#161616" stroke-width="0.08">10k</text>
<text transform="translate(931.1 422.2) scale(0.900 1)" font-size="9.2" text-anchor="middle" fill="#a6a6a6" letter-spacing="0.85" stroke="#a6a6a6" stroke-width="0.05">12k</text>
<text transform="translate(952.4 422.2) scale(0.900 1)" font-size="9.2" text-anchor="middle" fill="#a6a6a6" letter-spacing="0.85" stroke="#a6a6a6" stroke-width="0.05">14k</text>
<text transform="translate(979.2 422.2) scale(0.900 1)" font-size="9.2" text-anchor="middle" fill="#a6a6a6" letter-spacing="0.85" stroke="#a6a6a6" stroke-width="0.05">17k</text>
<rect x="994.4" y="412.6" width="24.4" height="11.6" fill="#ffffff" stroke="#2a2aff" stroke-width="1.1"/>
<text transform="translate(1007.0 422.2) scale(0.945 1)" font-size="9.2" text-anchor="middle" fill="#2222ff" stroke="#2222ff" stroke-width="0.15">20,8k</text>
<rect x="5.7" y="436.6" width="8.9" height="8.7" rx="1.6" fill="url(#cbg)" stroke="#707070" stroke-width="1.1"/>
<path d="M7.5 440.1 l2.2 3.0 l3.3 -6.5" fill="none" stroke="#111111" stroke-width="1.55"/>
<text transform="translate(19.8 444.2) scale(0.945 1)" font-size="9.2" text-anchor="start" fill="#5c5ce0">1: Target août 14 18:08</text>
<line x1="157.2" y1="441.4" x2="195.6" y2="441.4" stroke="#5c5ce0" stroke-width="1.3"/>
<rect x="165.8" y="435.9" width="21.6" height="10.9" rx="2.8" fill="#ffffff" stroke="#5c5ce0" stroke-width="1.45"/>
<path d="M171.2 439.6 l1.9 -1.7 v6.6" fill="none" stroke="#1a1a1a" stroke-width="1.05" stroke-linejoin="miter"/>
<line x1="174.8" y1="445.8" x2="180.0" y2="437.0" stroke="#1a1a1a" stroke-width="1.0"/>
<text x="179.3" y="445.8" font-size="6.6" fill="#1a1a1a" stroke="#1a1a1a" stroke-width="0.15">6</text>
<text transform="translate(225.9 444.2) scale(0.945 1)" font-size="9.2" text-anchor="start" fill="#5c5ce0">75,0 dB</text>
<rect x="281.6" y="436.6" width="8.9" height="8.7" rx="1.6" fill="url(#cbg)" stroke="#707070" stroke-width="1.1"/>
<path d="M283.5 440.1 l2.2 3.0 l3.3 -6.5" fill="none" stroke="#111111" stroke-width="1.55"/>
<text transform="translate(295.8 444.2) scale(0.945 1)" font-size="9.2" text-anchor="start" fill="#2b7de0">2: sept. 17</text>
<line x1="433.2" y1="441.4" x2="471.6" y2="441.4" stroke="#2b7de0" stroke-width="1.3"/>
<rect x="441.8" y="435.9" width="21.6" height="10.9" rx="2.8" fill="#ffffff" stroke="#2b7de0" stroke-width="1.45"/>
<path d="M447.2 439.6 l1.9 -1.7 v6.6" fill="none" stroke="#1a1a1a" stroke-width="1.05" stroke-linejoin="miter"/>
<line x1="450.8" y1="445.8" x2="456.0" y2="437.0" stroke="#1a1a1a" stroke-width="1.0"/>
<text x="455.3" y="445.8" font-size="6.6" fill="#1a1a1a" stroke="#1a1a1a" stroke-width="0.15">6</text>
<text transform="translate(501.9 444.2) scale(0.945 1)" font-size="9.2" text-anchor="start" fill="#2b7de0">62,9 dB</text>
<rect x="557.6" y="436.6" width="8.9" height="8.7" rx="1.6" fill="url(#cbg)" stroke="#707070" stroke-width="1.1"/>
<path d="M559.5 440.1 l2.2 3.0 l3.3 -6.5" fill="none" stroke="#111111" stroke-width="1.55"/>
<text transform="translate(571.8 444.2) scale(0.945 1)" font-size="9.2" text-anchor="start" fill="#b9692a">3: sept. 17</text>
<line x1="709.2" y1="441.4" x2="747.6" y2="441.4" stroke="#b9692a" stroke-width="1.3"/>
<rect x="717.8" y="435.9" width="21.6" height="10.9" rx="2.8" fill="#ffffff" stroke="#b9692a" stroke-width="1.45"/>
<path d="M723.2 439.6 l1.9 -1.7 v6.6" fill="none" stroke="#1a1a1a" stroke-width="1.05" stroke-linejoin="miter"/>
<line x1="726.8" y1="445.8" x2="732.0" y2="437.0" stroke="#1a1a1a" stroke-width="1.0"/>
<text x="731.3" y="445.8" font-size="6.6" fill="#1a1a1a" stroke="#1a1a1a" stroke-width="0.15">6</text>
<text transform="translate(777.9 444.2) scale(0.945 1)" font-size="9.2" text-anchor="start" fill="#b9692a">64,9 dB</text>
<rect x="5.7" y="453.8" width="8.9" height="8.7" rx="1.6" fill="url(#cbg)" stroke="#707070" stroke-width="1.1"/>
<path d="M7.5 457.2 l2.2 3.0 l3.3 -6.5" fill="none" stroke="#111111" stroke-width="1.55"/>
<text transform="translate(19.8 461.3) scale(0.945 1)" font-size="9.2" text-anchor="start" fill="#c020c8">4: sept. 17</text>
<line x1="157.2" y1="458.5" x2="195.6" y2="458.5" stroke="#c020c8" stroke-width="1.3"/>
<rect x="165.8" y="453.1" width="21.6" height="10.9" rx="2.8" fill="#ffffff" stroke="#c020c8" stroke-width="1.45"/>
<path d="M171.2 456.7 l1.9 -1.7 v6.6" fill="none" stroke="#1a1a1a" stroke-width="1.05" stroke-linejoin="miter"/>
<line x1="174.8" y1="462.9" x2="180.0" y2="454.1" stroke="#1a1a1a" stroke-width="1.0"/>
<text x="179.3" y="462.9" font-size="6.6" fill="#1a1a1a" stroke="#1a1a1a" stroke-width="0.15">6</text>
<text transform="translate(225.9 461.3) scale(0.945 1)" font-size="9.2" text-anchor="start" fill="#c020c8">69,2 dB</text>
<rect x="281.6" y="453.8" width="8.9" height="8.7" rx="1.6" fill="url(#cbg)" stroke="#707070" stroke-width="1.1"/>
<path d="M283.5 457.2 l2.2 3.0 l3.3 -6.5" fill="none" stroke="#111111" stroke-width="1.55"/>
<text transform="translate(295.8 461.3) scale(0.945 1)" font-size="9.2" text-anchor="start" fill="#c8202c">5: sept. 17</text>
<line x1="433.2" y1="458.5" x2="471.6" y2="458.5" stroke="#c8202c" stroke-width="1.3"/>
<rect x="441.8" y="453.1" width="21.6" height="10.9" rx="2.8" fill="#ffffff" stroke="#c8202c" stroke-width="1.45"/>
<path d="M447.2 456.7 l1.9 -1.7 v6.6" fill="none" stroke="#1a1a1a" stroke-width="1.05" stroke-linejoin="miter"/>
<line x1="450.8" y1="462.9" x2="456.0" y2="454.1" stroke="#1a1a1a" stroke-width="1.0"/>
<text x="455.3" y="462.9" font-size="6.6" fill="#1a1a1a" stroke="#1a1a1a" stroke-width="0.15">6</text>
<text transform="translate(501.9 461.3) scale(0.945 1)" font-size="9.2" text-anchor="start" fill="#c8202c">66,0 dB</text>
<rect x="557.6" y="453.8" width="8.9" height="8.7" rx="1.6" fill="url(#cbg)" stroke="#707070" stroke-width="1.1"/>
<path d="M559.5 457.2 l2.2 3.0 l3.3 -6.5" fill="none" stroke="#111111" stroke-width="1.55"/>
<text transform="translate(571.8 461.3) scale(0.945 1)" font-size="9.2" text-anchor="start" fill="#1c8050">6: sept. 17</text>
<line x1="709.2" y1="458.5" x2="747.6" y2="458.5" stroke="#1c8050" stroke-width="1.3"/>
<rect x="717.8" y="453.1" width="21.6" height="10.9" rx="2.8" fill="#ffffff" stroke="#1c8050" stroke-width="1.45"/>
<path d="M723.2 456.7 l1.9 -1.7 v6.6" fill="none" stroke="#1a1a1a" stroke-width="1.05" stroke-linejoin="miter"/>
<line x1="726.8" y1="462.9" x2="732.0" y2="454.1" stroke="#1a1a1a" stroke-width="1.0"/>
<text x="731.3" y="462.9" font-size="6.6" fill="#1a1a1a" stroke="#1a1a1a" stroke-width="0.15">6</text>
<text transform="translate(777.9 461.3) scale(0.945 1)" font-size="9.2" text-anchor="start" fill="#1c8050">59,8 dB</text>
<rect x="5.7" y="470.9" width="8.9" height="8.7" rx="1.6" fill="url(#cbg)" stroke="#707070" stroke-width="1.1"/>
<path d="M7.5 474.3 l2.2 3.0 l3.3 -6.5" fill="none" stroke="#111111" stroke-width="1.55"/>
<text transform="translate(19.8 478.4) scale(0.945 1)" font-size="9.2" text-anchor="start" fill="#5c5ce0">7: sept. 17</text>
<line x1="157.2" y1="475.6" x2="195.6" y2="475.6" stroke="#5c5ce0" stroke-width="1.3"/>
<rect x="165.8" y="470.2" width="21.6" height="10.9" rx="2.8" fill="#ffffff" stroke="#5c5ce0" stroke-width="1.45"/>
<path d="M171.2 473.8 l1.9 -1.7 v6.6" fill="none" stroke="#1a1a1a" stroke-width="1.05" stroke-linejoin="miter"/>
<line x1="174.8" y1="480.0" x2="180.0" y2="471.2" stroke="#1a1a1a" stroke-width="1.0"/>
<text x="179.3" y="480.0" font-size="6.6" fill="#1a1a1a" stroke="#1a1a1a" stroke-width="0.15">6</text>
<text transform="translate(225.9 478.4) scale(0.945 1)" font-size="9.2" text-anchor="start" fill="#5c5ce0">62,7 dB</text>
<rect x="281.6" y="470.9" width="8.9" height="8.7" rx="1.6" fill="url(#cbg)" stroke="#707070" stroke-width="1.1"/>
<path d="M283.5 474.3 l2.2 3.0 l3.3 -6.5" fill="none" stroke="#111111" stroke-width="1.55"/>
<text transform="translate(295.8 478.4) scale(0.945 1)" font-size="9.2" text-anchor="start" fill="#f08a1c">8: sept. 17</text>
<line x1="433.2" y1="475.6" x2="471.6" y2="475.6" stroke="#f08a1c" stroke-width="1.3"/>
<rect x="441.8" y="470.2" width="21.6" height="10.9" rx="2.8" fill="#ffffff" stroke="#f08a1c" stroke-width="1.45"/>
<path d="M447.2 473.8 l1.9 -1.7 v6.6" fill="none" stroke="#1a1a1a" stroke-width="1.05" stroke-linejoin="miter"/>
<line x1="450.8" y1="480.0" x2="456.0" y2="471.2" stroke="#1a1a1a" stroke-width="1.0"/>
<text x="455.3" y="480.0" font-size="6.6" fill="#1a1a1a" stroke="#1a1a1a" stroke-width="0.15">6</text>
<text transform="translate(501.9 478.4) scale(0.945 1)" font-size="9.2" text-anchor="start" fill="#f08a1c">62,6 dB</text>
<rect x="557.6" y="470.9" width="8.9" height="8.7" rx="1.6" fill="url(#cbg)" stroke="#707070" stroke-width="1.1"/>
<path d="M559.5 474.3 l2.2 3.0 l3.3 -6.5" fill="none" stroke="#111111" stroke-width="1.55"/>
<text transform="translate(571.8 478.4) scale(0.945 1)" font-size="9.2" text-anchor="start" fill="#22ac22">9: sept. 17 12:54:56</text>
<line x1="709.2" y1="475.6" x2="747.6" y2="475.6" stroke="#22ac22" stroke-width="1.3"/>
<rect x="717.8" y="470.2" width="21.6" height="10.9" rx="2.8" fill="#ffffff" stroke="#22ac22" stroke-width="1.45"/>
<path d="M723.2 473.8 l1.9 -1.7 v6.6" fill="none" stroke="#1a1a1a" stroke-width="1.05" stroke-linejoin="miter"/>
<line x1="726.8" y1="480.0" x2="732.0" y2="471.2" stroke="#1a1a1a" stroke-width="1.0"/>
<text x="731.3" y="480.0" font-size="6.6" fill="#1a1a1a" stroke="#1a1a1a" stroke-width="0.15">6</text>
<text transform="translate(777.9 478.4) scale(0.945 1)" font-size="9.2" text-anchor="start" fill="#22ac22">66,0 dB</text>
<rect x="5.7" y="487.9" width="8.9" height="8.7" rx="1.6" fill="url(#cbg)" stroke="#707070" stroke-width="1.1"/>
<path d="M7.5 491.4 l2.2 3.0 l3.3 -6.5" fill="none" stroke="#111111" stroke-width="1.55"/>
<text transform="translate(19.8 495.5) scale(0.945 1)" font-size="9.2" text-anchor="start" fill="#1878d8">10: sept. 17 12:56:07</text>
<line x1="157.2" y1="492.7" x2="195.6" y2="492.7" stroke="#1878d8" stroke-width="1.3"/>
<rect x="165.8" y="487.2" width="21.6" height="10.9" rx="2.8" fill="#ffffff" stroke="#1878d8" stroke-width="1.45"/>
<path d="M171.2 490.9 l1.9 -1.7 v6.6" fill="none" stroke="#1a1a1a" stroke-width="1.05" stroke-linejoin="miter"/>
<line x1="174.8" y1="497.1" x2="180.0" y2="488.3" stroke="#1a1a1a" stroke-width="1.0"/>
<text x="179.3" y="497.1" font-size="6.6" fill="#1a1a1a" stroke="#1a1a1a" stroke-width="0.15">6</text>
<text transform="translate(225.9 495.5) scale(0.945 1)" font-size="9.2" text-anchor="start" fill="#1878d8">63,8 dB</text>
<rect x="281.6" y="487.9" width="8.9" height="8.7" rx="1.6" fill="url(#cbg)" stroke="#707070" stroke-width="1.1"/>
<path d="M283.5 491.4 l2.2 3.0 l3.3 -6.5" fill="none" stroke="#111111" stroke-width="1.55"/>
<text transform="translate(295.8 495.5) scale(0.945 1)" font-size="9.2" text-anchor="start" fill="#a5621e">11: sept. 17 12:56:47</text>
<line x1="433.2" y1="492.7" x2="471.6" y2="492.7" stroke="#a5621e" stroke-width="1.3"/>
<rect x="441.8" y="487.2" width="21.6" height="10.9" rx="2.8" fill="#ffffff" stroke="#a5621e" stroke-width="1.45"/>
<path d="M447.2 490.9 l1.9 -1.7 v6.6" fill="none" stroke="#1a1a1a" stroke-width="1.05" stroke-linejoin="miter"/>
<line x1="450.8" y1="497.1" x2="456.0" y2="488.3" stroke="#1a1a1a" stroke-width="1.0"/>
<text x="455.3" y="497.1" font-size="6.6" fill="#1a1a1a" stroke="#1a1a1a" stroke-width="0.15">6</text>
<text transform="translate(501.9 495.5) scale(0.945 1)" font-size="9.2" text-anchor="start" fill="#a5621e">66,1 dB</text>
<rect x="557.6" y="487.9" width="8.9" height="8.7" rx="1.6" fill="url(#cbg)" stroke="#707070" stroke-width="1.1"/>
<path d="M559.5 491.4 l2.2 3.0 l3.3 -6.5" fill="none" stroke="#111111" stroke-width="1.55"/>
<text transform="translate(571.8 495.5) scale(0.945 1)" font-size="9.2" text-anchor="start" fill="#1c9a9a">12: sept. 17 12:57:33</text>
<line x1="709.2" y1="492.7" x2="747.6" y2="492.7" stroke="#1c9a9a" stroke-width="1.3"/>
<rect x="717.8" y="487.2" width="21.6" height="10.9" rx="2.8" fill="#ffffff" stroke="#1c9a9a" stroke-width="1.45"/>
<path d="M723.2 490.9 l1.9 -1.7 v6.6" fill="none" stroke="#1a1a1a" stroke-width="1.05" stroke-linejoin="miter"/>
<line x1="726.8" y1="497.1" x2="732.0" y2="488.3" stroke="#1a1a1a" stroke-width="1.0"/>
<text x="731.3" y="497.1" font-size="6.6" fill="#1a1a1a" stroke="#1a1a1a" stroke-width="0.15">6</text>
<text transform="translate(777.9 495.5) scale(0.945 1)" font-size="9.2" text-anchor="start" fill="#1c9a9a">66,9 dB</text>
</svg>
</body></html>
